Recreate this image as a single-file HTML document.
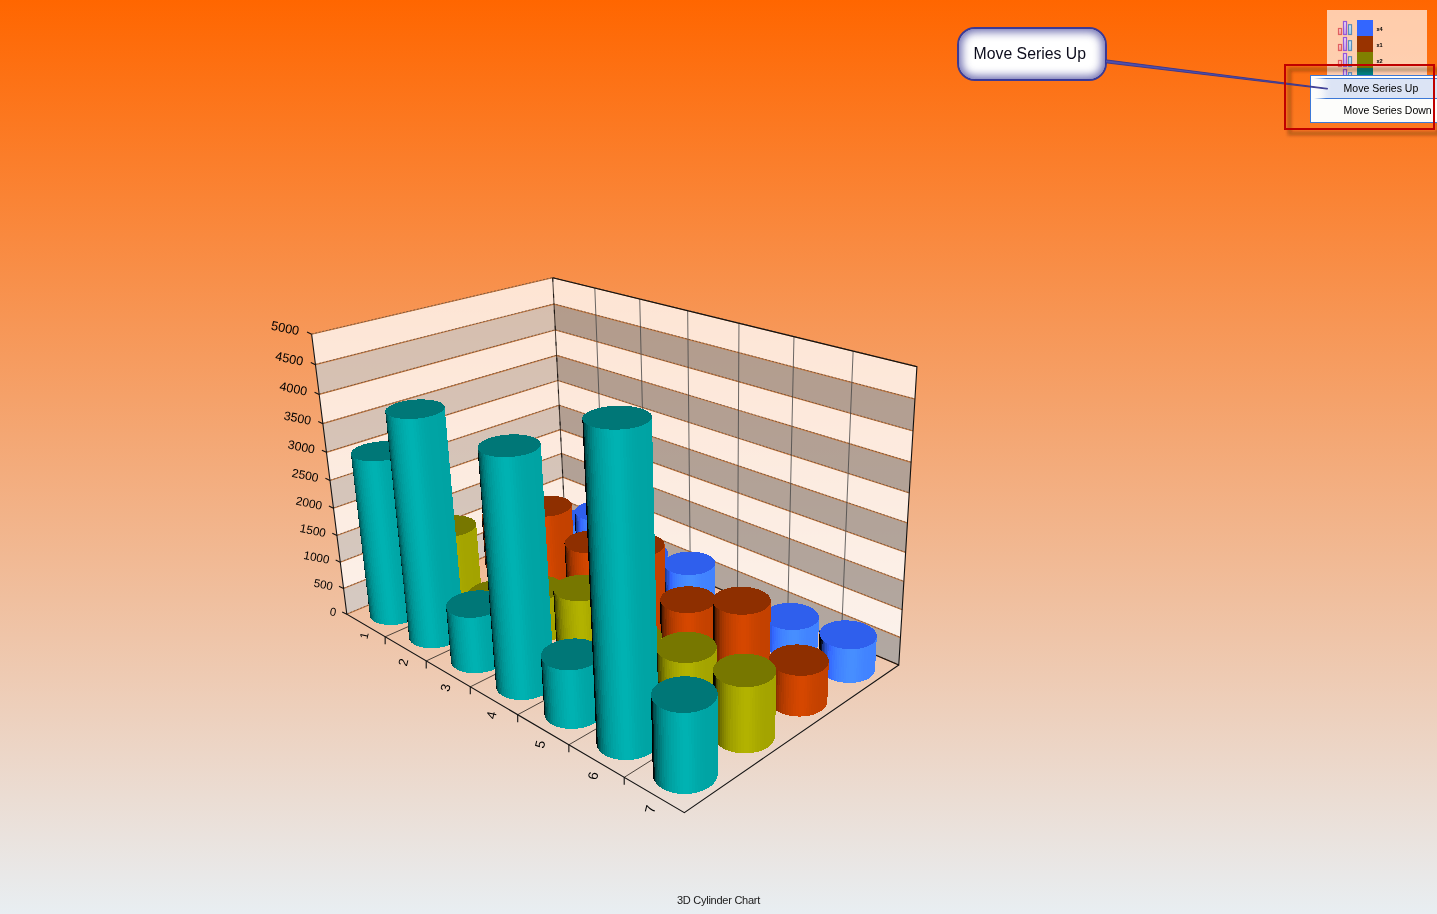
<!DOCTYPE html>
<html><head><meta charset="utf-8"><title>3D Cylinder Chart</title>
<style>
html,body{margin:0;padding:0;}
body{width:1437px;height:914px;overflow:hidden;position:relative;font-family:"Liberation Sans",Arial,sans-serif;
background:linear-gradient(to bottom,#ff6600 0%,#e8eef2 100%);}
#title{position:absolute;left:0;width:1437px;top:893px;text-align:center;font-size:11px;line-height:14px;color:#1a1a1a;letter-spacing:-0.25px;}
#legend{position:absolute;left:1327px;top:10px;width:100px;height:84px;background:rgba(255,255,255,0.667);}
.sw{position:absolute;left:30px;width:16px;height:16px;}
.lt{position:absolute;left:49.6px;font-size:5.6px;line-height:6px;color:#000;font-weight:bold;letter-spacing:-0.2px}
#callout{position:absolute;left:957px;top:27.2px;width:149.6px;height:53.6px;box-sizing:border-box;border:2px solid #3a3a96;border-radius:18px;
background:#fff;box-shadow:inset 0 0 9px 3px rgba(95,95,168,0.9);font-size:15.8px;line-height:49.5px;text-align:center;color:#0c0c1c;text-indent:-4px;}
#menu{position:absolute;left:1310px;top:75px;width:140px;height:47.5px;box-sizing:border-box;border:1px solid #3c78d7;background:#fdfdfb;font-size:10.5px;color:#000;}
#hl{position:absolute;left:3px;top:1.5px;right:-10px;height:21px;border-top:1px solid #3c78d7;border-bottom:1px solid #3c78d7;
background:linear-gradient(to right,#fdfdfb 0,#dce4f5 17px);box-sizing:border-box;}
#hlf{position:absolute;left:3px;top:1.5px;width:12px;height:21px;background:linear-gradient(to right,#fdfdfb 0,rgba(253,253,251,0) 100%);}
.mi{position:absolute;left:32.6px;white-space:nowrap;line-height:13px;}
</style></head><body>
<div id="title">3D Cylinder Chart</div>
<svg width="1437" height="914" viewBox="0 0 1437 914" style="position:absolute;left:0;top:0"><defs></defs><g shape-rendering="geometricPrecision">
<polygon points="346.81,614.26 565.14,523.32 563.98,500.41 343.57,588.44" fill="rgba(204,204,204,0.76)"/>
<polygon points="343.57,588.44 563.98,500.41 562.79,477.16 340.27,562.18" fill="rgba(255,255,255,0.76)"/>
<polygon points="340.27,562.18 562.79,477.16 561.6,453.56 336.91,535.45" fill="rgba(204,204,204,0.76)"/>
<polygon points="336.91,535.45 561.6,453.56 560.38,429.6 333.49,508.25" fill="rgba(255,255,255,0.76)"/>
<polygon points="333.49,508.25 560.38,429.6 559.15,405.27 330.01,480.56" fill="rgba(204,204,204,0.76)"/>
<polygon points="330.01,480.56 559.15,405.27 557.89,380.56 326.47,452.37" fill="rgba(255,255,255,0.76)"/>
<polygon points="326.47,452.37 557.89,380.56 556.62,355.47 322.86,423.66" fill="rgba(204,204,204,0.76)"/>
<polygon points="322.86,423.66 556.62,355.47 555.32,329.98 319.19,394.42" fill="rgba(255,255,255,0.76)"/>
<polygon points="319.19,394.42 555.32,329.98 554.01,304.09 315.44,364.63" fill="rgba(204,204,204,0.76)"/>
<polygon points="315.44,364.63 554.01,304.09 552.67,277.78 311.63,334.29" fill="rgba(255,255,255,0.76)"/>
<polygon points="565.14,523.32 898.78,664.96 900.44,637.64 563.98,500.41" fill="rgba(158,158,158,0.76)"/>
<polygon points="563.98,500.41 900.44,637.64 902.13,609.8 562.79,477.16" fill="rgba(255,255,255,0.76)"/>
<polygon points="562.79,477.16 902.13,609.8 903.86,581.43 561.6,453.56" fill="rgba(158,158,158,0.76)"/>
<polygon points="561.6,453.56 903.86,581.43 905.62,552.51 560.38,429.6" fill="rgba(255,255,255,0.76)"/>
<polygon points="560.38,429.6 905.62,552.51 907.41,523.04 559.15,405.27" fill="rgba(158,158,158,0.76)"/>
<polygon points="559.15,405.27 907.41,523.04 909.24,492.98 557.89,380.56" fill="rgba(255,255,255,0.76)"/>
<polygon points="557.89,380.56 909.24,492.98 911.1,462.34 556.62,355.47" fill="rgba(158,158,158,0.76)"/>
<polygon points="556.62,355.47 911.1,462.34 913,431.07 555.32,329.98" fill="rgba(255,255,255,0.76)"/>
<polygon points="555.32,329.98 913,431.07 914.94,399.18 554.01,304.09" fill="rgba(158,158,158,0.76)"/>
<polygon points="554.01,304.09 914.94,399.18 916.92,366.64 552.67,277.78" fill="rgba(255,255,255,0.76)"/>
<polyline points="346.81,614.26 565.14,523.32 898.78,664.96" fill="none" stroke="#c47840" stroke-width="1.15"/>
<polyline points="346.81,614.26 565.14,523.32 898.78,664.96" fill="none" stroke="rgba(70,58,50,0.65)" stroke-width="0.9" stroke-dasharray="2 1.6" transform="translate(0,-0.3)"/>
<polyline points="343.57,588.44 563.98,500.41 900.44,637.64" fill="none" stroke="#c47840" stroke-width="1.15"/>
<polyline points="343.57,588.44 563.98,500.41 900.44,637.64" fill="none" stroke="rgba(70,58,50,0.65)" stroke-width="0.9" stroke-dasharray="2 1.6" transform="translate(0,-0.3)"/>
<polyline points="340.27,562.18 562.79,477.16 902.13,609.8" fill="none" stroke="#c47840" stroke-width="1.15"/>
<polyline points="340.27,562.18 562.79,477.16 902.13,609.8" fill="none" stroke="rgba(70,58,50,0.65)" stroke-width="0.9" stroke-dasharray="2 1.6" transform="translate(0,-0.3)"/>
<polyline points="336.91,535.45 561.6,453.56 903.86,581.43" fill="none" stroke="#c47840" stroke-width="1.15"/>
<polyline points="336.91,535.45 561.6,453.56 903.86,581.43" fill="none" stroke="rgba(70,58,50,0.65)" stroke-width="0.9" stroke-dasharray="2 1.6" transform="translate(0,-0.3)"/>
<polyline points="333.49,508.25 560.38,429.6 905.62,552.51" fill="none" stroke="#c47840" stroke-width="1.15"/>
<polyline points="333.49,508.25 560.38,429.6 905.62,552.51" fill="none" stroke="rgba(70,58,50,0.65)" stroke-width="0.9" stroke-dasharray="2 1.6" transform="translate(0,-0.3)"/>
<polyline points="330.01,480.56 559.15,405.27 907.41,523.04" fill="none" stroke="#c47840" stroke-width="1.15"/>
<polyline points="330.01,480.56 559.15,405.27 907.41,523.04" fill="none" stroke="rgba(70,58,50,0.65)" stroke-width="0.9" stroke-dasharray="2 1.6" transform="translate(0,-0.3)"/>
<polyline points="326.47,452.37 557.89,380.56 909.24,492.98" fill="none" stroke="#c47840" stroke-width="1.15"/>
<polyline points="326.47,452.37 557.89,380.56 909.24,492.98" fill="none" stroke="rgba(70,58,50,0.65)" stroke-width="0.9" stroke-dasharray="2 1.6" transform="translate(0,-0.3)"/>
<polyline points="322.86,423.66 556.62,355.47 911.1,462.34" fill="none" stroke="#c47840" stroke-width="1.15"/>
<polyline points="322.86,423.66 556.62,355.47 911.1,462.34" fill="none" stroke="rgba(70,58,50,0.65)" stroke-width="0.9" stroke-dasharray="2 1.6" transform="translate(0,-0.3)"/>
<polyline points="319.19,394.42 555.32,329.98 913,431.07" fill="none" stroke="#c47840" stroke-width="1.15"/>
<polyline points="319.19,394.42 555.32,329.98 913,431.07" fill="none" stroke="rgba(70,58,50,0.65)" stroke-width="0.9" stroke-dasharray="2 1.6" transform="translate(0,-0.3)"/>
<polyline points="315.44,364.63 554.01,304.09 914.94,399.18" fill="none" stroke="#c47840" stroke-width="1.15"/>
<polyline points="315.44,364.63 554.01,304.09 914.94,399.18" fill="none" stroke="rgba(70,58,50,0.65)" stroke-width="0.9" stroke-dasharray="2 1.6" transform="translate(0,-0.3)"/>
<polyline points="311.63,334.29 552.67,277.78 916.92,366.64" fill="none" stroke="#c47840" stroke-width="1.15"/>
<polyline points="311.63,334.29 552.67,277.78 916.92,366.64" fill="none" stroke="rgba(70,58,50,0.65)" stroke-width="0.9" stroke-dasharray="2 1.6" transform="translate(0,-0.3)"/>
<line x1="604.43" y1="540" x2="594.82" y2="288.06" stroke="rgba(70,70,70,0.8)" stroke-width="1.0"/>
<line x1="646.1" y1="557.69" x2="639.72" y2="299.01" stroke="rgba(70,70,70,0.8)" stroke-width="1.0"/>
<line x1="690.35" y1="576.47" x2="687.66" y2="310.71" stroke="rgba(70,70,70,0.8)" stroke-width="1.0"/>
<line x1="737.44" y1="596.47" x2="738.96" y2="323.22" stroke="rgba(70,70,70,0.8)" stroke-width="1.0"/>
<line x1="787.65" y1="617.78" x2="793.98" y2="336.65" stroke="rgba(70,70,70,0.8)" stroke-width="1.0"/>
<line x1="841.31" y1="640.56" x2="853.14" y2="351.08" stroke="rgba(70,70,70,0.8)" stroke-width="1.0"/>
<line x1="385.16" y1="636.8" x2="604.43" y2="540" stroke="rgba(60,52,46,0.9)" stroke-width="1.0"/>
<line x1="426.22" y1="660.94" x2="646.1" y2="557.69" stroke="rgba(60,52,46,0.9)" stroke-width="1.0"/>
<line x1="470.29" y1="686.84" x2="690.35" y2="576.47" stroke="rgba(60,52,46,0.9)" stroke-width="1.0"/>
<line x1="517.7" y1="714.71" x2="737.44" y2="596.47" stroke="rgba(60,52,46,0.9)" stroke-width="1.0"/>
<line x1="568.86" y1="744.78" x2="787.65" y2="617.78" stroke="rgba(60,52,46,0.9)" stroke-width="1.0"/>
<line x1="624.22" y1="777.33" x2="841.31" y2="640.56" stroke="rgba(60,52,46,0.9)" stroke-width="1.0"/>
<polyline points="565.14,523.32 898.78,664.96 916.92,366.64 552.67,277.78" fill="none" stroke="#111" stroke-width="1.1"/>
<line x1="565.14" y1="523.32" x2="552.67" y2="277.78" stroke="rgba(0,0,0,0.8)" stroke-width="0.9"/>
<line x1="552.67" y1="277.78" x2="565.14" y2="523.32" stroke="#000" stroke-width="1.2" stroke-dasharray="4 12" stroke-opacity="0.6"/>
<polyline points="311.63,334.29 346.81,614.26 684.33,812.66 898.78,664.96" fill="none" stroke="#141414" stroke-width="1.1"/>
<line x1="346.81" y1="614.26" x2="342.21" y2="612.06" stroke="#111" stroke-width="1.1"/>
<line x1="343.57" y1="588.44" x2="338.97" y2="586.24" stroke="#111" stroke-width="1.1"/>
<line x1="340.27" y1="562.18" x2="335.67" y2="559.98" stroke="#111" stroke-width="1.1"/>
<line x1="336.91" y1="535.45" x2="332.31" y2="533.25" stroke="#111" stroke-width="1.1"/>
<line x1="333.49" y1="508.25" x2="328.89" y2="506.05" stroke="#111" stroke-width="1.1"/>
<line x1="330.01" y1="480.56" x2="325.41" y2="478.36" stroke="#111" stroke-width="1.1"/>
<line x1="326.47" y1="452.37" x2="321.87" y2="450.17" stroke="#111" stroke-width="1.1"/>
<line x1="322.86" y1="423.66" x2="318.26" y2="421.46" stroke="#111" stroke-width="1.1"/>
<line x1="319.19" y1="394.42" x2="314.59" y2="392.22" stroke="#111" stroke-width="1.1"/>
<line x1="315.44" y1="364.63" x2="310.84" y2="362.43" stroke="#111" stroke-width="1.1"/>
<line x1="311.63" y1="334.29" x2="307.03" y2="332.09" stroke="#111" stroke-width="1.1"/>
<line x1="385.16" y1="636.8" x2="385.16" y2="644.3" stroke="#111" stroke-width="1.1"/>
<line x1="426.22" y1="660.94" x2="426.22" y2="668.44" stroke="#111" stroke-width="1.1"/>
<line x1="470.29" y1="686.84" x2="470.29" y2="694.34" stroke="#111" stroke-width="1.1"/>
<line x1="517.7" y1="714.71" x2="517.7" y2="722.21" stroke="#111" stroke-width="1.1"/>
<line x1="568.86" y1="744.78" x2="568.86" y2="752.28" stroke="#111" stroke-width="1.1"/>
<line x1="624.22" y1="777.33" x2="624.22" y2="784.83" stroke="#111" stroke-width="1.1"/>
</g>
<g font-family="'Liberation Sans',Arial,sans-serif" fill="#000">
<text transform="matrix(0.98,0.2,-0.18,0.98,335.51,616.16)" font-size="11.4" text-anchor="end">0</text>
<text transform="matrix(0.98,0.2,-0.18,0.98,332.07,590.25)" font-size="11.54" text-anchor="end">500</text>
<text transform="matrix(0.98,0.2,-0.18,0.98,328.57,563.9)" font-size="11.68" text-anchor="end">1000</text>
<text transform="matrix(0.98,0.2,-0.18,0.98,325.01,537.08)" font-size="11.82" text-anchor="end">1500</text>
<text transform="matrix(0.98,0.2,-0.18,0.98,321.39,509.79)" font-size="11.96" text-anchor="end">2000</text>
<text transform="matrix(0.98,0.2,-0.18,0.98,317.71,482.01)" font-size="12.1" text-anchor="end">2500</text>
<text transform="matrix(0.98,0.2,-0.18,0.98,313.97,453.73)" font-size="12.24" text-anchor="end">3000</text>
<text transform="matrix(0.98,0.2,-0.18,0.98,310.16,424.93)" font-size="12.38" text-anchor="end">3500</text>
<text transform="matrix(0.98,0.2,-0.18,0.98,306.29,395.6)" font-size="12.52" text-anchor="end">4000</text>
<text transform="matrix(0.98,0.2,-0.18,0.98,302.34,365.72)" font-size="12.66" text-anchor="end">4500</text>
<text transform="matrix(0.98,0.2,-0.18,0.98,298.33,335.29)" font-size="12.8" text-anchor="end">5000</text>
<text transform="matrix(0.24,-0.97,0.97,0.22,368.08,636.34)" font-size="11.5" text-anchor="middle">1</text>
<text transform="matrix(0.24,-0.97,0.97,0.22,407.58,663.18)" font-size="13" text-anchor="middle">2</text>
<text transform="matrix(0.24,-0.97,0.97,0.22,449.87,688.79)" font-size="13.2" text-anchor="middle">3</text>
<text transform="matrix(0.24,-0.97,0.97,0.22,495.83,716.07)" font-size="13.4" text-anchor="middle">4</text>
<text transform="matrix(0.24,-0.97,0.97,0.22,544.63,745.32)" font-size="13.6" text-anchor="middle">5</text>
<text transform="matrix(0.24,-0.97,0.97,0.22,597.6,776.71)" font-size="13.8" text-anchor="middle">6</text>
<text transform="matrix(0.24,-0.97,0.97,0.22,654.94,810.12)" font-size="14" text-anchor="middle">7</text>
</g>
<g shape-rendering="crispEdges">
<polygon points="537.08,543.2 535.66,519.65 535.73,518.79 535.99,517.93 536.43,517.08 537.03,516.24 537.81,515.42 538.74,514.62 539.83,513.85 541.06,513.12 542.42,512.42 543.91,511.78 545.52,511.18 547.22,510.64 549.01,510.16 550.87,509.74 552.8,509.38 554.77,509.09 556.77,508.87 558.79,508.72 560.82,508.64 562.83,508.64 564.82,508.7 566.76,508.84 568.65,509.05 570.48,509.33 572.22,509.67 573.87,510.09 575.41,510.56 576.83,511.09 578.13,511.68 579.28,512.32 580.29,513 581.14,513.73 581.83,514.49 582.35,515.28 582.7,516.1 582.87,516.94 583.92,540.41 583.92,541.28 583.73,542.17 583.37,543.06 582.84,543.94 582.13,544.8 581.25,545.65 580.22,546.46 579.03,547.25 577.69,547.99 576.22,548.69 574.62,549.34 572.92,549.93 571.11,550.45 569.22,550.92 567.26,551.31 565.25,551.63 563.19,551.87 561.12,552.04 559.04,552.12 556.97,552.13 554.93,552.06 552.94,551.9 551,551.67 549.14,551.37 547.37,550.99 545.71,550.53 544.16,550.02 542.74,549.44 541.46,548.8 540.33,548.11 539.36,547.37 538.56,546.59 537.92,545.78 537.46,544.94 537.18,544.08" fill="#4488ff"/><polygon points="535.66,519.65 535.76,520.49 537.18,544.08 537.08,543.2" fill="#000102"/><polygon points="535.76,520.49 536.04,521.33 537.46,544.94 537.18,544.08" fill="#02040a"/><polygon points="536.04,521.33 536.5,522.14 537.92,545.78 537.46,544.94" fill="#09122e"/><polygon points="536.5,522.14 537.14,522.93 538.56,546.59 537.92,545.78" fill="#1d398f"/><polygon points="537.14,522.93 537.95,523.68 539.36,547.37 538.56,546.59" fill="#2244ab"/><polygon points="537.95,523.68 538.93,524.39 540.33,548.11 539.36,547.37" fill="#2851ca"/><polygon points="538.93,524.39 540.06,525.06 541.46,548.8 540.33,548.11" fill="#2e5ce5"/><polygon points="540.06,525.06 541.35,525.68 542.74,549.44 541.46,548.8" fill="#3365fd"/><polygon points="541.35,525.68 542.78,526.24 544.16,550.02 542.74,549.44" fill="#376eff"/><polygon points="542.78,526.24 544.34,526.74 545.71,550.53 544.16,550.02" fill="#3a75ff"/><polygon points="544.34,526.74 546.01,527.18 547.37,550.99 545.71,550.53" fill="#3d7bff"/><polygon points="546.01,527.18 547.8,527.54 549.14,551.37 547.37,550.99" fill="#4080ff"/><polygon points="547.8,527.54 549.67,527.84 551,551.67 549.14,551.37" fill="#4284ff"/><polygon points="549.67,527.84 551.62,528.07 552.94,551.9 551,551.67" fill="#4387ff"/><polygon points="551.62,528.07 553.63,528.21 554.93,552.06 552.94,551.9" fill="#458aff"/><polygon points="553.63,528.21 555.69,528.28 556.97,552.13 554.93,552.06" fill="#468dff"/><polygon points="555.69,528.28 557.77,528.28 559.04,552.12 556.97,552.13" fill="#478eff"/><polygon points="557.77,528.28 559.87,528.19 561.12,552.04 559.04,552.12" fill="#478eff"/><polygon points="559.87,528.19 561.96,528.03 563.19,551.87 561.12,552.04" fill="#468dff"/><polygon points="561.96,528.03 564.03,527.8 565.25,551.63 563.19,551.87" fill="#458aff"/><polygon points="564.03,527.8 566.06,527.49 567.26,551.31 565.25,551.63" fill="#4488ff"/><polygon points="566.06,527.49 568.03,527.11 569.22,550.92 567.26,551.31" fill="#4386ff"/><polygon points="568.03,527.11 569.94,526.66 571.11,550.45 569.22,550.92" fill="#4284ff"/><polygon points="569.94,526.66 571.76,526.15 572.92,549.93 571.11,550.45" fill="#4284ff"/><polygon points="571.76,526.15 573.48,525.58 574.62,549.34 572.92,549.93" fill="#4183ff"/><polygon points="573.48,525.58 575.09,524.95 576.22,548.69 574.62,549.34" fill="#4183ff"/><polygon points="575.09,524.95 576.57,524.28 577.69,547.99 576.22,548.69" fill="#4182ff"/><polygon points="576.57,524.28 577.92,523.56 579.03,547.25 577.69,547.99" fill="#4182ff"/><polygon points="577.92,523.56 579.12,522.8 580.22,546.46 579.03,547.25" fill="#4182ff"/><polygon points="579.12,522.8 580.17,522.01 581.25,545.65 580.22,546.46" fill="#4182ff"/><polygon points="580.17,522.01 581.05,521.19 582.13,544.8 581.25,545.65" fill="#4182ff"/><polygon points="581.05,521.19 581.77,520.36 582.84,543.94 582.13,544.8" fill="#4182ff"/><polygon points="581.77,520.36 582.31,519.51 583.37,543.06 582.84,543.94" fill="#4182ff"/><polygon points="582.31,519.51 582.68,518.65 583.73,542.17 583.37,543.06" fill="#4182ff"/><polygon points="582.68,518.65 582.86,517.79 583.92,541.28 583.73,542.17" fill="#4182ff"/><polygon points="582.86,517.79 582.87,516.94 583.92,540.41 583.92,541.28" fill="#4081ff"/><polygon points="575.09,524.95 576.57,524.28 577.92,523.56 579.12,522.8 580.17,522.01 581.05,521.19 581.77,520.36 582.31,519.51 582.68,518.65 582.86,517.79 582.87,516.94 582.7,516.1 582.35,515.28 581.83,514.49 581.14,513.73 580.29,513 579.28,512.32 578.13,511.68 576.83,511.09 575.41,510.56 573.87,510.09 572.22,509.67 570.48,509.33 568.65,509.05 566.76,508.84 564.82,508.7 562.83,508.64 560.82,508.64 558.79,508.72 556.77,508.87 554.77,509.09 552.8,509.38 550.87,509.74 549.01,510.16 547.22,510.64 545.52,511.18 543.91,511.78 542.42,512.42 541.06,513.12 539.83,513.85 538.74,514.62 537.81,515.42 537.03,516.24 536.43,517.08 535.99,517.93 535.73,518.79 535.66,519.65 535.76,520.49 536.04,521.33 536.5,522.14 537.14,522.93 537.95,523.68 538.93,524.39 540.06,525.06 541.35,525.68 542.78,526.24 544.34,526.74 546.01,527.18 547.8,527.54 549.67,527.84 551.62,528.07 553.63,528.21 555.69,528.28 557.77,528.28 559.87,528.19 561.96,528.03 564.03,527.8 566.06,527.49 568.03,527.11 569.94,526.66 571.76,526.15 573.48,525.58" fill="#2f5fed"/>
<polygon points="576.94,561.09 574.6,511.89 574.62,511.01 574.83,510.13 575.22,509.26 575.79,508.4 576.53,507.56 577.44,506.74 578.52,505.95 579.74,505.2 581.11,504.49 582.61,503.83 584.23,503.22 585.96,502.67 587.78,502.17 589.69,501.74 591.66,501.38 593.69,501.08 595.75,500.86 597.84,500.7 599.93,500.62 602.02,500.62 604.09,500.68 606.12,500.83 608.1,501.04 610.01,501.32 611.85,501.68 613.59,502.1 615.23,502.58 616.74,503.13 618.13,503.73 619.38,504.38 620.47,505.08 621.41,505.83 622.19,506.61 622.79,507.42 623.21,508.26 623.45,509.12 623.51,509.99 625.06,559.05 624.93,559.99 624.62,560.93 624.13,561.87 623.47,562.78 622.63,563.68 621.62,564.55 620.45,565.38 619.12,566.17 617.66,566.91 616.06,567.6 614.34,568.23 612.52,568.79 610.6,569.28 608.61,569.7 606.56,570.04 604.46,570.29 602.34,570.47 600.2,570.56 598.07,570.57 595.96,570.49 593.89,570.33 591.88,570.08 589.94,569.76 588.09,569.35 586.34,568.88 584.71,568.33 583.21,567.71 581.85,567.03 580.63,566.3 579.58,565.52 578.7,564.69 577.99,563.83 577.45,562.93 577.1,562.02" fill="#4488ff"/><polygon points="574.6,511.89 574.77,512.76 577.1,562.02 576.94,561.09" fill="#000102"/><polygon points="574.77,512.76 575.12,513.61 577.45,562.93 577.1,562.02" fill="#02040a"/><polygon points="575.12,513.61 575.66,514.45 577.99,563.83 577.45,562.93" fill="#09122e"/><polygon points="575.66,514.45 576.38,515.25 578.7,564.69 577.99,563.83" fill="#1d398f"/><polygon points="576.38,515.25 577.27,516.02 579.58,565.52 578.7,564.69" fill="#2244ab"/><polygon points="577.27,516.02 578.34,516.76 580.63,566.3 579.58,565.52" fill="#2851ca"/><polygon points="578.34,516.76 579.57,517.44 581.85,567.03 580.63,566.3" fill="#2e5ce5"/><polygon points="579.57,517.44 580.95,518.07 583.21,567.71 581.85,567.03" fill="#3365fd"/><polygon points="580.95,518.07 582.47,518.65 584.71,568.33 583.21,567.71" fill="#376eff"/><polygon points="582.47,518.65 584.13,519.16 586.34,568.88 584.71,568.33" fill="#3a75ff"/><polygon points="584.13,519.16 585.91,519.61 588.09,569.35 586.34,568.88" fill="#3d7bff"/><polygon points="585.91,519.61 587.78,519.99 589.94,569.76 588.09,569.35" fill="#4080ff"/><polygon points="587.78,519.99 589.75,520.29 591.88,570.08 589.94,569.76" fill="#4284ff"/><polygon points="589.75,520.29 591.8,520.52 593.89,570.33 591.88,570.08" fill="#4387ff"/><polygon points="591.8,520.52 593.9,520.67 595.96,570.49 593.89,570.33" fill="#458aff"/><polygon points="593.9,520.67 596.04,520.75 598.07,570.57 595.96,570.49" fill="#468dff"/><polygon points="596.04,520.75 598.21,520.74 600.2,570.56 598.07,570.57" fill="#478eff"/><polygon points="598.21,520.74 600.38,520.65 602.34,570.47 600.2,570.56" fill="#478eff"/><polygon points="600.38,520.65 602.54,520.49 604.46,570.29 602.34,570.47" fill="#468dff"/><polygon points="602.54,520.49 604.68,520.25 606.56,570.04 604.46,570.29" fill="#458aff"/><polygon points="604.68,520.25 606.76,519.93 608.61,569.7 606.56,570.04" fill="#4488ff"/><polygon points="606.76,519.93 608.79,519.54 610.6,569.28 608.61,569.7" fill="#4386ff"/><polygon points="608.79,519.54 610.74,519.08 612.52,568.79 610.6,569.28" fill="#4284ff"/><polygon points="610.74,519.08 612.59,518.56 614.34,568.23 612.52,568.79" fill="#4284ff"/><polygon points="612.59,518.56 614.34,517.97 616.06,567.6 614.34,568.23" fill="#4183ff"/><polygon points="614.34,517.97 615.96,517.33 617.66,566.91 616.06,567.6" fill="#4183ff"/><polygon points="615.96,517.33 617.46,516.64 619.12,566.17 617.66,566.91" fill="#4182ff"/><polygon points="617.46,516.64 618.8,515.9 620.45,565.38 619.12,566.17" fill="#4182ff"/><polygon points="618.8,515.9 620,515.12 621.62,564.55 620.45,565.38" fill="#4182ff"/><polygon points="620,515.12 621.02,514.31 622.63,563.68 621.62,564.55" fill="#4182ff"/><polygon points="621.02,514.31 621.88,513.48 623.47,562.78 622.63,563.68" fill="#4182ff"/><polygon points="621.88,513.48 622.56,512.62 624.13,561.87 623.47,562.78" fill="#4182ff"/><polygon points="622.56,512.62 623.06,511.75 624.62,560.93 624.13,561.87" fill="#4182ff"/><polygon points="623.06,511.75 623.38,510.87 624.93,559.99 624.62,560.93" fill="#4182ff"/><polygon points="623.38,510.87 623.51,509.99 625.06,559.05 624.93,559.99" fill="#4182ff"/><polygon points="615.96,517.33 617.46,516.64 618.8,515.9 620,515.12 621.02,514.31 621.88,513.48 622.56,512.62 623.06,511.75 623.38,510.87 623.51,509.99 623.45,509.12 623.21,508.26 622.79,507.42 622.19,506.61 621.41,505.83 620.47,505.08 619.38,504.38 618.13,503.73 616.74,503.13 615.23,502.58 613.59,502.1 611.85,501.68 610.01,501.32 608.1,501.04 606.12,500.83 604.09,500.68 602.02,500.62 599.93,500.62 597.84,500.7 595.75,500.86 593.69,501.08 591.66,501.38 589.69,501.74 587.78,502.17 585.96,502.67 584.23,503.22 582.61,503.83 581.11,504.49 579.74,505.2 578.52,505.95 577.44,506.74 576.53,507.56 575.79,508.4 575.22,509.26 574.83,510.13 574.62,511.01 574.6,511.89 574.77,512.76 575.12,513.61 575.66,514.45 576.38,515.25 577.27,516.02 578.34,516.76 579.57,517.44 580.95,518.07 582.47,518.65 584.13,519.16 585.91,519.61 587.78,519.99 589.75,520.29 591.8,520.52 593.9,520.67 596.04,520.75 598.21,520.74 600.38,520.65 602.54,520.49 604.68,520.25 606.76,519.93 608.79,519.54 610.74,519.08 612.59,518.56 614.34,517.97" fill="#2f5fed"/>
<polygon points="668.33,553.26 668.76,577.93 668.7,578.93 668.45,579.93 668.02,580.92 667.4,581.9 666.6,582.85 665.62,583.77 664.47,584.66 663.17,585.5 661.71,586.29 660.11,587.02 658.39,587.69 656.55,588.29 654.61,588.81 652.59,589.25 650.49,589.61 648.35,589.89 646.17,590.08 643.97,590.17 641.77,590.18 639.59,590.1 637.45,589.93 635.35,589.67 633.33,589.32 631.39,588.89 629.55,588.38 627.83,587.79 626.23,587.14 624.78,586.42 623.48,585.64 622.34,584.8 621.36,583.92 620.57,583.01 619.95,582.06 619.53,581.08 619.29,580.09 619.24,579.09 618.4,554.39 618.54,553.42 618.87,552.45 619.39,551.51 620.08,550.58 620.95,549.68 621.98,548.81 623.18,547.98 624.52,547.2 626,546.47 627.61,545.8 629.33,545.19 631.15,544.64 633.07,544.17 635.05,543.77 637.1,543.44 639.19,543.19 641.32,543.02 643.45,542.93 645.59,542.93 647.71,543 649.8,543.16 651.84,543.39 653.82,543.71 655.73,544.1 657.54,544.56 659.25,545.09 660.85,545.69 662.32,546.36 663.65,547.08 664.83,547.85 665.85,548.67 666.7,549.53 667.38,550.43 667.89,551.35 668.2,552.3" fill="#4488ff"/><polygon points="618.4,554.39 618.45,555.35 619.29,580.09 619.24,579.09" fill="#000000"/><polygon points="618.45,555.35 618.69,556.31 619.53,581.08 619.29,580.09" fill="#000102"/><polygon points="618.69,556.31 619.12,557.26 619.95,582.06 619.53,581.08" fill="#02040a"/><polygon points="619.12,557.26 619.74,558.18 620.57,583.01 619.95,582.06" fill="#09122e"/><polygon points="619.74,558.18 620.54,559.06 621.36,583.92 620.57,583.01" fill="#1d398f"/><polygon points="620.54,559.06 621.52,559.92 622.34,584.8 621.36,583.92" fill="#2244ab"/><polygon points="621.52,559.92 622.67,560.72 623.48,585.64 622.34,584.8" fill="#2851ca"/><polygon points="622.67,560.72 623.98,561.48 624.78,586.42 623.48,585.64" fill="#2e5ce5"/><polygon points="623.98,561.48 625.45,562.18 626.23,587.14 624.78,586.42" fill="#3365fd"/><polygon points="625.45,562.18 627.06,562.81 627.83,587.79 626.23,587.14" fill="#376eff"/><polygon points="627.06,562.81 628.79,563.38 629.55,588.38 627.83,587.79" fill="#3a75ff"/><polygon points="628.79,563.38 630.65,563.87 631.39,588.89 629.55,588.38" fill="#3d7bff"/><polygon points="630.65,563.87 632.6,564.29 633.33,589.32 631.39,588.89" fill="#4080ff"/><polygon points="632.6,564.29 634.64,564.63 635.35,589.67 633.33,589.32" fill="#4284ff"/><polygon points="634.64,564.63 636.75,564.88 637.45,589.93 635.35,589.67" fill="#4387ff"/><polygon points="636.75,564.88 638.91,565.05 639.59,590.1 637.45,589.93" fill="#458aff"/><polygon points="638.91,565.05 641.11,565.13 641.77,590.18 639.59,590.1" fill="#468dff"/><polygon points="641.11,565.13 643.33,565.12 643.97,590.17 641.77,590.18" fill="#478eff"/><polygon points="643.33,565.12 645.54,565.02 646.17,590.08 643.97,590.17" fill="#478eff"/><polygon points="645.54,565.02 647.74,564.84 648.35,589.89 646.17,590.08" fill="#468dff"/><polygon points="647.74,564.84 649.91,564.58 650.49,589.61 648.35,589.89" fill="#458aff"/><polygon points="649.91,564.58 652.02,564.23 652.59,589.25 650.49,589.61" fill="#4488ff"/><polygon points="652.02,564.23 654.06,563.8 654.61,588.81 652.59,589.25" fill="#4386ff"/><polygon points="654.06,563.8 656.02,563.29 656.55,588.29 654.61,588.81" fill="#4284ff"/><polygon points="656.02,563.29 657.87,562.71 658.39,587.69 656.55,588.29" fill="#4284ff"/><polygon points="657.87,562.71 659.61,562.06 660.11,587.02 658.39,587.69" fill="#4183ff"/><polygon points="659.61,562.06 661.22,561.36 661.71,586.29 660.11,587.02" fill="#4183ff"/><polygon points="661.22,561.36 662.69,560.59 663.17,585.5 661.71,586.29" fill="#4182ff"/><polygon points="662.69,560.59 664.01,559.78 664.47,584.66 663.17,585.5" fill="#4182ff"/><polygon points="664.01,559.78 665.16,558.92 665.62,583.77 664.47,584.66" fill="#4182ff"/><polygon points="665.16,558.92 666.15,558.03 666.6,582.85 665.62,583.77" fill="#4182ff"/><polygon points="666.15,558.03 666.96,557.1 667.4,581.9 666.6,582.85" fill="#4182ff"/><polygon points="666.96,557.1 667.58,556.16 668.02,580.92 667.4,581.9" fill="#4182ff"/><polygon points="667.58,556.16 668.02,555.19 668.45,579.93 668.02,580.92" fill="#4182ff"/><polygon points="668.02,555.19 668.27,554.23 668.7,578.93 668.45,579.93" fill="#4182ff"/><polygon points="668.27,554.23 668.33,553.26 668.76,577.93 668.7,578.93" fill="#4182ff"/><polygon points="661.22,561.36 662.69,560.59 664.01,559.78 665.16,558.92 666.15,558.03 666.96,557.1 667.58,556.16 668.02,555.19 668.27,554.23 668.33,553.26 668.2,552.3 667.89,551.35 667.38,550.43 666.7,549.53 665.85,548.67 664.83,547.85 663.65,547.08 662.32,546.36 660.85,545.69 659.25,545.09 657.54,544.56 655.73,544.1 653.82,543.71 651.84,543.39 649.8,543.16 647.71,543 645.59,542.93 643.45,542.93 641.32,543.02 639.19,543.19 637.1,543.44 635.05,543.77 633.07,544.17 631.15,544.64 629.33,545.19 627.61,545.8 626,546.47 624.52,547.2 623.18,547.98 621.98,548.81 620.95,549.68 620.08,550.58 619.39,551.51 618.87,552.45 618.54,553.42 618.4,554.39 618.45,555.35 618.69,556.31 619.12,557.26 619.74,558.18 620.54,559.06 621.52,559.92 622.67,560.72 623.98,561.48 625.45,562.18 627.06,562.81 628.79,563.38 630.65,563.87 632.6,564.29 634.64,564.63 636.75,564.88 638.91,565.05 641.11,565.13 643.33,565.12 645.54,565.02 647.74,564.84 649.91,564.58 652.02,564.23 654.06,563.8 656.02,563.29 657.87,562.71 659.61,562.06" fill="#2f5fed"/>
<polygon points="664.25,599.26 663.57,563.69 663.64,562.68 663.91,561.66 664.37,560.66 665.01,559.69 665.84,558.74 666.85,557.83 668.02,556.96 669.35,556.14 670.82,555.37 672.43,554.66 674.17,554.02 676.02,553.45 677.96,552.95 679.99,552.53 682.08,552.19 684.23,551.92 686.41,551.75 688.61,551.65 690.83,551.65 693.03,551.73 695.2,551.89 697.33,552.14 699.41,552.47 701.41,552.88 703.33,553.36 705.14,553.92 706.84,554.55 708.42,555.25 709.85,556.01 711.14,556.82 712.26,557.68 713.22,558.59 713.99,559.53 714.59,560.5 714.99,561.5 715.21,562.51 715.22,563.53 715.29,599.08 715.11,600.15 714.74,601.2 714.17,602.24 713.42,603.26 712.48,604.25 711.37,605.19 710.08,606.09 708.64,606.93 707.05,607.71 705.32,608.42 703.46,609.06 701.5,609.61 699.44,610.09 697.31,610.47 695.11,610.77 692.88,610.97 690.61,611.07 688.34,611.08 686.09,610.99 683.86,610.81 681.68,610.53 679.56,610.16 677.53,609.7 675.59,609.16 673.77,608.53 672.07,607.83 670.51,607.06 669.11,606.23 667.87,605.34 666.8,604.41 665.91,603.43 665.21,602.42 664.69,601.38 664.37,600.32" fill="#4488ff"/><polygon points="663.57,563.69 663.7,564.71 664.37,600.32 664.25,599.26" fill="#000000"/><polygon points="663.7,564.71 664.02,565.72 664.69,601.38 664.37,600.32" fill="#000102"/><polygon points="664.02,565.72 664.54,566.71 665.21,602.42 664.69,601.38" fill="#02040a"/><polygon points="664.54,566.71 665.25,567.68 665.91,603.43 665.21,602.42" fill="#09122e"/><polygon points="665.25,567.68 666.15,568.62 666.8,604.41 665.91,603.43" fill="#1d398f"/><polygon points="666.15,568.62 667.23,569.51 667.87,605.34 666.8,604.41" fill="#2244ab"/><polygon points="667.23,569.51 668.49,570.36 669.11,606.23 667.87,605.34" fill="#2851ca"/><polygon points="668.49,570.36 669.91,571.16 670.51,607.06 669.11,606.23" fill="#2e5ce5"/><polygon points="669.91,571.16 671.48,571.89 672.07,607.83 670.51,607.06" fill="#3365fd"/><polygon points="671.48,571.89 673.2,572.56 673.77,608.53 672.07,607.83" fill="#376eff"/><polygon points="673.2,572.56 675.04,573.16 675.59,609.16 673.77,608.53" fill="#3a75ff"/><polygon points="675.04,573.16 677,573.68 677.53,609.7 675.59,609.16" fill="#3d7bff"/><polygon points="677,573.68 679.06,574.12 679.56,610.16 677.53,609.7" fill="#4080ff"/><polygon points="679.06,574.12 681.2,574.47 681.68,610.53 679.56,610.16" fill="#4284ff"/><polygon points="681.2,574.47 683.41,574.74 683.86,610.81 681.68,610.53" fill="#4387ff"/><polygon points="683.41,574.74 685.67,574.92 686.09,610.99 683.86,610.81" fill="#458aff"/><polygon points="685.67,574.92 687.95,575 688.34,611.08 686.09,610.99" fill="#468dff"/><polygon points="687.95,575 690.25,574.99 690.61,611.07 688.34,611.08" fill="#478eff"/><polygon points="690.25,574.99 692.54,574.89 692.88,610.97 690.61,611.07" fill="#478eff"/><polygon points="692.54,574.89 694.8,574.7 695.11,610.77 692.88,610.97" fill="#468dff"/><polygon points="694.8,574.7 697.02,574.42 697.31,610.47 695.11,610.77" fill="#458aff"/><polygon points="697.02,574.42 699.18,574.05 699.44,610.09 697.31,610.47" fill="#4488ff"/><polygon points="699.18,574.05 701.27,573.6 701.5,609.61 699.44,610.09" fill="#4386ff"/><polygon points="701.27,573.6 703.25,573.07 703.46,609.06 701.5,609.61" fill="#4284ff"/><polygon points="703.25,573.07 705.13,572.46 705.32,608.42 703.46,609.06" fill="#4284ff"/><polygon points="705.13,572.46 706.88,571.78 707.05,607.71 705.32,608.42" fill="#4183ff"/><polygon points="706.88,571.78 708.49,571.03 708.64,606.93 707.05,607.71" fill="#4183ff"/><polygon points="708.49,571.03 709.95,570.23 710.08,606.09 708.64,606.93" fill="#4182ff"/><polygon points="709.95,570.23 711.25,569.37 711.37,605.19 710.08,606.09" fill="#4182ff"/><polygon points="711.25,569.37 712.38,568.46 712.48,604.25 711.37,605.19" fill="#4182ff"/><polygon points="712.38,568.46 713.33,567.52 713.42,603.26 712.48,604.25" fill="#4182ff"/><polygon points="713.33,567.52 714.09,566.55 714.17,602.24 713.42,603.26" fill="#4182ff"/><polygon points="714.09,566.55 714.66,565.56 714.74,601.2 714.17,602.24" fill="#4182ff"/><polygon points="714.66,565.56 715.04,564.54 715.11,600.15 714.74,601.2" fill="#4182ff"/><polygon points="715.04,564.54 715.22,563.53 715.29,599.08 715.11,600.15" fill="#4182ff"/><polygon points="708.49,571.03 709.95,570.23 711.25,569.37 712.38,568.46 713.33,567.52 714.09,566.55 714.66,565.56 715.04,564.54 715.22,563.53 715.21,562.51 714.99,561.5 714.59,560.5 713.99,559.53 713.22,558.59 712.26,557.68 711.14,556.82 709.85,556.01 708.42,555.25 706.84,554.55 705.14,553.92 703.33,553.36 701.41,552.88 699.41,552.47 697.33,552.14 695.2,551.89 693.03,551.73 690.83,551.65 688.61,551.65 686.41,551.75 684.23,551.92 682.08,552.19 679.99,552.53 677.96,552.95 676.02,553.45 674.17,554.02 672.43,554.66 670.82,555.37 669.35,556.14 668.02,556.96 666.85,557.83 665.84,558.74 665.01,559.69 664.37,560.66 663.91,561.66 663.64,562.68 663.57,563.69 663.7,564.71 664.02,565.72 664.54,566.71 665.25,567.68 666.15,568.62 667.23,569.51 668.49,570.36 669.91,571.16 671.48,571.89 673.2,572.56 675.04,573.16 677,573.68 679.06,574.12 681.2,574.47 683.41,574.74 685.67,574.92 687.95,575 690.25,574.99 692.54,574.89 694.8,574.7 697.02,574.42 699.18,574.05 701.27,573.6 703.25,573.07 705.13,572.46 706.88,571.78" fill="#2f5fed"/>
<polygon points="712.24,619.63 712.21,609.3 712.4,608.18 712.79,607.08 713.37,606 714.14,604.96 715.1,603.95 716.22,602.99 717.52,602.09 718.97,601.24 720.56,600.46 722.29,599.75 724.13,599.12 726.08,598.57 728.12,598.11 730.23,597.73 732.41,597.44 734.63,597.24 736.88,597.14 739.15,597.13 741.41,597.22 743.65,597.4 745.85,597.67 748.01,598.04 750.09,598.49 752.1,599.02 754,599.64 755.8,600.34 757.47,601.11 759,601.94 760.38,602.84 761.61,603.79 762.66,604.78 763.54,605.82 764.23,606.9 764.73,607.99 765.03,609.11 765.13,610.23 764.98,620.58 764.88,621.71 764.58,622.84 764.08,623.95 763.38,625.04 762.49,626.09 761.41,627.1 760.15,628.06 758.73,628.96 757.14,629.79 755.41,630.55 753.55,631.23 751.56,631.83 749.47,632.34 747.3,632.75 745.05,633.06 742.75,633.28 740.42,633.39 738.08,633.4 735.74,633.3 733.42,633.11 731.14,632.81 728.92,632.41 726.78,631.92 724.74,631.34 722.81,630.67 721,629.93 719.33,629.1 717.82,628.22 716.47,627.27 715.29,626.27 714.3,625.22 713.49,624.14 712.88,623.03 712.47,621.9 712.25,620.77" fill="#4488ff"/><polygon points="712.21,609.3 712.22,610.42 712.25,620.77 712.24,619.63" fill="#000000"/><polygon points="712.22,610.42 712.44,611.54 712.47,621.9 712.25,620.77" fill="#000000"/><polygon points="712.44,611.54 712.85,612.66 712.88,623.03 712.47,621.9" fill="#000102"/><polygon points="712.85,612.66 713.46,613.75 713.49,624.14 712.88,623.03" fill="#02040a"/><polygon points="713.46,613.75 714.27,614.82 714.3,625.22 713.49,624.14" fill="#09122e"/><polygon points="714.27,614.82 715.27,615.85 715.29,626.27 714.3,625.22" fill="#1d398f"/><polygon points="715.27,615.85 716.45,616.84 716.47,627.27 715.29,626.27" fill="#2244ab"/><polygon points="716.45,616.84 717.81,617.78 717.82,628.22 716.47,627.27" fill="#2851ca"/><polygon points="717.81,617.78 719.33,618.66 719.33,629.1 717.82,628.22" fill="#2e5ce5"/><polygon points="719.33,618.66 721,619.47 721,629.93 719.33,629.1" fill="#3365fd"/><polygon points="721,619.47 722.81,620.21 722.81,630.67 721,629.93" fill="#376eff"/><polygon points="722.81,620.21 724.75,620.87 724.74,631.34 722.81,630.67" fill="#3a75ff"/><polygon points="724.75,620.87 726.81,621.44 726.78,631.92 724.74,631.34" fill="#3d7bff"/><polygon points="726.81,621.44 728.95,621.93 728.92,632.41 726.78,631.92" fill="#4080ff"/><polygon points="728.95,621.93 731.18,622.32 731.14,632.81 728.92,632.41" fill="#4284ff"/><polygon points="731.18,622.32 733.46,622.61 733.42,633.11 731.14,632.81" fill="#4387ff"/><polygon points="733.46,622.61 735.79,622.81 735.74,633.3 733.42,633.11" fill="#458aff"/><polygon points="735.79,622.81 738.14,622.9 738.08,633.4 735.74,633.3" fill="#468dff"/><polygon points="738.14,622.9 740.49,622.89 740.42,633.39 738.08,633.4" fill="#478eff"/><polygon points="740.49,622.89 742.83,622.78 742.75,633.28 740.42,633.39" fill="#478eff"/><polygon points="742.83,622.78 745.14,622.57 745.05,633.06 742.75,633.28" fill="#468dff"/><polygon points="745.14,622.57 747.39,622.26 747.3,632.75 745.05,633.06" fill="#458aff"/><polygon points="747.39,622.26 749.58,621.85 749.47,632.34 747.3,632.75" fill="#4488ff"/><polygon points="749.58,621.85 751.67,621.35 751.56,631.83 749.47,632.34" fill="#4386ff"/><polygon points="751.67,621.35 753.66,620.76 753.55,631.23 751.56,631.83" fill="#4284ff"/><polygon points="753.66,620.76 755.54,620.09 755.41,630.55 753.55,631.23" fill="#4284ff"/><polygon points="755.54,620.09 757.27,619.34 757.14,629.79 755.41,630.55" fill="#4183ff"/><polygon points="757.27,619.34 758.86,618.51 758.73,628.96 757.14,629.79" fill="#4183ff"/><polygon points="758.86,618.51 760.29,617.63 760.15,628.06 758.73,628.96" fill="#4182ff"/><polygon points="760.29,617.63 761.55,616.68 761.41,627.1 760.15,628.06" fill="#4182ff"/><polygon points="761.55,616.68 762.63,615.68 762.49,626.09 761.41,627.1" fill="#4182ff"/><polygon points="762.63,615.68 763.53,614.64 763.38,625.04 762.49,626.09" fill="#4182ff"/><polygon points="763.53,614.64 764.23,613.57 764.08,623.95 763.38,625.04" fill="#4182ff"/><polygon points="764.23,613.57 764.73,612.47 764.58,622.84 764.08,623.95" fill="#4182ff"/><polygon points="764.73,612.47 765.03,611.36 764.88,621.71 764.58,622.84" fill="#4182ff"/><polygon points="765.03,611.36 765.13,610.23 764.98,620.58 764.88,621.71" fill="#4182ff"/><polygon points="758.86,618.51 760.29,617.63 761.55,616.68 762.63,615.68 763.53,614.64 764.23,613.57 764.73,612.47 765.03,611.36 765.13,610.23 765.03,609.11 764.73,607.99 764.23,606.9 763.54,605.82 762.66,604.78 761.61,603.79 760.38,602.84 759,601.94 757.47,601.11 755.8,600.34 754,599.64 752.1,599.02 750.09,598.49 748.01,598.04 745.85,597.67 743.65,597.4 741.41,597.22 739.15,597.13 736.88,597.14 734.63,597.24 732.41,597.44 730.23,597.73 728.12,598.11 726.08,598.57 724.13,599.12 722.29,599.75 720.56,600.46 718.97,601.24 717.52,602.09 716.22,602.99 715.1,603.95 714.14,604.96 713.37,606 712.79,607.08 712.4,608.18 712.21,609.3 712.22,610.42 712.44,611.54 712.85,612.66 713.46,613.75 714.27,614.82 715.27,615.85 716.45,616.84 717.81,617.78 719.33,618.66 721,619.47 722.81,620.21 724.75,620.87 726.81,621.44 728.95,621.93 731.18,622.32 733.46,622.61 735.79,622.81 738.14,622.9 740.49,622.89 742.83,622.78 745.14,622.57 747.39,622.26 749.58,621.85 751.67,621.35 753.66,620.76 755.54,620.09 757.27,619.34" fill="#2f5fed"/>
<polygon points="763.46,642.54 763.85,615.71 763.96,614.54 764.27,613.38 764.79,612.25 765.5,611.15 766.41,610.1 767.51,609.09 768.78,608.14 770.21,607.25 771.81,606.43 773.54,605.69 775.41,605.03 777.39,604.45 779.47,603.96 781.64,603.57 783.88,603.27 786.17,603.06 788.5,602.95 790.85,602.94 793.21,603.04 795.55,603.22 797.87,603.51 800.13,603.89 802.34,604.36 804.47,604.93 806.5,605.58 808.43,606.3 810.23,607.11 811.89,607.99 813.41,608.92 814.76,609.92 815.94,610.97 816.94,612.06 817.75,613.19 818.36,614.34 818.77,615.51 818.97,616.69 818.97,617.87 818.08,644.77 817.86,645.98 817.43,647.17 816.8,648.33 815.97,649.46 814.94,650.54 813.71,651.56 812.31,652.53 810.74,653.42 809.01,654.23 807.14,654.96 805.13,655.6 803.01,656.14 800.79,656.58 798.49,656.92 796.13,657.15 793.73,657.27 791.3,657.28 788.87,657.18 786.45,656.97 784.07,656.65 781.75,656.23 779.49,655.7 777.33,655.08 775.28,654.36 773.35,653.56 771.56,652.68 769.92,651.73 768.44,650.72 767.15,649.64 766.03,648.52 765.11,647.37 764.39,646.18 763.88,644.97 763.57,643.76" fill="#4488ff"/><polygon points="763.85,615.71 763.96,616.89 763.57,643.76 763.46,642.54" fill="#000000"/><polygon points="763.96,616.89 764.27,618.07 763.88,644.97 763.57,643.76" fill="#000000"/><polygon points="764.27,618.07 764.79,619.24 764.39,646.18 763.88,644.97" fill="#000102"/><polygon points="764.79,619.24 765.52,620.39 765.11,647.37 764.39,646.18" fill="#02040a"/><polygon points="765.52,620.39 766.45,621.51 766.03,648.52 765.11,647.37" fill="#09122e"/><polygon points="766.45,621.51 767.57,622.6 767.15,649.64 766.03,648.52" fill="#1d398f"/><polygon points="767.57,622.6 768.88,623.64 768.44,650.72 767.15,649.64" fill="#2244ab"/><polygon points="768.88,623.64 770.37,624.62 769.92,651.73 768.44,650.72" fill="#2851ca"/><polygon points="770.37,624.62 772.03,625.55 771.56,652.68 769.92,651.73" fill="#2e5ce5"/><polygon points="772.03,625.55 773.83,626.4 773.35,653.56 771.56,652.68" fill="#3365fd"/><polygon points="773.83,626.4 775.78,627.18 775.28,654.36 773.35,653.56" fill="#376eff"/><polygon points="775.78,627.18 777.86,627.87 777.33,655.08 775.28,654.36" fill="#3a75ff"/><polygon points="777.86,627.87 780.04,628.48 779.49,655.7 777.33,655.08" fill="#3d7bff"/><polygon points="780.04,628.48 782.31,628.98 781.75,656.23 779.49,655.7" fill="#4080ff"/><polygon points="782.31,628.98 784.66,629.4 784.07,656.65 781.75,656.23" fill="#4284ff"/><polygon points="784.66,629.4 787.06,629.71 786.45,656.97 784.07,656.65" fill="#4387ff"/><polygon points="787.06,629.71 789.5,629.91 788.87,657.18 786.45,656.97" fill="#458aff"/><polygon points="789.5,629.91 791.96,630.01 791.3,657.28 788.87,657.18" fill="#468dff"/><polygon points="791.96,630.01 794.41,630 793.73,657.27 791.3,657.28" fill="#478eff"/><polygon points="794.41,630 796.83,629.88 796.13,657.15 793.73,657.27" fill="#478eff"/><polygon points="796.83,629.88 799.22,629.66 798.49,656.92 796.13,657.15" fill="#468dff"/><polygon points="799.22,629.66 801.54,629.33 800.79,656.58 798.49,656.92" fill="#458aff"/><polygon points="801.54,629.33 803.77,628.91 803.01,656.14 800.79,656.58" fill="#4488ff"/><polygon points="803.77,628.91 805.91,628.38 805.13,655.6 803.01,656.14" fill="#4386ff"/><polygon points="805.91,628.38 807.94,627.76 807.14,654.96 805.13,655.6" fill="#4284ff"/><polygon points="807.94,627.76 809.83,627.05 809.01,654.23 807.14,654.96" fill="#4284ff"/><polygon points="809.83,627.05 811.57,626.26 810.74,653.42 809.01,654.23" fill="#4183ff"/><polygon points="811.57,626.26 813.16,625.4 812.31,652.53 810.74,653.42" fill="#4183ff"/><polygon points="813.16,625.4 814.57,624.46 813.71,651.56 812.31,652.53" fill="#4182ff"/><polygon points="814.57,624.46 815.8,623.47 814.94,650.54 813.71,651.56" fill="#4182ff"/><polygon points="815.8,623.47 816.84,622.42 815.97,649.46 814.94,650.54" fill="#4182ff"/><polygon points="816.84,622.42 817.68,621.33 816.8,648.33 815.97,649.46" fill="#4182ff"/><polygon points="817.68,621.33 818.32,620.2 817.43,647.17 816.8,648.33" fill="#4182ff"/><polygon points="818.32,620.2 818.75,619.04 817.86,645.98 817.43,647.17" fill="#4182ff"/><polygon points="818.75,619.04 818.97,617.87 818.08,644.77 817.86,645.98" fill="#4182ff"/><polygon points="813.16,625.4 814.57,624.46 815.8,623.47 816.84,622.42 817.68,621.33 818.32,620.2 818.75,619.04 818.97,617.87 818.97,616.69 818.77,615.51 818.36,614.34 817.75,613.19 816.94,612.06 815.94,610.97 814.76,609.92 813.41,608.92 811.89,607.99 810.23,607.11 808.43,606.3 806.5,605.58 804.47,604.93 802.34,604.36 800.13,603.89 797.87,603.51 795.55,603.22 793.21,603.04 790.85,602.94 788.5,602.95 786.17,603.06 783.88,603.27 781.64,603.57 779.47,603.96 777.39,604.45 775.41,605.03 773.54,605.69 771.81,606.43 770.21,607.25 768.78,608.14 767.51,609.09 766.41,610.1 765.5,611.15 764.79,612.25 764.27,613.38 763.96,614.54 763.85,615.71 763.96,616.89 764.27,618.07 764.79,619.24 765.52,620.39 766.45,621.51 767.57,622.6 768.88,623.64 770.37,624.62 772.03,625.55 773.83,626.4 775.78,627.18 777.86,627.87 780.04,628.48 782.31,628.98 784.66,629.4 787.06,629.71 789.5,629.91 791.96,630.01 794.41,630 796.83,629.88 799.22,629.66 801.54,629.33 803.77,628.91 805.91,628.38 807.94,627.76 809.83,627.05 811.57,626.26" fill="#2f5fed"/>
<polygon points="876.83,636.28 875.08,669.47 874.96,670.77 874.62,672.04 874.06,673.29 873.29,674.5 872.32,675.66 871.14,676.76 869.77,677.8 868.22,678.75 866.5,679.63 864.61,680.41 862.59,681.1 860.44,681.68 858.18,682.16 855.82,682.52 853.4,682.76 850.92,682.89 848.4,682.9 845.87,682.79 843.35,682.57 840.86,682.23 838.41,681.77 836.03,681.21 833.74,680.54 831.55,679.77 829.49,678.91 827.56,677.97 825.78,676.94 824.17,675.85 822.73,674.7 821.49,673.5 820.44,672.26 819.6,670.99 818.96,669.69 818.54,668.39 818.33,667.08 818.34,665.78 819.44,632.73 819.67,631.49 820.11,630.29 820.75,629.12 821.6,627.99 822.65,626.92 823.89,625.91 825.3,624.96 826.88,624.09 828.61,623.3 830.49,622.59 832.49,621.98 834.61,621.46 836.82,621.04 839.12,620.71 841.48,620.5 843.89,620.38 846.33,620.37 848.78,620.47 851.22,620.67 853.65,620.97 856.04,621.38 858.37,621.88 860.62,622.48 862.79,623.17 864.85,623.95 866.79,624.81 868.6,625.74 870.26,626.74 871.75,627.81 873.07,628.92 874.21,630.09 875.15,631.29 875.89,632.52 876.42,633.76 876.73,635.02" fill="#4488ff"/><polygon points="819.44,632.73 819.44,633.98 818.33,667.08 818.34,665.78" fill="#000000"/><polygon points="819.44,633.98 819.65,635.24 818.54,668.39 818.33,667.08" fill="#000000"/><polygon points="819.65,635.24 820.08,636.5 818.96,669.69 818.54,668.39" fill="#000000"/><polygon points="820.08,636.5 820.72,637.74 819.6,670.99 818.96,669.69" fill="#000102"/><polygon points="820.72,637.74 821.58,638.97 820.44,672.26 819.6,670.99" fill="#02040a"/><polygon points="821.58,638.97 822.64,640.17 821.49,673.5 820.44,672.26" fill="#09122e"/><polygon points="822.64,640.17 823.9,641.33 822.73,674.7 821.49,673.5" fill="#1d398f"/><polygon points="823.9,641.33 825.35,642.44 824.17,675.85 822.73,674.7" fill="#2244ab"/><polygon points="825.35,642.44 826.98,643.49 825.78,676.94 824.17,675.85" fill="#2851ca"/><polygon points="826.98,643.49 828.78,644.48 827.56,677.97 825.78,676.94" fill="#2e5ce5"/><polygon points="828.78,644.48 830.74,645.39 829.49,678.91 827.56,677.97" fill="#3365fd"/><polygon points="830.74,645.39 832.83,646.22 831.55,679.77 829.49,678.91" fill="#376eff"/><polygon points="832.83,646.22 835.04,646.96 833.74,680.54 831.55,679.77" fill="#3a75ff"/><polygon points="835.04,646.96 837.36,647.6 836.03,681.21 833.74,680.54" fill="#3d7bff"/><polygon points="837.36,647.6 839.77,648.15 838.41,681.77 836.03,681.21" fill="#4080ff"/><polygon points="839.77,648.15 842.25,648.59 840.86,682.23 838.41,681.77" fill="#4284ff"/><polygon points="842.25,648.59 844.77,648.92 843.35,682.57 840.86,682.23" fill="#4387ff"/><polygon points="844.77,648.92 847.32,649.13 845.87,682.79 843.35,682.57" fill="#458aff"/><polygon points="847.32,649.13 849.88,649.24 848.4,682.9 845.87,682.79" fill="#468dff"/><polygon points="849.88,649.24 852.42,649.23 850.92,682.89 848.4,682.9" fill="#478eff"/><polygon points="852.42,649.23 854.93,649.11 853.4,682.76 850.92,682.89" fill="#478eff"/><polygon points="854.93,649.11 857.39,648.87 855.82,682.52 853.4,682.76" fill="#468dff"/><polygon points="857.39,648.87 859.77,648.52 858.18,682.16 855.82,682.52" fill="#458aff"/><polygon points="859.77,648.52 862.05,648.06 860.44,681.68 858.18,682.16" fill="#4488ff"/><polygon points="862.05,648.06 864.23,647.5 862.59,681.1 860.44,681.68" fill="#4386ff"/><polygon points="864.23,647.5 866.27,646.84 864.61,680.41 862.59,681.1" fill="#4284ff"/><polygon points="866.27,646.84 868.17,646.08 866.5,679.63 864.61,680.41" fill="#4284ff"/><polygon points="868.17,646.08 869.92,645.24 868.22,678.75 866.5,679.63" fill="#4183ff"/><polygon points="869.92,645.24 871.48,644.31 869.77,677.8 868.22,678.75" fill="#4183ff"/><polygon points="871.48,644.31 872.87,643.32 871.14,676.76 869.77,677.8" fill="#4182ff"/><polygon points="872.87,643.32 874.05,642.25 872.32,675.66 871.14,676.76" fill="#4182ff"/><polygon points="874.05,642.25 875.04,641.14 873.29,674.5 872.32,675.66" fill="#4182ff"/><polygon points="875.04,641.14 875.81,639.97 874.06,673.29 873.29,674.5" fill="#4182ff"/><polygon points="875.81,639.97 876.37,638.77 874.62,672.04 874.06,673.29" fill="#4182ff"/><polygon points="876.37,638.77 876.71,637.53 874.96,670.77 874.62,672.04" fill="#4182ff"/><polygon points="876.71,637.53 876.83,636.28 875.08,669.47 874.96,670.77" fill="#4182ff"/><polygon points="871.48,644.31 872.87,643.32 874.05,642.25 875.04,641.14 875.81,639.97 876.37,638.77 876.71,637.53 876.83,636.28 876.73,635.02 876.42,633.76 875.89,632.52 875.15,631.29 874.21,630.09 873.07,628.92 871.75,627.81 870.26,626.74 868.6,625.74 866.79,624.81 864.85,623.95 862.79,623.17 860.62,622.48 858.37,621.88 856.04,621.38 853.65,620.97 851.22,620.67 848.78,620.47 846.33,620.37 843.89,620.38 841.48,620.5 839.12,620.71 836.82,621.04 834.61,621.46 832.49,621.98 830.49,622.59 828.61,623.3 826.88,624.09 825.3,624.96 823.89,625.91 822.65,626.92 821.6,627.99 820.75,629.12 820.11,630.29 819.67,631.49 819.44,632.73 819.44,633.98 819.65,635.24 820.08,636.5 820.72,637.74 821.58,638.97 822.64,640.17 823.9,641.33 825.35,642.44 826.98,643.49 828.78,644.48 830.74,645.39 832.83,646.22 835.04,646.96 837.36,647.6 839.77,648.15 842.25,648.59 844.77,648.92 847.32,649.13 849.88,649.24 852.42,649.23 854.93,649.11 857.39,648.87 859.77,648.52 862.05,648.06 864.23,647.5 866.27,646.84 868.17,646.08 869.92,645.24" fill="#2f5fed"/>
<polygon points="531.37,513.25 534.37,561.97 534.28,562.91 534.02,563.86 533.56,564.82 532.93,565.76 532.12,566.69 531.14,567.6 529.99,568.48 528.69,569.32 527.23,570.12 525.65,570.87 523.94,571.57 522.11,572.21 520.19,572.77 518.19,573.27 516.12,573.69 514,574.04 511.85,574.3 509.69,574.48 507.52,574.57 505.37,574.58 503.26,574.5 501.21,574.34 499.22,574.09 497.32,573.76 495.51,573.35 493.83,572.86 492.27,572.3 490.85,571.68 489.58,570.99 488.47,570.25 487.53,569.46 486.77,568.62 486.18,567.75 485.78,566.84 485.57,565.92 481.76,516.94 481.73,516.06 481.9,515.17 482.26,514.28 482.8,513.39 483.51,512.52 484.4,511.67 485.46,510.84 486.67,510.04 488.03,509.28 489.53,508.56 491.15,507.89 492.88,507.27 494.71,506.71 496.63,506.21 498.62,505.77 500.67,505.4 502.75,505.1 504.87,504.87 506.99,504.72 509.12,504.64 511.22,504.63 513.29,504.7 515.31,504.84 517.27,505.06 519.15,505.35 520.93,505.71 522.62,506.13 524.18,506.62 525.62,507.18 526.91,507.79 528.06,508.45 529.05,509.16 529.87,509.91 530.51,510.71 530.98,511.53 531.27,512.38" fill="#cb4400"/><polygon points="481.76,516.94 481.97,517.81 485.78,566.84 485.57,565.92" fill="#060200"/><polygon points="481.97,517.81 482.37,518.65 486.18,567.75 485.78,566.84" fill="#1b0900"/><polygon points="482.37,518.65 482.96,519.47 486.77,568.62 486.18,567.75" fill="#561d00"/><polygon points="482.96,519.47 483.73,520.25 487.53,569.46 486.77,568.62" fill="#662200"/><polygon points="483.73,520.25 484.68,520.99 488.47,570.25 487.53,569.46" fill="#792800"/><polygon points="484.68,520.99 485.8,521.69 489.58,570.99 488.47,570.25" fill="#892e00"/><polygon points="485.8,521.69 487.09,522.33 490.85,571.68 489.58,570.99" fill="#983300"/><polygon points="487.09,522.33 488.53,522.91 492.27,572.3 490.85,571.68" fill="#a53700"/><polygon points="488.53,522.91 490.11,523.43 493.83,572.86 492.27,572.3" fill="#af3a00"/><polygon points="490.11,523.43 491.82,523.89 495.51,573.35 493.83,572.86" fill="#b83d00"/><polygon points="491.82,523.89 493.65,524.27 497.32,573.76 495.51,573.35" fill="#bf4000"/><polygon points="493.65,524.27 495.58,524.58 499.22,574.09 497.32,573.76" fill="#c54200"/><polygon points="495.58,524.58 497.6,524.81 501.21,574.34 499.22,574.09" fill="#ca4300"/><polygon points="497.6,524.81 499.69,524.97 503.26,574.5 501.21,574.34" fill="#cf4500"/><polygon points="499.69,524.97 501.83,525.04 505.37,574.58 503.26,574.5" fill="#d34600"/><polygon points="501.83,525.04 504.02,525.03 507.52,574.57 505.37,574.58" fill="#d54700"/><polygon points="504.02,525.03 506.22,524.95 509.69,574.48 507.52,574.57" fill="#d54700"/><polygon points="506.22,524.95 508.42,524.78 511.85,574.3 509.69,574.48" fill="#d34600"/><polygon points="508.42,524.78 510.61,524.54 514,574.04 511.85,574.3" fill="#cf4500"/><polygon points="510.61,524.54 512.76,524.21 516.12,573.69 514,574.04" fill="#cb4400"/><polygon points="512.76,524.21 514.87,523.82 518.19,573.27 516.12,573.69" fill="#c84300"/><polygon points="514.87,523.82 516.91,523.35 520.19,572.77 518.19,573.27" fill="#c74200"/><polygon points="516.91,523.35 518.86,522.82 522.11,572.21 520.19,572.77" fill="#c54200"/><polygon points="518.86,522.82 520.72,522.23 523.94,571.57 522.11,572.21" fill="#c44100"/><polygon points="520.72,522.23 522.46,521.58 525.65,570.87 523.94,571.57" fill="#c44100"/><polygon points="522.46,521.58 524.08,520.88 527.23,570.12 525.65,570.87" fill="#c44100"/><polygon points="524.08,520.88 525.56,520.13 528.69,569.32 527.23,570.12" fill="#c34100"/><polygon points="525.56,520.13 526.89,519.34 529.99,568.48 528.69,569.32" fill="#c34100"/><polygon points="526.89,519.34 528.06,518.52 531.14,567.6 529.99,568.48" fill="#c34100"/><polygon points="528.06,518.52 529.06,517.67 532.12,566.69 531.14,567.6" fill="#c34100"/><polygon points="529.06,517.67 529.89,516.8 532.93,565.76 532.12,566.69" fill="#c34100"/><polygon points="529.89,516.8 530.54,515.91 533.56,564.82 532.93,565.76" fill="#c34100"/><polygon points="530.54,515.91 531,515.02 534.02,563.86 533.56,564.82" fill="#c34100"/><polygon points="531,515.02 531.28,514.13 534.28,562.91 534.02,563.86" fill="#c34100"/><polygon points="531.28,514.13 531.37,513.25 534.37,561.97 534.28,562.91" fill="#c14000"/><polygon points="522.46,521.58 524.08,520.88 525.56,520.13 526.89,519.34 528.06,518.52 529.06,517.67 529.89,516.8 530.54,515.91 531,515.02 531.28,514.13 531.37,513.25 531.27,512.38 530.98,511.53 530.51,510.71 529.87,509.91 529.05,509.16 528.06,508.45 526.91,507.79 525.62,507.18 524.18,506.62 522.62,506.13 520.93,505.71 519.15,505.35 517.27,505.06 515.31,504.84 513.29,504.7 511.22,504.63 509.12,504.64 506.99,504.72 504.87,504.87 502.75,505.1 500.67,505.4 498.62,505.77 496.63,506.21 494.71,506.71 492.88,507.27 491.15,507.89 489.53,508.56 488.03,509.28 486.67,510.04 485.46,510.84 484.4,511.67 483.51,512.52 482.8,513.39 482.26,514.28 481.9,515.17 481.73,516.06 481.76,516.94 481.97,517.81 482.37,518.65 482.96,519.47 483.73,520.25 484.68,520.99 485.8,521.69 487.09,522.33 488.53,522.91 490.11,523.43 491.82,523.89 493.65,524.27 495.58,524.58 497.6,524.81 499.69,524.97 501.83,525.04 504.02,525.03 506.22,524.95 508.42,524.78 510.61,524.54 512.76,524.21 514.87,523.82 516.91,523.35 518.86,522.82 520.72,522.23" fill="#8e2f00"/>
<polygon points="571.76,504.56 575.45,581.03 575.43,582.03 575.22,583.05 574.82,584.06 574.23,585.06 573.46,586.05 572.51,587.02 571.39,587.96 570.1,588.86 568.66,589.71 567.08,590.51 565.36,591.25 563.52,591.92 561.58,592.53 559.55,593.06 557.44,593.51 555.28,593.88 553.08,594.16 550.85,594.35 548.63,594.44 546.41,594.45 544.23,594.37 542.09,594.19 540.03,593.93 538.04,593.58 536.15,593.14 534.38,592.62 532.73,592.03 531.23,591.37 529.87,590.64 528.68,589.84 527.65,589 526.81,588.11 526.15,587.18 525.67,586.22 525.39,585.23 525.3,584.23 520.3,507.44 520.41,506.53 520.72,505.62 521.22,504.71 521.9,503.82 522.77,502.94 523.81,502.09 525.01,501.28 526.37,500.5 527.88,499.76 529.51,499.07 531.27,498.44 533.14,497.87 535.09,497.35 537.13,496.91 539.23,496.53 541.38,496.22 543.57,495.99 545.77,495.83 547.97,495.75 550.16,495.74 552.31,495.81 554.43,495.96 556.48,496.18 558.45,496.47 560.34,496.84 562.12,497.28 563.78,497.78 565.32,498.34 566.71,498.97 567.95,499.65 569.03,500.37 569.95,501.15 570.68,501.96 571.23,502.8 571.59,503.67" fill="#cb4400"/><polygon points="520.3,507.44 520.39,508.35 525.39,585.23 525.3,584.23" fill="#010000"/><polygon points="520.39,508.35 520.67,509.24 525.67,586.22 525.39,585.23" fill="#060200"/><polygon points="520.67,509.24 521.15,510.1 526.15,587.18 525.67,586.22" fill="#1b0900"/><polygon points="521.15,510.1 521.82,510.94 526.81,588.11 526.15,587.18" fill="#561d00"/><polygon points="521.82,510.94 522.68,511.74 527.65,589 526.81,588.11" fill="#662200"/><polygon points="522.68,511.74 523.72,512.5 528.68,589.84 527.65,589" fill="#792800"/><polygon points="523.72,512.5 524.94,513.22 529.87,590.64 528.68,589.84" fill="#892e00"/><polygon points="524.94,513.22 526.33,513.87 531.23,591.37 529.87,590.64" fill="#983300"/><polygon points="526.33,513.87 527.87,514.47 532.73,592.03 531.23,591.37" fill="#a53700"/><polygon points="527.87,514.47 529.55,515.01 534.38,592.62 532.73,592.03" fill="#af3a00"/><polygon points="529.55,515.01 531.37,515.47 536.15,593.14 534.38,592.62" fill="#b83d00"/><polygon points="531.37,515.47 533.3,515.87 538.04,593.58 536.15,593.14" fill="#bf4000"/><polygon points="533.3,515.87 535.34,516.18 540.03,593.93 538.04,593.58" fill="#c54200"/><polygon points="535.34,516.18 537.45,516.42 542.09,594.19 540.03,593.93" fill="#ca4300"/><polygon points="537.45,516.42 539.64,516.58 544.23,594.37 542.09,594.19" fill="#cf4500"/><polygon points="539.64,516.58 541.88,516.66 546.41,594.45 544.23,594.37" fill="#d34600"/><polygon points="541.88,516.66 544.15,516.65 548.63,594.44 546.41,594.45" fill="#d54700"/><polygon points="544.15,516.65 546.44,516.56 550.85,594.35 548.63,594.44" fill="#d54700"/><polygon points="546.44,516.56 548.72,516.39 553.08,594.16 550.85,594.35" fill="#d34600"/><polygon points="548.72,516.39 550.98,516.14 555.28,593.88 553.08,594.16" fill="#cf4500"/><polygon points="550.98,516.14 553.21,515.81 557.44,593.51 555.28,593.88" fill="#cb4400"/><polygon points="553.21,515.81 555.37,515.4 559.55,593.06 557.44,593.51" fill="#c84300"/><polygon points="555.37,515.4 557.46,514.93 561.58,592.53 559.55,593.06" fill="#c74200"/><polygon points="557.46,514.93 559.45,514.38 563.52,591.92 561.58,592.53" fill="#c54200"/><polygon points="559.45,514.38 561.34,513.77 565.36,591.25 563.52,591.92" fill="#c44100"/><polygon points="561.34,513.77 563.11,513.1 567.08,590.51 565.36,591.25" fill="#c44100"/><polygon points="563.11,513.1 564.74,512.38 568.66,589.71 567.08,590.51" fill="#c44100"/><polygon points="564.74,512.38 566.22,511.61 570.1,588.86 568.66,589.71" fill="#c34100"/><polygon points="566.22,511.61 567.55,510.81 571.39,587.96 570.1,588.86" fill="#c34100"/><polygon points="567.55,510.81 568.71,509.96 572.51,587.02 571.39,587.96" fill="#c34100"/><polygon points="568.71,509.96 569.69,509.09 573.46,586.05 572.51,587.02" fill="#c34100"/><polygon points="569.69,509.09 570.48,508.2 574.23,585.06 573.46,586.05" fill="#c34100"/><polygon points="570.48,508.2 571.09,507.3 574.82,584.06 574.23,585.06" fill="#c34100"/><polygon points="571.09,507.3 571.51,506.38 575.22,583.05 574.82,584.06" fill="#c34100"/><polygon points="571.51,506.38 571.73,505.47 575.43,582.03 575.22,583.05" fill="#c34100"/><polygon points="571.73,505.47 571.76,504.56 575.45,581.03 575.43,582.03" fill="#c14000"/><polygon points="563.11,513.1 564.74,512.38 566.22,511.61 567.55,510.81 568.71,509.96 569.69,509.09 570.48,508.2 571.09,507.3 571.51,506.38 571.73,505.47 571.76,504.56 571.59,503.67 571.23,502.8 570.68,501.96 569.95,501.15 569.03,500.37 567.95,499.65 566.71,498.97 565.32,498.34 563.78,497.78 562.12,497.28 560.34,496.84 558.45,496.47 556.48,496.18 554.43,495.96 552.31,495.81 550.16,495.74 547.97,495.75 545.77,495.83 543.57,495.99 541.38,496.22 539.23,496.53 537.13,496.91 535.09,497.35 533.14,497.87 531.27,498.44 529.51,499.07 527.88,499.76 526.37,500.5 525.01,501.28 523.81,502.09 522.77,502.94 521.9,503.82 521.22,504.71 520.72,505.62 520.41,506.53 520.3,507.44 520.39,508.35 520.67,509.24 521.15,510.1 521.82,510.94 522.68,511.74 523.72,512.5 524.94,513.22 526.33,513.87 527.87,514.47 529.55,515.01 531.37,515.47 533.3,515.87 535.34,516.18 537.45,516.42 539.64,516.58 541.88,516.66 544.15,516.65 546.44,516.56 548.72,516.39 550.98,516.14 553.21,515.81 555.37,515.4 557.46,514.93 559.45,514.38 561.34,513.77" fill="#8e2f00"/>
<polygon points="567.64,604.73 564.49,543.28 564.53,542.28 564.77,541.28 565.2,540.29 565.83,539.31 566.65,538.36 567.65,537.43 568.82,536.53 570.15,535.68 571.63,534.88 573.26,534.13 575.01,533.44 576.88,532.81 578.85,532.25 580.9,531.76 583.03,531.34 585.21,531.01 587.44,530.75 589.68,530.58 591.94,530.49 594.18,530.48 596.4,530.56 598.58,530.72 600.71,530.96 602.76,531.28 604.73,531.68 606.6,532.16 608.35,532.71 609.97,533.33 611.46,534.01 612.79,534.75 613.96,535.55 614.96,536.39 615.78,537.28 616.42,538.2 616.86,539.15 617.11,540.13 617.16,541.12 619.24,602.39 619.1,603.47 618.76,604.55 618.22,605.62 617.5,606.68 616.59,607.71 615.5,608.71 614.23,609.67 612.8,610.58 611.22,611.43 609.5,612.22 607.65,612.94 605.69,613.59 603.63,614.15 601.49,614.63 599.28,615.02 597.03,615.32 594.74,615.52 592.45,615.63 590.16,615.64 587.9,615.55 585.68,615.36 583.53,615.08 581.45,614.7 579.47,614.24 577.6,613.69 575.86,613.06 574.26,612.35 572.81,611.57 571.52,610.72 570.41,609.82 569.47,608.87 568.72,607.88 568.17,606.85 567.8,605.8" fill="#cb4400"/><polygon points="564.49,543.28 564.65,544.27 567.8,605.8 567.64,604.73" fill="#010000"/><polygon points="564.65,544.27 565.01,545.24 568.17,606.85 567.8,605.8" fill="#060200"/><polygon points="565.01,545.24 565.58,546.19 568.72,607.88 568.17,606.85" fill="#1b0900"/><polygon points="565.58,546.19 566.33,547.11 569.47,608.87 568.72,607.88" fill="#561d00"/><polygon points="566.33,547.11 567.28,547.98 570.41,609.82 569.47,608.87" fill="#662200"/><polygon points="567.28,547.98 568.42,548.82 571.52,610.72 570.41,609.82" fill="#792800"/><polygon points="568.42,548.82 569.73,549.6 572.81,611.57 571.52,610.72" fill="#892e00"/><polygon points="569.73,549.6 571.21,550.32 574.26,612.35 572.81,611.57" fill="#983300"/><polygon points="571.21,550.32 572.84,550.97 575.86,613.06 574.26,612.35" fill="#a53700"/><polygon points="572.84,550.97 574.62,551.56 577.6,613.69 575.86,613.06" fill="#af3a00"/><polygon points="574.62,551.56 576.52,552.07 579.47,614.24 577.6,613.69" fill="#b83d00"/><polygon points="576.52,552.07 578.54,552.5 581.45,614.7 579.47,614.24" fill="#bf4000"/><polygon points="578.54,552.5 580.66,552.85 583.53,615.08 581.45,614.7" fill="#c54200"/><polygon points="580.66,552.85 582.85,553.11 585.68,615.36 583.53,615.08" fill="#ca4300"/><polygon points="582.85,553.11 585.12,553.28 587.9,615.55 585.68,615.36" fill="#cf4500"/><polygon points="585.12,553.28 587.43,553.36 590.16,615.64 587.9,615.55" fill="#d34600"/><polygon points="587.43,553.36 589.76,553.36 592.45,615.63 590.16,615.64" fill="#d54700"/><polygon points="589.76,553.36 592.1,553.26 594.74,615.52 592.45,615.63" fill="#d54700"/><polygon points="592.1,553.26 594.44,553.07 597.03,615.32 594.74,615.52" fill="#d34600"/><polygon points="594.44,553.07 596.74,552.8 599.28,615.02 597.03,615.32" fill="#cf4500"/><polygon points="596.74,552.8 598.99,552.43 601.49,614.63 599.28,615.02" fill="#cb4400"/><polygon points="598.99,552.43 601.18,551.99 603.63,614.15 601.49,614.63" fill="#c84300"/><polygon points="601.18,551.99 603.29,551.47 605.69,613.59 603.63,614.15" fill="#c74200"/><polygon points="603.29,551.47 605.29,550.87 607.65,612.94 605.69,613.59" fill="#c54200"/><polygon points="605.29,550.87 607.18,550.2 609.5,612.22 607.65,612.94" fill="#c44100"/><polygon points="607.18,550.2 608.94,549.47 611.22,611.43 609.5,612.22" fill="#c44100"/><polygon points="608.94,549.47 610.56,548.68 612.8,610.58 611.22,611.43" fill="#c44100"/><polygon points="610.56,548.68 612.02,547.84 614.23,609.67 612.8,610.58" fill="#c34100"/><polygon points="612.02,547.84 613.32,546.96 615.5,608.71 614.23,609.67" fill="#c34100"/><polygon points="613.32,546.96 614.43,546.04 616.59,607.71 615.5,608.71" fill="#c34100"/><polygon points="614.43,546.04 615.37,545.08 617.5,606.68 616.59,607.71" fill="#c34100"/><polygon points="615.37,545.08 616.11,544.11 618.22,605.62 617.5,606.68" fill="#c34100"/><polygon points="616.11,544.11 616.66,543.12 618.76,604.55 618.22,605.62" fill="#c34100"/><polygon points="616.66,543.12 617.01,542.12 619.1,603.47 618.76,604.55" fill="#c34100"/><polygon points="617.01,542.12 617.16,541.12 619.24,602.39 619.1,603.47" fill="#c34100"/><polygon points="608.94,549.47 610.56,548.68 612.02,547.84 613.32,546.96 614.43,546.04 615.37,545.08 616.11,544.11 616.66,543.12 617.01,542.12 617.16,541.12 617.11,540.13 616.86,539.15 616.42,538.2 615.78,537.28 614.96,536.39 613.96,535.55 612.79,534.75 611.46,534.01 609.97,533.33 608.35,532.71 606.6,532.16 604.73,531.68 602.76,531.28 600.71,530.96 598.58,530.72 596.4,530.56 594.18,530.48 591.94,530.49 589.68,530.58 587.44,530.75 585.21,531.01 583.03,531.34 580.9,531.76 578.85,532.25 576.88,532.81 575.01,533.44 573.26,534.13 571.63,534.88 570.15,535.68 568.82,536.53 567.65,537.43 566.65,538.36 565.83,539.31 565.2,540.29 564.77,541.28 564.53,542.28 564.49,543.28 564.65,544.27 565.01,545.24 565.58,546.19 566.33,547.11 567.28,547.98 568.42,548.82 569.73,549.6 571.21,550.32 572.84,550.97 574.62,551.56 576.52,552.07 578.54,552.5 580.66,552.85 582.85,553.11 585.12,553.28 587.43,553.36 589.76,553.36 592.1,553.26 594.44,553.07 596.74,552.8 598.99,552.43 601.18,551.99 603.29,551.47 605.29,550.87 607.18,550.2" fill="#8e2f00"/>
<polygon points="664.51,544.39 665.99,624.11 665.92,625.27 665.65,626.42 665.18,627.57 664.5,628.7 663.64,629.8 662.58,630.86 661.35,631.89 659.94,632.86 658.37,633.77 656.65,634.62 654.79,635.39 652.81,636.08 650.72,636.68 648.54,637.2 646.29,637.62 643.98,637.93 641.63,638.15 639.26,638.26 636.9,638.27 634.56,638.18 632.25,637.98 630,637.68 627.83,637.27 625.75,636.78 623.77,636.19 621.93,635.51 620.22,634.75 618.66,633.92 617.27,633.02 616.05,632.06 615.02,631.04 614.17,629.98 613.52,628.88 613.07,627.76 612.83,626.62 612.78,625.46 609.87,545.61 610.04,544.56 610.42,543.53 610.99,542.5 611.77,541.5 612.73,540.53 613.87,539.6 615.19,538.71 616.67,537.87 618.3,537.09 620.06,536.36 621.96,535.71 623.96,535.12 626.05,534.61 628.23,534.18 630.47,533.83 632.76,533.56 635.08,533.38 637.41,533.28 639.75,533.28 642.06,533.36 644.34,533.52 646.57,533.78 648.73,534.11 650.8,534.53 652.78,535.03 654.65,535.6 656.39,536.25 657.99,536.96 659.43,537.74 660.72,538.57 661.83,539.45 662.76,540.38 663.5,541.34 664.04,542.34 664.38,543.36" fill="#cb4400"/><polygon points="609.87,545.61 609.91,546.65 612.83,626.62 612.78,625.46" fill="#000000"/><polygon points="609.91,546.65 610.16,547.69 613.07,627.76 612.83,626.62" fill="#010000"/><polygon points="610.16,547.69 610.62,548.7 613.52,628.88 613.07,627.76" fill="#060200"/><polygon points="610.62,548.7 611.28,549.7 614.17,629.98 613.52,628.88" fill="#1b0900"/><polygon points="611.28,549.7 612.14,550.66 615.02,631.04 614.17,629.98" fill="#561d00"/><polygon points="612.14,550.66 613.2,551.58 616.05,632.06 615.02,631.04" fill="#662200"/><polygon points="613.2,551.58 614.45,552.45 617.27,633.02 616.05,632.06" fill="#792800"/><polygon points="614.45,552.45 615.88,553.26 618.66,633.92 617.27,633.02" fill="#892e00"/><polygon points="615.88,553.26 617.47,554.02 620.22,634.75 618.66,633.92" fill="#983300"/><polygon points="617.47,554.02 619.22,554.7 621.93,635.51 620.22,634.75" fill="#a53700"/><polygon points="619.22,554.7 621.12,555.32 623.77,636.19 621.93,635.51" fill="#af3a00"/><polygon points="621.12,555.32 623.14,555.85 625.75,636.78 623.77,636.19" fill="#b83d00"/><polygon points="623.14,555.85 625.28,556.3 627.83,637.27 625.75,636.78" fill="#bf4000"/><polygon points="625.28,556.3 627.51,556.67 630,637.68 627.83,637.27" fill="#c54200"/><polygon points="627.51,556.67 629.82,556.94 632.25,637.98 630,637.68" fill="#ca4300"/><polygon points="629.82,556.94 632.19,557.12 634.56,638.18 632.25,637.98" fill="#cf4500"/><polygon points="632.19,557.12 634.6,557.21 636.9,638.27 634.56,638.18" fill="#d34600"/><polygon points="634.6,557.21 637.02,557.2 639.26,638.26 636.9,638.27" fill="#d54700"/><polygon points="637.02,557.2 639.46,557.1 641.63,638.15 639.26,638.26" fill="#d54700"/><polygon points="639.46,557.1 641.87,556.9 643.98,637.93 641.63,638.15" fill="#d34600"/><polygon points="641.87,556.9 644.24,556.61 646.29,637.62 643.98,637.93" fill="#cf4500"/><polygon points="644.24,556.61 646.56,556.23 648.54,637.2 646.29,637.62" fill="#cb4400"/><polygon points="646.56,556.23 648.8,555.77 650.72,636.68 648.54,637.2" fill="#c84300"/><polygon points="648.8,555.77 650.95,555.22 652.81,636.08 650.72,636.68" fill="#c74200"/><polygon points="650.95,555.22 652.99,554.6 654.79,635.39 652.81,636.08" fill="#c54200"/><polygon points="652.99,554.6 654.9,553.9 656.65,634.62 654.79,635.39" fill="#c44100"/><polygon points="654.9,553.9 656.67,553.13 658.37,633.77 656.65,634.62" fill="#c44100"/><polygon points="656.67,553.13 658.28,552.31 659.94,632.86 658.37,633.77" fill="#c44100"/><polygon points="658.28,552.31 659.73,551.43 661.35,631.89 659.94,632.86" fill="#c34100"/><polygon points="659.73,551.43 661,550.5 662.58,630.86 661.35,631.89" fill="#c34100"/><polygon points="661,550.5 662.09,549.53 663.64,629.8 662.58,630.86" fill="#c34100"/><polygon points="662.09,549.53 662.98,548.54 664.5,628.7 663.64,629.8" fill="#c34100"/><polygon points="662.98,548.54 663.67,547.52 665.18,627.57 664.5,628.7" fill="#c34100"/><polygon points="663.67,547.52 664.16,546.48 665.65,626.42 665.18,627.57" fill="#c34100"/><polygon points="664.16,546.48 664.44,545.44 665.92,625.27 665.65,626.42" fill="#c34100"/><polygon points="664.44,545.44 664.51,544.39 665.99,624.11 665.92,625.27" fill="#c34100"/><polygon points="656.67,553.13 658.28,552.31 659.73,551.43 661,550.5 662.09,549.53 662.98,548.54 663.67,547.52 664.16,546.48 664.44,545.44 664.51,544.39 664.38,543.36 664.04,542.34 663.5,541.34 662.76,540.38 661.83,539.45 660.72,538.57 659.43,537.74 657.99,536.96 656.39,536.25 654.65,535.6 652.78,535.03 650.8,534.53 648.73,534.11 646.57,533.78 644.34,533.52 642.06,533.36 639.75,533.28 637.41,533.28 635.08,533.38 632.76,533.56 630.47,533.83 628.23,534.18 626.05,534.61 623.96,535.12 621.96,535.71 620.06,536.36 618.3,537.09 616.67,537.87 615.19,538.71 613.87,539.6 612.73,540.53 611.77,541.5 610.99,542.5 610.42,543.53 610.04,544.56 609.87,545.61 609.91,546.65 610.16,547.69 610.62,548.7 611.28,549.7 612.14,550.66 613.2,551.58 614.45,552.45 615.88,553.26 617.47,554.02 619.22,554.7 621.12,555.32 623.14,555.85 625.28,556.3 627.51,556.67 629.82,556.94 632.19,557.12 634.6,557.21 637.02,557.2 639.46,557.1 641.87,556.9 644.24,556.61 646.56,556.23 648.8,555.77 650.95,555.22 652.99,554.6 654.9,553.9" fill="#8e2f00"/>
<polygon points="661.03,648.79 660.04,600.08 660.12,598.91 660.41,597.75 660.91,596.61 661.62,595.49 662.52,594.41 663.61,593.36 664.88,592.37 666.32,591.43 667.92,590.55 669.67,589.74 671.54,589.01 673.54,588.35 675.64,587.78 677.83,587.3 680.09,586.91 682.41,586.61 684.77,586.41 687.15,586.3 689.54,586.29 691.92,586.38 694.27,586.57 696.57,586.85 698.81,587.23 700.97,587.7 703.04,588.25 705.01,588.89 706.84,589.62 708.54,590.41 710.09,591.28 711.48,592.21 712.7,593.19 713.73,594.23 714.57,595.31 715.22,596.42 715.66,597.56 715.89,598.72 715.91,599.89 715.99,648.58 715.79,649.81 715.39,651.04 714.79,652.25 713.98,653.43 712.97,654.57 711.77,655.67 710.38,656.71 708.83,657.68 707.11,658.59 705.25,659.42 703.25,660.16 701.13,660.81 698.92,661.36 696.61,661.8 694.25,662.15 691.83,662.38 689.39,662.5 686.95,662.51 684.51,662.41 682.11,662.19 679.76,661.87 677.48,661.44 675.29,660.91 673.2,660.27 671.24,659.55 669.41,658.74 667.74,657.84 666.23,656.88 664.9,655.85 663.75,654.76 662.8,653.62 662.04,652.45 661.5,651.24 661.16,650.02" fill="#cb4400"/><polygon points="660.04,600.08 660.17,601.25 661.16,650.02 661.03,648.79" fill="#000000"/><polygon points="660.17,601.25 660.51,602.41 661.5,651.24 661.16,650.02" fill="#010000"/><polygon points="660.51,602.41 661.07,603.55 662.04,652.45 661.5,651.24" fill="#060200"/><polygon points="661.07,603.55 661.83,604.66 662.8,653.62 662.04,652.45" fill="#1b0900"/><polygon points="661.83,604.66 662.8,605.73 663.75,654.76 662.8,653.62" fill="#561d00"/><polygon points="662.8,605.73 663.96,606.76 664.9,655.85 663.75,654.76" fill="#662200"/><polygon points="663.96,606.76 665.32,607.73 666.23,656.88 664.9,655.85" fill="#792800"/><polygon points="665.32,607.73 666.85,608.65 667.74,657.84 666.23,656.88" fill="#892e00"/><polygon points="666.85,608.65 668.55,609.49 669.41,658.74 667.74,657.84" fill="#983300"/><polygon points="668.55,609.49 670.4,610.26 671.24,659.55 669.41,658.74" fill="#a53700"/><polygon points="670.4,610.26 672.4,610.95 673.2,660.27 671.24,659.55" fill="#af3a00"/><polygon points="672.4,610.95 674.52,611.54 675.29,660.91 673.2,660.27" fill="#b83d00"/><polygon points="674.52,611.54 676.75,612.05 677.48,661.44 675.29,660.91" fill="#bf4000"/><polygon points="676.75,612.05 679.07,612.46 679.76,661.87 677.48,661.44" fill="#c54200"/><polygon points="679.07,612.46 681.46,612.76 682.11,662.19 679.76,661.87" fill="#ca4300"/><polygon points="681.46,612.76 683.9,612.96 684.51,662.41 682.11,662.19" fill="#cf4500"/><polygon points="683.9,612.96 686.37,613.06 686.95,662.51 684.51,662.41" fill="#d34600"/><polygon points="686.37,613.06 688.86,613.05 689.39,662.5 686.95,662.51" fill="#d54700"/><polygon points="688.86,613.05 691.34,612.94 691.83,662.38 689.39,662.5" fill="#d54700"/><polygon points="691.34,612.94 693.8,612.72 694.25,662.15 691.83,662.38" fill="#d34600"/><polygon points="693.8,612.72 696.21,612.39 696.61,661.8 694.25,662.15" fill="#cf4500"/><polygon points="696.21,612.39 698.55,611.97 698.92,661.36 696.61,661.8" fill="#cb4400"/><polygon points="698.55,611.97 700.8,611.45 701.13,660.81 698.92,661.36" fill="#c84300"/><polygon points="700.8,611.45 702.95,610.84 703.25,660.16 701.13,660.81" fill="#c74200"/><polygon points="702.95,610.84 704.99,610.14 705.25,659.42 703.25,660.16" fill="#c54200"/><polygon points="704.99,610.14 706.88,609.35 707.11,658.59 705.25,659.42" fill="#c44100"/><polygon points="706.88,609.35 708.63,608.5 708.83,657.68 707.11,658.59" fill="#c44100"/><polygon points="708.63,608.5 710.21,607.57 710.38,656.71 708.83,657.68" fill="#c44100"/><polygon points="710.21,607.57 711.62,606.59 711.77,655.67 710.38,656.71" fill="#c34100"/><polygon points="711.62,606.59 712.84,605.55 712.97,654.57 711.77,655.67" fill="#c34100"/><polygon points="712.84,605.55 713.86,604.47 713.98,653.43 712.97,654.57" fill="#c34100"/><polygon points="713.86,604.47 714.69,603.36 714.79,652.25 713.98,653.43" fill="#c34100"/><polygon points="714.69,603.36 715.3,602.21 715.39,651.04 714.79,652.25" fill="#c34100"/><polygon points="715.3,602.21 715.71,601.05 715.79,649.81 715.39,651.04" fill="#c34100"/><polygon points="715.71,601.05 715.91,599.89 715.99,648.58 715.79,649.81" fill="#c34100"/><polygon points="708.63,608.5 710.21,607.57 711.62,606.59 712.84,605.55 713.86,604.47 714.69,603.36 715.3,602.21 715.71,601.05 715.91,599.89 715.89,598.72 715.66,597.56 715.22,596.42 714.57,595.31 713.73,594.23 712.7,593.19 711.48,592.21 710.09,591.28 708.54,590.41 706.84,589.62 705.01,588.89 703.04,588.25 700.97,587.7 698.81,587.23 696.57,586.85 694.27,586.57 691.92,586.38 689.54,586.29 687.15,586.3 684.77,586.41 682.41,586.61 680.09,586.91 677.83,587.3 675.64,587.78 673.54,588.35 671.54,589.01 669.67,589.74 667.92,590.55 666.32,591.43 664.88,592.37 663.61,593.36 662.52,594.41 661.62,595.49 660.91,596.61 660.41,597.75 660.12,598.91 660.04,600.08 660.17,601.25 660.51,602.41 661.07,603.55 661.83,604.66 662.8,605.73 663.96,606.76 665.32,607.73 666.85,608.65 668.55,609.49 670.4,610.26 672.4,610.95 674.52,611.54 676.75,612.05 679.07,612.46 681.46,612.76 683.9,612.96 686.37,613.06 688.86,613.05 691.34,612.94 693.8,612.72 696.21,612.39 698.55,611.97 700.8,611.45 702.95,610.84 704.99,610.14 706.88,609.35" fill="#8e2f00"/>
<polygon points="770.87,600.91 769.65,673.56 769.55,674.88 769.23,676.2 768.7,677.5 767.96,678.76 767,679.99 765.85,681.17 764.5,682.29 762.96,683.34 761.26,684.31 759.39,685.2 757.38,685.99 755.24,686.69 752.98,687.28 750.63,687.76 748.2,688.13 745.72,688.38 743.2,688.51 740.66,688.52 738.13,688.41 735.63,688.18 733.16,687.84 730.77,687.37 728.45,686.8 726.24,686.12 724.15,685.34 722.2,684.47 720.39,683.51 718.75,682.47 717.29,681.37 716.02,680.2 714.94,678.98 714.07,677.72 713.41,676.42 712.97,675.11 712.73,673.78 712.72,672.46 712.52,599.89 712.73,598.68 713.15,597.48 713.8,596.31 714.64,595.18 715.69,594.09 716.94,593.05 718.36,592.07 719.95,591.15 721.71,590.31 723.6,589.54 725.63,588.86 727.78,588.26 730.02,587.75 732.35,587.35 734.74,587.03 737.19,586.82 739.66,586.71 742.15,586.7 744.64,586.8 747.11,586.99 749.53,587.29 751.9,587.68 754.2,588.17 756.41,588.75 758.51,589.42 760.5,590.17 762.34,591 764.04,591.91 765.57,592.88 766.92,593.91 768.09,594.99 769.07,596.12 769.84,597.28 770.4,598.48 770.74,599.69" fill="#cb4400"/><polygon points="712.52,599.89 712.53,601.11 712.73,673.78 712.72,672.46" fill="#000000"/><polygon points="712.53,601.11 712.77,602.34 712.97,675.11 712.73,673.78" fill="#000000"/><polygon points="712.77,602.34 713.23,603.55 713.41,676.42 712.97,675.11" fill="#010000"/><polygon points="713.23,603.55 713.9,604.74 714.07,677.72 713.41,676.42" fill="#060200"/><polygon points="713.9,604.74 714.8,605.9 714.94,678.98 714.07,677.72" fill="#1b0900"/><polygon points="714.8,605.9 715.9,607.02 716.02,680.2 714.94,678.98" fill="#561d00"/><polygon points="715.9,607.02 717.2,608.1 717.29,681.37 716.02,680.2" fill="#662200"/><polygon points="717.2,608.1 718.7,609.12 718.75,682.47 717.29,681.37" fill="#792800"/><polygon points="718.7,609.12 720.38,610.08 720.39,683.51 718.75,682.47" fill="#892e00"/><polygon points="720.38,610.08 722.23,610.96 722.2,684.47 720.39,683.51" fill="#983300"/><polygon points="722.23,610.96 724.23,611.77 724.15,685.34 722.2,684.47" fill="#a53700"/><polygon points="724.23,611.77 726.38,612.49 726.24,686.12 724.15,685.34" fill="#af3a00"/><polygon points="726.38,612.49 728.65,613.11 728.45,686.8 726.24,686.12" fill="#b83d00"/><polygon points="728.65,613.11 731.02,613.64 730.77,687.37 728.45,686.8" fill="#bf4000"/><polygon points="731.02,613.64 733.48,614.07 733.16,687.84 730.77,687.37" fill="#c54200"/><polygon points="733.48,614.07 736,614.39 735.63,688.18 733.16,687.84" fill="#ca4300"/><polygon points="736,614.39 738.57,614.6 738.13,688.41 735.63,688.18" fill="#cf4500"/><polygon points="738.57,614.6 741.17,614.7 740.66,688.52 738.13,688.41" fill="#d34600"/><polygon points="741.17,614.7 743.77,614.69 743.2,688.51 740.66,688.52" fill="#d54700"/><polygon points="743.77,614.69 746.35,614.57 745.72,688.38 743.2,688.51" fill="#d54700"/><polygon points="746.35,614.57 748.9,614.34 748.2,688.13 745.72,688.38" fill="#d34600"/><polygon points="748.9,614.34 751.39,614 750.63,687.76 748.2,688.13" fill="#cf4500"/><polygon points="751.39,614 753.8,613.56 752.98,687.28 750.63,687.76" fill="#cb4400"/><polygon points="753.8,613.56 756.11,613.01 755.24,686.69 752.98,687.28" fill="#c84300"/><polygon points="756.11,613.01 758.3,612.37 757.38,685.99 755.24,686.69" fill="#c74200"/><polygon points="758.3,612.37 760.37,611.64 759.39,685.2 757.38,685.99" fill="#c54200"/><polygon points="760.37,611.64 762.28,610.82 761.26,684.31 759.39,685.2" fill="#c44100"/><polygon points="762.28,610.82 764.03,609.92 762.96,683.34 761.26,684.31" fill="#c44100"/><polygon points="764.03,609.92 765.6,608.95 764.5,682.29 762.96,683.34" fill="#c44100"/><polygon points="765.6,608.95 766.98,607.92 765.85,681.17 764.5,682.29" fill="#c34100"/><polygon points="766.98,607.92 768.16,606.84 767,679.99 765.85,681.17" fill="#c34100"/><polygon points="768.16,606.84 769.14,605.71 767.96,678.76 767,679.99" fill="#c34100"/><polygon points="769.14,605.71 769.9,604.54 768.7,677.5 767.96,678.76" fill="#c34100"/><polygon points="769.9,604.54 770.45,603.34 769.23,676.2 768.7,677.5" fill="#c34100"/><polygon points="770.45,603.34 770.77,602.13 769.55,674.88 769.23,676.2" fill="#c34100"/><polygon points="770.77,602.13 770.87,600.91 769.65,673.56 769.55,674.88" fill="#c34100"/><polygon points="764.03,609.92 765.6,608.95 766.98,607.92 768.16,606.84 769.14,605.71 769.9,604.54 770.45,603.34 770.77,602.13 770.87,600.91 770.74,599.69 770.4,598.48 769.84,597.28 769.07,596.12 768.09,594.99 766.92,593.91 765.57,592.88 764.04,591.91 762.34,591 760.5,590.17 758.51,589.42 756.41,588.75 754.2,588.17 751.9,587.68 749.53,587.29 747.11,586.99 744.64,586.8 742.15,586.7 739.66,586.71 737.19,586.82 734.74,587.03 732.35,587.35 730.02,587.75 727.78,588.26 725.63,588.86 723.6,589.54 721.71,590.31 719.95,591.15 718.36,592.07 716.94,593.05 715.69,594.09 714.64,595.18 713.8,596.31 713.15,597.48 712.73,598.68 712.52,599.89 712.53,601.11 712.77,602.34 713.23,603.55 713.9,604.74 714.8,605.9 715.9,607.02 717.2,608.1 718.7,609.12 720.38,610.08 722.23,610.96 724.23,611.77 726.38,612.49 728.65,613.11 731.02,613.64 733.48,614.07 736,614.39 738.57,614.6 741.17,614.7 743.77,614.69 746.35,614.57 748.9,614.34 751.39,614 753.8,613.56 756.11,613.01 758.3,612.37 760.37,611.64 762.28,610.82" fill="#8e2f00"/>
<polygon points="768.18,699.22 768.83,659.23 768.94,657.87 769.27,656.53 769.82,655.22 770.59,653.95 771.57,652.73 772.75,651.57 774.12,650.47 775.68,649.44 777.4,648.5 779.28,647.64 781.29,646.87 783.44,646.21 785.69,645.64 788.04,645.18 790.47,644.83 792.96,644.6 795.49,644.47 798.04,644.46 800.6,644.57 803.15,644.78 805.66,645.12 808.13,645.55 810.53,646.1 812.85,646.75 815.07,647.5 817.17,648.34 819.14,649.27 820.96,650.29 822.62,651.37 824.1,652.53 825.4,653.74 826.51,655 827.4,656.31 828.09,657.64 828.55,659 828.79,660.37 828.8,661.74 827.32,701.83 827.1,703.25 826.66,704.64 825.99,706.01 825.1,707.33 824,708.6 822.69,709.8 821.19,710.93 819.5,711.98 817.63,712.94 815.61,713.79 813.45,714.54 811.15,715.18 808.75,715.7 806.27,716.1 803.71,716.37 801.1,716.51 798.47,716.52 795.83,716.4 793.21,716.15 790.63,715.78 788.1,715.28 785.66,714.66 783.31,713.93 781.07,713.09 778.97,712.15 777.02,711.12 775.24,710 773.64,708.81 772.22,707.55 771.01,706.24 770,704.88 769.21,703.49 768.64,702.07 768.3,700.65" fill="#cb4400"/><polygon points="768.83,659.23 768.96,660.6 768.3,700.65 768.18,699.22" fill="#000000"/><polygon points="768.96,660.6 769.31,661.97 768.64,702.07 768.3,700.65" fill="#000000"/><polygon points="769.31,661.97 769.89,663.33 769.21,703.49 768.64,702.07" fill="#010000"/><polygon points="769.89,663.33 770.69,664.66 770,704.88 769.21,703.49" fill="#060200"/><polygon points="770.69,664.66 771.71,665.96 771.01,706.24 770,704.88" fill="#1b0900"/><polygon points="771.71,665.96 772.94,667.22 772.22,707.55 771.01,706.24" fill="#561d00"/><polygon points="772.94,667.22 774.38,668.43 773.64,708.81 772.22,707.55" fill="#662200"/><polygon points="774.38,668.43 776,669.58 775.24,710 773.64,708.81" fill="#792800"/><polygon points="776,669.58 777.81,670.65 777.02,711.12 775.24,710" fill="#892e00"/><polygon points="777.81,670.65 779.79,671.64 778.97,712.15 777.02,711.12" fill="#983300"/><polygon points="779.79,671.64 781.92,672.54 781.07,713.09 778.97,712.15" fill="#a53700"/><polygon points="781.92,672.54 784.19,673.35 783.31,713.93 781.07,713.09" fill="#af3a00"/><polygon points="784.19,673.35 786.57,674.05 785.66,714.66 783.31,713.93" fill="#b83d00"/><polygon points="786.57,674.05 789.05,674.64 788.1,715.28 785.66,714.66" fill="#bf4000"/><polygon points="789.05,674.64 791.62,675.12 790.63,715.78 788.1,715.28" fill="#c54200"/><polygon points="791.62,675.12 794.24,675.48 793.21,716.15 790.63,715.78" fill="#ca4300"/><polygon points="794.24,675.48 796.9,675.72 795.83,716.4 793.21,716.15" fill="#cf4500"/><polygon points="796.9,675.72 799.57,675.83 798.47,716.52 795.83,716.4" fill="#d34600"/><polygon points="799.57,675.83 802.24,675.82 801.1,716.51 798.47,716.52" fill="#d54700"/><polygon points="802.24,675.82 804.88,675.69 803.71,716.37 801.1,716.51" fill="#d54700"/><polygon points="804.88,675.69 807.47,675.43 806.27,716.1 803.71,716.37" fill="#d34600"/><polygon points="807.47,675.43 810,675.05 808.75,715.7 806.27,716.1" fill="#cf4500"/><polygon points="810,675.05 812.43,674.55 811.15,715.18 808.75,715.7" fill="#cb4400"/><polygon points="812.43,674.55 814.75,673.94 813.45,714.54 811.15,715.18" fill="#c84300"/><polygon points="814.75,673.94 816.95,673.22 815.61,713.79 813.45,714.54" fill="#c74200"/><polygon points="816.95,673.22 819,672.4 817.63,712.94 815.61,713.79" fill="#c54200"/><polygon points="819,672.4 820.89,671.48 819.5,711.98 817.63,712.94" fill="#c44100"/><polygon points="820.89,671.48 822.6,670.47 821.19,710.93 819.5,711.98" fill="#c44100"/><polygon points="822.6,670.47 824.12,669.39 822.69,709.8 821.19,710.93" fill="#c44100"/><polygon points="824.12,669.39 825.45,668.23 824,708.6 822.69,709.8" fill="#c34100"/><polygon points="825.45,668.23 826.56,667.01 825.1,707.33 824,708.6" fill="#c34100"/><polygon points="826.56,667.01 827.46,665.75 825.99,706.01 825.1,707.33" fill="#c34100"/><polygon points="827.46,665.75 828.13,664.44 826.66,704.64 825.99,706.01" fill="#c34100"/><polygon points="828.13,664.44 828.58,663.1 827.1,703.25 826.66,704.64" fill="#c34100"/><polygon points="828.58,663.1 828.8,661.74 827.32,701.83 827.1,703.25" fill="#c34100"/><polygon points="822.6,670.47 824.12,669.39 825.45,668.23 826.56,667.01 827.46,665.75 828.13,664.44 828.58,663.1 828.8,661.74 828.79,660.37 828.55,659 828.09,657.64 827.4,656.31 826.51,655 825.4,653.74 824.1,652.53 822.62,651.37 820.96,650.29 819.14,649.27 817.17,648.34 815.07,647.5 812.85,646.75 810.53,646.1 808.13,645.55 805.66,645.12 803.15,644.78 800.6,644.57 798.04,644.46 795.49,644.47 792.96,644.6 790.47,644.83 788.04,645.18 785.69,645.64 783.44,646.21 781.29,646.87 779.28,647.64 777.4,648.5 775.68,649.44 774.12,650.47 772.75,651.57 771.57,652.73 770.59,653.95 769.82,655.22 769.27,656.53 768.94,657.87 768.83,659.23 768.96,660.6 769.31,661.97 769.89,663.33 770.69,664.66 771.71,665.96 772.94,667.22 774.38,668.43 776,669.58 777.81,670.65 779.79,671.64 781.92,672.54 784.19,673.35 786.57,674.05 789.05,674.64 791.62,675.12 794.24,675.48 796.9,675.72 799.57,675.83 802.24,675.82 804.88,675.69 807.47,675.43 810,675.05 812.43,674.55 814.75,673.94 816.95,673.22 819,672.4 820.89,671.48" fill="#8e2f00"/>
<polygon points="429.98,589.43 424.07,528.44 424.14,527.5 424.41,526.55 424.87,525.6 425.53,524.66 426.37,523.73 427.39,522.83 428.58,521.95 429.93,521.1 431.42,520.29 433.06,519.53 434.82,518.81 436.69,518.16 438.66,517.56 440.71,517.03 442.83,516.56 445,516.17 447.21,515.85 449.43,515.61 451.66,515.44 453.88,515.36 456.08,515.35 458.23,515.42 460.32,515.58 462.33,515.81 464.26,516.11 466.08,516.49 467.79,516.95 469.37,517.47 470.81,518.05 472.1,518.7 473.23,519.41 474.18,520.16 474.96,520.96 475.55,521.8 475.96,522.68 476.17,523.58 481,584.17 481.02,585.17 480.85,586.19 480.48,587.22 479.93,588.25 479.18,589.27 478.26,590.27 477.15,591.25 475.88,592.2 474.45,593.11 472.87,593.97 471.15,594.78 469.31,595.53 467.36,596.22 465.31,596.83 463.18,597.37 460.99,597.83 458.76,598.2 456.5,598.48 454.23,598.67 451.97,598.77 449.74,598.78 447.56,598.7 445.44,598.52 443.39,598.25 441.45,597.89 439.61,597.45 437.91,596.93 436.34,596.33 434.92,595.65 433.67,594.91 432.59,594.11 431.68,593.26 430.97,592.35 430.44,591.41 430.11,590.43" fill="#aaaa00"/><polygon points="424.07,528.44 424.19,529.36 430.11,590.43 429.98,589.43" fill="#050500"/><polygon points="424.19,529.36 424.52,530.26 430.44,591.41 430.11,590.43" fill="#171700"/><polygon points="424.52,530.26 425.05,531.13 430.97,592.35 430.44,591.41" fill="#484800"/><polygon points="425.05,531.13 425.77,531.96 431.68,593.26 430.97,592.35" fill="#565600"/><polygon points="425.77,531.96 426.68,532.75 432.59,594.11 431.68,593.26" fill="#656500"/><polygon points="426.68,532.75 427.78,533.49 433.67,594.91 432.59,594.11" fill="#737300"/><polygon points="427.78,533.49 429.05,534.17 434.92,595.65 433.67,594.91" fill="#7f7f00"/><polygon points="429.05,534.17 430.49,534.79 436.34,596.33 434.92,595.65" fill="#8a8a00"/><polygon points="430.49,534.79 432.09,535.35 437.91,596.93 436.34,596.33" fill="#939300"/><polygon points="432.09,535.35 433.82,535.83 439.61,597.45 437.91,596.93" fill="#9a9a00"/><polygon points="433.82,535.83 435.69,536.24 441.45,597.89 439.61,597.45" fill="#a0a000"/><polygon points="435.69,536.24 437.67,536.57 443.39,598.25 441.45,597.89" fill="#a5a500"/><polygon points="437.67,536.57 439.76,536.82 445.44,598.52 443.39,598.25" fill="#a9a900"/><polygon points="439.76,536.82 441.92,536.98 447.56,598.7 445.44,598.52" fill="#adad00"/><polygon points="441.92,536.98 444.15,537.06 449.74,598.78 447.56,598.7" fill="#b0b000"/><polygon points="444.15,537.06 446.43,537.05 451.97,598.77 449.74,598.78" fill="#b2b200"/><polygon points="446.43,537.05 448.73,536.96 454.23,598.67 451.97,598.77" fill="#b2b200"/><polygon points="448.73,536.96 451.05,536.78 456.5,598.48 454.23,598.67" fill="#b0b000"/><polygon points="451.05,536.78 453.36,536.52 458.76,598.2 456.5,598.48" fill="#adad00"/><polygon points="453.36,536.52 455.64,536.18 460.99,597.83 458.76,598.2" fill="#aaaa00"/><polygon points="455.64,536.18 457.88,535.76 463.18,597.37 460.99,597.83" fill="#a8a800"/><polygon points="457.88,535.76 460.05,535.26 465.31,596.83 463.18,597.37" fill="#a6a600"/><polygon points="460.05,535.26 462.15,534.7 467.36,596.22 465.31,596.83" fill="#a5a500"/><polygon points="462.15,534.7 464.14,534.07 469.31,595.53 467.36,596.22" fill="#a4a400"/><polygon points="464.14,534.07 466.03,533.37 471.15,594.78 469.31,595.53" fill="#a4a400"/><polygon points="466.03,533.37 467.79,532.62 472.87,593.97 471.15,594.78" fill="#a4a400"/><polygon points="467.79,532.62 469.41,531.83 474.45,593.11 472.87,593.97" fill="#a4a400"/><polygon points="469.41,531.83 470.88,530.99 475.88,592.2 474.45,593.11" fill="#a3a300"/><polygon points="470.88,530.99 472.19,530.11 477.15,591.25 475.88,592.2" fill="#a3a300"/><polygon points="472.19,530.11 473.32,529.21 478.26,590.27 477.15,591.25" fill="#a3a300"/><polygon points="473.32,529.21 474.27,528.28 479.18,589.27 478.26,590.27" fill="#a3a300"/><polygon points="474.27,528.28 475.04,527.34 479.93,588.25 479.18,589.27" fill="#a3a300"/><polygon points="475.04,527.34 475.61,526.4 480.48,587.22 479.93,588.25" fill="#a3a300"/><polygon points="475.61,526.4 476,525.45 480.85,586.19 480.48,587.22" fill="#a3a300"/><polygon points="476,525.45 476.18,524.51 481.02,585.17 480.85,586.19" fill="#a2a200"/><polygon points="476.18,524.51 476.17,523.58 481,584.17 481.02,585.17" fill="#9e9e00"/><polygon points="466.03,533.37 467.79,532.62 469.41,531.83 470.88,530.99 472.19,530.11 473.32,529.21 474.27,528.28 475.04,527.34 475.61,526.4 476,525.45 476.18,524.51 476.17,523.58 475.96,522.68 475.55,521.8 474.96,520.96 474.18,520.16 473.23,519.41 472.1,518.7 470.81,518.05 469.37,517.47 467.79,516.95 466.08,516.49 464.26,516.11 462.33,515.81 460.32,515.58 458.23,515.42 456.08,515.35 453.88,515.36 451.66,515.44 449.43,515.61 447.21,515.85 445,516.17 442.83,516.56 440.71,517.03 438.66,517.56 436.69,518.16 434.82,518.81 433.06,519.53 431.42,520.29 429.93,521.1 428.58,521.95 427.39,522.83 426.37,523.73 425.53,524.66 424.87,525.6 424.41,526.55 424.14,527.5 424.07,528.44 424.19,529.36 424.52,530.26 425.05,531.13 425.77,531.96 426.68,532.75 427.78,533.49 429.05,534.17 430.49,534.79 432.09,535.35 433.82,535.83 435.69,536.24 437.67,536.57 439.76,536.82 441.92,536.98 444.15,537.06 446.43,537.05 448.73,536.96 451.05,536.78 453.36,536.52 455.64,536.18 457.88,535.76 460.05,535.26 462.15,534.7 464.14,534.07" fill="#777700"/>
<polygon points="468.25,594.77 468.25,593.7 468.45,592.63 468.85,591.55 469.45,590.48 470.23,589.43 471.2,588.4 472.34,587.4 473.64,586.44 475.1,585.52 476.7,584.66 478.44,583.85 480.29,583.1 482.24,582.42 484.29,581.82 486.41,581.29 488.58,580.85 490.8,580.49 493.05,580.21 495.31,580.02 497.56,579.93 499.79,579.92 501.98,580 504.11,580.17 506.18,580.43 508.17,580.78 510.05,581.21 511.83,581.73 513.48,582.32 514.99,582.98 516.35,583.72 517.55,584.52 518.58,585.37 519.44,586.28 520.11,587.24 520.59,588.23 520.87,589.26 520.96,590.31 521.99,605.74 521.88,606.83 521.57,607.92 521.07,609.02 520.37,610.11 519.48,611.18 518.4,612.22 517.15,613.23 515.73,614.21 514.16,615.13 512.44,615.99 510.58,616.79 508.61,617.53 506.54,618.18 504.38,618.75 502.15,619.24 499.86,619.64 497.55,619.94 495.22,620.15 492.89,620.25 490.59,620.26 488.32,620.17 486.12,619.98 483.99,619.7 481.96,619.31 480.03,618.84 478.24,618.28 476.58,617.64 475.07,616.92 473.73,616.13 472.56,615.28 471.57,614.36 470.77,613.4 470.17,612.4 469.77,611.36 469.56,610.29" fill="#aaaa00"/><polygon points="468.25,594.77 468.46,595.81 469.77,611.36 469.56,610.29" fill="#050500"/><polygon points="468.46,595.81 468.86,596.83 470.17,612.4 469.77,611.36" fill="#171700"/><polygon points="468.86,596.83 469.46,597.82 470.77,613.4 470.17,612.4" fill="#484800"/><polygon points="469.46,597.82 470.27,598.77 471.57,614.36 470.77,613.4" fill="#565600"/><polygon points="470.27,598.77 471.26,599.66 472.56,615.28 471.57,614.36" fill="#656500"/><polygon points="471.26,599.66 472.43,600.5 473.73,616.13 472.56,615.28" fill="#737300"/><polygon points="472.43,600.5 473.78,601.28 475.07,616.92 473.73,616.13" fill="#7f7f00"/><polygon points="473.78,601.28 475.29,601.98 476.58,617.64 475.07,616.92" fill="#8a8a00"/><polygon points="475.29,601.98 476.96,602.61 478.24,618.28 476.58,617.64" fill="#939300"/><polygon points="476.96,602.61 478.76,603.16 480.03,618.84 478.24,618.28" fill="#9a9a00"/><polygon points="478.76,603.16 480.7,603.63 481.96,619.31 480.03,618.84" fill="#a0a000"/><polygon points="480.7,603.63 482.74,604 483.99,619.7 481.96,619.31" fill="#a5a500"/><polygon points="482.74,604 484.88,604.28 486.12,619.98 483.99,619.7" fill="#a9a900"/><polygon points="484.88,604.28 487.09,604.47 488.32,620.17 486.12,619.98" fill="#adad00"/><polygon points="487.09,604.47 489.37,604.56 490.59,620.26 488.32,620.17" fill="#b0b000"/><polygon points="489.37,604.56 491.69,604.55 492.89,620.25 490.59,620.26" fill="#b2b200"/><polygon points="491.69,604.55 494.02,604.44 495.22,620.15 492.89,620.25" fill="#b2b200"/><polygon points="494.02,604.44 496.37,604.24 497.55,619.94 495.22,620.15" fill="#b0b000"/><polygon points="496.37,604.24 498.7,603.94 499.86,619.64 497.55,619.94" fill="#adad00"/><polygon points="498.7,603.94 500.99,603.56 502.15,619.24 499.86,619.64" fill="#aaaa00"/><polygon points="500.99,603.56 503.24,603.08 504.38,618.75 502.15,619.24" fill="#a8a800"/><polygon points="503.24,603.08 505.41,602.51 506.54,618.18 504.38,618.75" fill="#a6a600"/><polygon points="505.41,602.51 507.5,601.87 508.61,617.53 506.54,618.18" fill="#a5a500"/><polygon points="507.5,601.87 509.48,601.15 510.58,616.79 508.61,617.53" fill="#a4a400"/><polygon points="509.48,601.15 511.34,600.37 512.44,615.99 510.58,616.79" fill="#a4a400"/><polygon points="511.34,600.37 513.07,599.52 514.16,615.13 512.44,615.99" fill="#a4a400"/><polygon points="513.07,599.52 514.66,598.61 515.73,614.21 514.16,615.13" fill="#a4a400"/><polygon points="514.66,598.61 516.09,597.66 517.15,613.23 515.73,614.21" fill="#a3a300"/><polygon points="516.09,597.66 517.35,596.67 518.4,612.22 517.15,613.23" fill="#a3a300"/><polygon points="517.35,596.67 518.43,595.64 519.48,611.18 518.4,612.22" fill="#a3a300"/><polygon points="518.43,595.64 519.32,594.59 520.37,610.11 519.48,611.18" fill="#a3a300"/><polygon points="519.32,594.59 520.03,593.52 521.07,609.02 520.37,610.11" fill="#a3a300"/><polygon points="520.03,593.52 520.54,592.45 521.57,607.92 521.07,609.02" fill="#a3a300"/><polygon points="520.54,592.45 520.85,591.37 521.88,606.83 521.57,607.92" fill="#a3a300"/><polygon points="520.85,591.37 520.96,590.31 521.99,605.74 521.88,606.83" fill="#a2a200"/><polygon points="511.34,600.37 513.07,599.52 514.66,598.61 516.09,597.66 517.35,596.67 518.43,595.64 519.32,594.59 520.03,593.52 520.54,592.45 520.85,591.37 520.96,590.31 520.87,589.26 520.59,588.23 520.11,587.24 519.44,586.28 518.58,585.37 517.55,584.52 516.35,583.72 514.99,582.98 513.48,582.32 511.83,581.73 510.05,581.21 508.17,580.78 506.18,580.43 504.11,580.17 501.98,580 499.79,579.92 497.56,579.93 495.31,580.02 493.05,580.21 490.8,580.49 488.58,580.85 486.41,581.29 484.29,581.82 482.24,582.42 480.29,583.1 478.44,583.85 476.7,584.66 475.1,585.52 473.64,586.44 472.34,587.4 471.2,588.4 470.23,589.43 469.45,590.48 468.85,591.55 468.45,592.63 468.25,593.7 468.25,594.77 468.46,595.81 468.86,596.83 469.46,597.82 470.27,598.77 471.26,599.66 472.43,600.5 473.78,601.28 475.29,601.98 476.96,602.61 478.76,603.16 480.7,603.63 482.74,604 484.88,604.28 487.09,604.47 489.37,604.56 491.69,604.55 494.02,604.44 496.37,604.24 498.7,603.94 500.99,603.56 503.24,603.08 505.41,602.51 507.5,601.87 509.48,601.15" fill="#777700"/>
<polygon points="563.55,586.25 565.72,627.7 565.68,628.86 565.44,630.03 564.99,631.2 564.34,632.36 563.49,633.5 562.46,634.62 561.23,635.7 559.83,636.74 558.27,637.73 556.55,638.65 554.69,639.51 552.7,640.29 550.6,641 548.4,641.61 546.13,642.13 543.8,642.55 541.42,642.88 539.02,643.1 536.62,643.21 534.24,643.22 531.89,643.12 529.6,642.92 527.38,642.62 525.25,642.21 523.23,641.7 521.33,641.11 519.57,640.42 517.97,639.65 516.53,638.8 515.26,637.89 514.18,636.91 513.29,635.88 512.6,634.81 512.11,633.7 511.83,632.55 508.88,590.87 508.81,589.76 508.95,588.65 509.3,587.54 509.84,586.43 510.59,585.34 511.53,584.27 512.65,583.24 513.95,582.24 515.41,581.29 517.02,580.39 518.78,579.56 520.66,578.78 522.65,578.08 524.74,577.46 526.91,576.91 529.15,576.45 531.44,576.08 533.76,575.79 536.1,575.6 538.44,575.5 540.76,575.49 543.05,575.58 545.29,575.75 547.46,576.02 549.55,576.38 551.55,576.83 553.43,577.36 555.19,577.97 556.81,578.66 558.28,579.42 559.59,580.25 560.72,581.14 561.68,582.08 562.44,583.07 563.01,584.1 563.38,585.16" fill="#aaaa00"/><polygon points="508.81,589.76 508.88,590.87 511.83,632.55 511.75,631.4" fill="#010100"/><polygon points="508.88,590.87 509.16,591.95 512.11,633.7 511.83,632.55" fill="#050500"/><polygon points="509.16,591.95 509.65,593.01 512.6,634.81 512.11,633.7" fill="#171700"/><polygon points="509.65,593.01 510.35,594.04 513.29,635.88 512.6,634.81" fill="#484800"/><polygon points="510.35,594.04 511.25,595.02 514.18,636.91 513.29,635.88" fill="#565600"/><polygon points="511.25,595.02 512.34,595.95 515.26,637.89 514.18,636.91" fill="#656500"/><polygon points="512.34,595.95 513.62,596.82 516.53,638.8 515.26,637.89" fill="#737300"/><polygon points="513.62,596.82 515.08,597.62 517.97,639.65 516.53,638.8" fill="#7f7f00"/><polygon points="515.08,597.62 516.7,598.35 519.57,640.42 517.97,639.65" fill="#8a8a00"/><polygon points="516.7,598.35 518.49,599.01 521.33,641.11 519.57,640.42" fill="#939300"/><polygon points="518.49,599.01 520.41,599.58 523.23,641.7 521.33,641.11" fill="#9a9a00"/><polygon points="520.41,599.58 522.45,600.06 525.25,642.21 523.23,641.7" fill="#a0a000"/><polygon points="522.45,600.06 524.61,600.45 527.38,642.62 525.25,642.21" fill="#a5a500"/><polygon points="524.61,600.45 526.86,600.74 529.6,642.92 527.38,642.62" fill="#a9a900"/><polygon points="526.86,600.74 529.19,600.93 531.89,643.12 529.6,642.92" fill="#adad00"/><polygon points="529.19,600.93 531.57,601.02 534.24,643.22 531.89,643.12" fill="#b0b000"/><polygon points="531.57,601.02 533.99,601.01 536.62,643.21 534.24,643.22" fill="#b2b200"/><polygon points="533.99,601.01 536.42,600.91 539.02,643.1 536.62,643.21" fill="#b2b200"/><polygon points="536.42,600.91 538.85,600.7 541.42,642.88 539.02,643.1" fill="#b0b000"/><polygon points="538.85,600.7 541.26,600.39 543.8,642.55 541.42,642.88" fill="#adad00"/><polygon points="541.26,600.39 543.63,599.98 546.13,642.13 543.8,642.55" fill="#aaaa00"/><polygon points="543.63,599.98 545.94,599.49 548.4,641.61 546.13,642.13" fill="#a8a800"/><polygon points="545.94,599.49 548.17,598.9 550.6,641 548.4,641.61" fill="#a6a600"/><polygon points="548.17,598.9 550.3,598.24 552.7,640.29 550.6,641" fill="#a5a500"/><polygon points="550.3,598.24 552.32,597.49 554.69,639.51 552.7,640.29" fill="#a4a400"/><polygon points="552.32,597.49 554.21,596.68 556.55,638.65 554.69,639.51" fill="#a4a400"/><polygon points="554.21,596.68 555.96,595.79 558.27,637.73 556.55,638.65" fill="#a4a400"/><polygon points="555.96,595.79 557.55,594.86 559.83,636.74 558.27,637.73" fill="#a4a400"/><polygon points="557.55,594.86 558.97,593.87 561.23,635.7 559.83,636.74" fill="#a3a300"/><polygon points="558.97,593.87 560.22,592.84 562.46,634.62 561.23,635.7" fill="#a3a300"/><polygon points="560.22,592.84 561.27,591.77 563.49,633.5 562.46,634.62" fill="#a3a300"/><polygon points="561.27,591.77 562.14,590.68 564.34,632.36 563.49,633.5" fill="#a3a300"/><polygon points="562.14,590.68 562.8,589.58 564.99,631.2 564.34,632.36" fill="#a3a300"/><polygon points="562.8,589.58 563.25,588.46 565.44,630.03 564.99,631.2" fill="#a3a300"/><polygon points="563.25,588.46 563.5,587.35 565.68,628.86 565.44,630.03" fill="#a3a300"/><polygon points="563.5,587.35 563.55,586.25 565.72,627.7 565.68,628.86" fill="#a2a200"/><polygon points="554.21,596.68 555.96,595.79 557.55,594.86 558.97,593.87 560.22,592.84 561.27,591.77 562.14,590.68 562.8,589.58 563.25,588.46 563.5,587.35 563.55,586.25 563.38,585.16 563.01,584.1 562.44,583.07 561.68,582.08 560.72,581.14 559.59,580.25 558.28,579.42 556.81,578.66 555.19,577.97 553.43,577.36 551.55,576.83 549.55,576.38 547.46,576.02 545.29,575.75 543.05,575.58 540.76,575.49 538.44,575.5 536.1,575.6 533.76,575.79 531.44,576.08 529.15,576.45 526.91,576.91 524.74,577.46 522.65,578.08 520.66,578.78 518.78,579.56 517.02,580.39 515.41,581.29 513.95,582.24 512.65,583.24 511.53,584.27 510.59,585.34 509.84,586.43 509.3,587.54 508.95,588.65 508.81,589.76 508.88,590.87 509.16,591.95 509.65,593.01 510.35,594.04 511.25,595.02 512.34,595.95 513.62,596.82 515.08,597.62 516.7,598.35 518.49,599.01 520.41,599.58 522.45,600.06 524.61,600.45 526.86,600.74 529.19,600.93 531.57,601.02 533.99,601.01 536.42,600.91 538.85,600.7 541.26,600.39 543.63,599.98 545.94,599.49 548.17,598.9 550.3,598.24 552.32,597.49" fill="#777700"/>
<polygon points="556.9,655.14 553.23,589.44 553.3,588.28 553.58,587.12 554.07,585.96 554.77,584.82 555.67,583.71 556.76,582.63 558.04,581.6 559.5,580.61 561.11,579.67 562.88,578.8 564.78,578 566.81,577.27 568.94,576.62 571.17,576.05 573.46,575.57 575.82,575.18 578.22,574.88 580.65,574.68 583.08,574.58 585.5,574.57 587.89,574.66 590.24,574.84 592.52,575.12 594.73,575.5 596.84,575.96 598.85,576.52 600.73,577.15 602.47,577.87 604.06,578.66 605.49,579.52 606.74,580.45 607.81,581.43 608.68,582.46 609.35,583.53 609.82,584.64 610.08,585.77 612.49,651.18 612.53,652.42 612.36,653.68 611.99,654.93 611.4,656.17 610.61,657.4 609.61,658.6 608.42,659.76 607.05,660.87 605.5,661.93 603.78,662.92 601.92,663.84 599.91,664.68 597.79,665.43 595.56,666.09 593.24,666.65 590.86,667.1 588.42,667.45 585.95,667.69 583.47,667.81 581.01,667.82 578.57,667.71 576.18,667.5 573.86,667.17 571.63,666.73 569.5,666.19 567.49,665.55 565.62,664.81 563.91,663.99 562.36,663.08 560.98,662.1 559.79,661.05 558.8,659.95 558.01,658.8 557.43,657.61 557.06,656.38" fill="#aaaa00"/><polygon points="553.23,589.44 553.39,590.59 557.06,656.38 556.9,655.14" fill="#010100"/><polygon points="553.39,590.59 553.76,591.72 557.43,657.61 557.06,656.38" fill="#050500"/><polygon points="553.76,591.72 554.35,592.83 558.01,658.8 557.43,657.61" fill="#171700"/><polygon points="554.35,592.83 555.15,593.9 558.8,659.95 558.01,658.8" fill="#484800"/><polygon points="555.15,593.9 556.16,594.92 559.79,661.05 558.8,659.95" fill="#565600"/><polygon points="556.16,594.92 557.37,595.89 560.98,662.1 559.79,661.05" fill="#656500"/><polygon points="557.37,595.89 558.77,596.8 562.36,663.08 560.98,662.1" fill="#737300"/><polygon points="558.77,596.8 560.35,597.64 563.91,663.99 562.36,663.08" fill="#7f7f00"/><polygon points="560.35,597.64 562.1,598.4 565.62,664.81 563.91,663.99" fill="#8a8a00"/><polygon points="562.1,598.4 564.01,599.09 567.49,665.55 565.62,664.81" fill="#939300"/><polygon points="564.01,599.09 566.06,599.68 569.5,666.19 567.49,665.55" fill="#9a9a00"/><polygon points="566.06,599.68 568.23,600.18 571.63,666.73 569.5,666.19" fill="#a0a000"/><polygon points="568.23,600.18 570.51,600.59 573.86,667.17 571.63,666.73" fill="#a5a500"/><polygon points="570.51,600.59 572.88,600.89 576.18,667.5 573.86,667.17" fill="#a9a900"/><polygon points="572.88,600.89 575.33,601.1 578.57,667.71 576.18,667.5" fill="#adad00"/><polygon points="575.33,601.1 577.82,601.19 581.01,667.82 578.57,667.71" fill="#b0b000"/><polygon points="577.82,601.19 580.34,601.18 583.47,667.81 581.01,667.82" fill="#b2b200"/><polygon points="580.34,601.18 582.88,601.07 585.95,667.69 583.47,667.81" fill="#b2b200"/><polygon points="582.88,601.07 585.4,600.85 588.42,667.45 585.95,667.69" fill="#b0b000"/><polygon points="585.4,600.85 587.9,600.53 590.86,667.1 588.42,667.45" fill="#adad00"/><polygon points="587.9,600.53 590.34,600.11 593.24,666.65 590.86,667.1" fill="#aaaa00"/><polygon points="590.34,600.11 592.71,599.59 595.56,666.09 593.24,666.65" fill="#a8a800"/><polygon points="592.71,599.59 594.99,598.98 597.79,665.43 595.56,666.09" fill="#a6a600"/><polygon points="594.99,598.98 597.17,598.28 599.91,664.68 597.79,665.43" fill="#a5a500"/><polygon points="597.17,598.28 599.22,597.5 601.92,663.84 599.91,664.68" fill="#a4a400"/><polygon points="599.22,597.5 601.13,596.65 603.78,662.92 601.92,663.84" fill="#a4a400"/><polygon points="601.13,596.65 602.89,595.73 605.5,661.93 603.78,662.92" fill="#a4a400"/><polygon points="602.89,595.73 604.48,594.75 607.05,660.87 605.5,661.93" fill="#a4a400"/><polygon points="604.48,594.75 605.89,593.72 608.42,659.76 607.05,660.87" fill="#a3a300"/><polygon points="605.89,593.72 607.11,592.65 609.61,658.6 608.42,659.76" fill="#a3a300"/><polygon points="607.11,592.65 608.13,591.54 610.61,657.4 609.61,658.6" fill="#a3a300"/><polygon points="608.13,591.54 608.95,590.4 611.4,656.17 610.61,657.4" fill="#a3a300"/><polygon points="608.95,590.4 609.55,589.25 611.99,654.93 611.4,656.17" fill="#a3a300"/><polygon points="609.55,589.25 609.94,588.08 612.36,653.68 611.99,654.93" fill="#a3a300"/><polygon points="609.94,588.08 610.12,586.92 612.53,652.42 612.36,653.68" fill="#a3a300"/><polygon points="610.12,586.92 610.08,585.77 612.49,651.18 612.53,652.42" fill="#a2a200"/><polygon points="601.13,596.65 602.89,595.73 604.48,594.75 605.89,593.72 607.11,592.65 608.13,591.54 608.95,590.4 609.55,589.25 609.94,588.08 610.12,586.92 610.08,585.77 609.82,584.64 609.35,583.53 608.68,582.46 607.81,581.43 606.74,580.45 605.49,579.52 604.06,578.66 602.47,577.87 600.73,577.15 598.85,576.52 596.84,575.96 594.73,575.5 592.52,575.12 590.24,574.84 587.89,574.66 585.5,574.57 583.08,574.58 580.65,574.68 578.22,574.88 575.82,575.18 573.46,575.57 571.17,576.05 568.94,576.62 566.81,577.27 564.78,578 562.88,578.8 561.11,579.67 559.5,580.61 558.04,581.6 556.76,582.63 555.67,583.71 554.77,584.82 554.07,585.96 553.58,587.12 553.3,588.28 553.23,589.44 553.39,590.59 553.76,591.72 554.35,592.83 555.15,593.9 556.16,594.92 557.37,595.89 558.77,596.8 560.35,597.64 562.1,598.4 564.01,599.09 566.06,599.68 568.23,600.18 570.51,600.59 572.88,600.89 575.33,601.1 577.82,601.19 580.34,601.18 582.88,601.07 585.4,600.85 587.9,600.53 590.34,600.11 592.71,599.59 594.99,598.98 597.17,598.28 599.22,597.5" fill="#777700"/>
<polygon points="661.93,635.55 662.77,677.69 662.69,679.03 662.39,680.38 661.88,681.72 661.15,683.04 660.2,684.32 659.06,685.57 657.72,686.76 656.19,687.9 654.49,688.97 652.62,689.95 650.6,690.86 648.46,691.66 646.19,692.37 643.83,692.97 641.39,693.46 638.89,693.84 636.35,694.09 633.79,694.22 631.23,694.23 628.7,694.12 626.2,693.89 623.77,693.53 621.43,693.07 619.18,692.48 617.05,691.79 615.06,691 613.22,690.12 611.55,689.14 610.06,688.09 608.75,686.96 607.64,685.78 606.74,684.54 606.05,683.26 605.58,681.95 605.33,680.61 603.65,638.34 603.62,637.05 603.81,635.77 604.23,634.49 604.85,633.23 605.69,632 606.73,630.8 607.96,629.65 609.37,628.56 610.95,627.53 612.7,626.56 614.59,625.67 616.61,624.86 618.75,624.14 620.99,623.52 623.31,622.99 625.7,622.55 628.14,622.23 630.62,622 633.1,621.89 635.59,621.88 638.06,621.98 640.48,622.18 642.86,622.49 645.16,622.91 647.37,623.42 649.47,624.03 651.46,624.74 653.31,625.53 655.01,626.41 656.55,627.36 657.91,628.38 659.09,629.47 660.08,630.61 660.86,631.79 661.43,633.02 661.79,634.27" fill="#aaaa00"/><polygon points="603.65,638.34 603.91,639.61 605.58,681.95 605.33,680.61" fill="#010100"/><polygon points="603.91,639.61 604.38,640.87 606.05,683.26 605.58,681.95" fill="#050500"/><polygon points="604.38,640.87 605.08,642.09 606.74,684.54 606.05,683.26" fill="#171700"/><polygon points="605.08,642.09 605.99,643.28 607.64,685.78 606.74,684.54" fill="#484800"/><polygon points="605.99,643.28 607.11,644.41 608.75,686.96 607.64,685.78" fill="#565600"/><polygon points="607.11,644.41 608.43,645.48 610.06,688.09 608.75,686.96" fill="#656500"/><polygon points="608.43,645.48 609.95,646.49 611.55,689.14 610.06,688.09" fill="#737300"/><polygon points="609.95,646.49 611.64,647.42 613.22,690.12 611.55,689.14" fill="#7f7f00"/><polygon points="611.64,647.42 613.51,648.27 615.06,691 613.22,690.12" fill="#8a8a00"/><polygon points="613.51,648.27 615.52,649.03 617.05,691.79 615.06,691" fill="#939300"/><polygon points="615.52,649.03 617.68,649.69 619.18,692.48 617.05,691.79" fill="#9a9a00"/><polygon points="617.68,649.69 619.96,650.24 621.43,693.07 619.18,692.48" fill="#a0a000"/><polygon points="619.96,650.24 622.34,650.69 623.77,693.53 621.43,693.07" fill="#a5a500"/><polygon points="622.34,650.69 624.8,651.03 626.2,693.89 623.77,693.53" fill="#a9a900"/><polygon points="624.8,651.03 627.33,651.25 628.7,694.12 626.2,693.89" fill="#adad00"/><polygon points="627.33,651.25 629.91,651.36 631.23,694.23 628.7,694.12" fill="#b0b000"/><polygon points="629.91,651.36 632.5,651.35 633.79,694.22 631.23,694.23" fill="#b2b200"/><polygon points="632.5,651.35 635.1,651.22 636.35,694.09 633.79,694.22" fill="#b2b200"/><polygon points="635.1,651.22 637.68,650.98 638.89,693.84 636.35,694.09" fill="#b0b000"/><polygon points="637.68,650.98 640.22,650.62 641.39,693.46 638.89,693.84" fill="#adad00"/><polygon points="640.22,650.62 642.69,650.16 643.83,692.97 641.39,693.46" fill="#aaaa00"/><polygon points="642.69,650.16 645.09,649.58 646.19,692.37 643.83,692.97" fill="#a8a800"/><polygon points="645.09,649.58 647.39,648.9 648.46,691.66 646.19,692.37" fill="#a6a600"/><polygon points="647.39,648.9 649.57,648.13 650.6,690.86 648.46,691.66" fill="#a5a500"/><polygon points="649.57,648.13 651.62,647.27 652.62,689.95 650.6,690.86" fill="#a4a400"/><polygon points="651.62,647.27 653.51,646.33 654.49,688.97 652.62,689.95" fill="#a4a400"/><polygon points="653.51,646.33 655.24,645.31 656.19,687.9 654.49,688.97" fill="#a4a400"/><polygon points="655.24,645.31 656.79,644.22 657.72,686.76 656.19,687.9" fill="#a4a400"/><polygon points="656.79,644.22 658.16,643.08 659.06,685.57 657.72,686.76" fill="#a3a300"/><polygon points="658.16,643.08 659.32,641.89 660.2,684.32 659.06,685.57" fill="#a3a300"/><polygon points="659.32,641.89 660.28,640.66 661.15,683.04 660.2,684.32" fill="#a3a300"/><polygon points="660.28,640.66 661.02,639.4 661.88,681.72 661.15,683.04" fill="#a3a300"/><polygon points="661.02,639.4 661.54,638.12 662.39,680.38 661.88,681.72" fill="#a3a300"/><polygon points="661.54,638.12 661.85,636.83 662.69,679.03 662.39,680.38" fill="#a3a300"/><polygon points="661.85,636.83 661.93,635.55 662.77,677.69 662.69,679.03" fill="#a3a300"/><polygon points="653.51,646.33 655.24,645.31 656.79,644.22 658.16,643.08 659.32,641.89 660.28,640.66 661.02,639.4 661.54,638.12 661.85,636.83 661.93,635.55 661.79,634.27 661.43,633.02 660.86,631.79 660.08,630.61 659.09,629.47 657.91,628.38 656.55,627.36 655.01,626.41 653.31,625.53 651.46,624.74 649.47,624.03 647.37,623.42 645.16,622.91 642.86,622.49 640.48,622.18 638.06,621.98 635.59,621.88 633.1,621.89 630.62,622 628.14,622.23 625.7,622.55 623.31,622.99 620.99,623.52 618.75,624.14 616.61,624.86 614.59,625.67 612.7,626.56 610.95,627.53 609.37,628.56 607.96,629.65 606.73,630.8 605.69,632 604.85,633.23 604.23,634.49 603.81,635.77 603.62,637.05 603.65,638.34 603.91,639.61 604.38,640.87 605.08,642.09 605.99,643.28 607.11,644.41 608.43,645.48 609.95,646.49 611.64,647.42 613.51,648.27 615.52,649.03 617.68,649.69 619.96,650.24 622.34,650.69 624.8,651.03 627.33,651.25 629.91,651.36 632.5,651.35 635.1,651.22 637.68,650.98 640.22,650.62 642.69,650.16 645.09,649.58 647.39,648.9 649.57,648.13 651.62,647.27" fill="#777700"/>
<polygon points="657.27,706.55 655.97,647.8 656.07,646.43 656.4,645.08 656.95,643.75 657.73,642.44 658.71,641.18 659.9,639.96 661.29,638.8 662.86,637.71 664.6,636.68 666.5,635.74 668.54,634.89 670.71,634.13 673,633.46 675.38,632.9 677.83,632.44 680.35,632.1 682.91,631.86 685.5,631.74 688.09,631.73 690.67,631.83 693.22,632.05 695.72,632.38 698.15,632.82 700.49,633.36 702.74,634.01 704.87,634.75 706.86,635.59 708.71,636.52 710.4,637.53 711.9,638.61 713.23,639.76 714.35,640.97 715.26,642.22 715.96,643.52 716.44,644.85 716.7,646.2 716.72,647.57 716.8,706.3 716.59,707.75 716.16,709.19 715.51,710.61 714.63,711.99 713.54,713.34 712.24,714.62 710.74,715.85 709.05,717 707.19,718.06 705.17,719.04 703,719.91 700.7,720.67 698.3,721.32 695.8,721.84 693.23,722.25 690.61,722.52 687.97,722.67 685.31,722.68 682.67,722.56 680.06,722.3 677.52,721.92 675.04,721.42 672.67,720.79 670.41,720.05 668.28,719.19 666.31,718.24 664.5,717.19 662.87,716.05 661.43,714.84 660.19,713.56 659.16,712.23 658.35,710.85 657.76,709.44 657.4,708" fill="#aaaa00"/><polygon points="655.97,647.8 656.11,649.16 657.4,708 657.27,706.55" fill="#000000"/><polygon points="656.11,649.16 656.47,650.51 657.76,709.44 657.4,708" fill="#010100"/><polygon points="656.47,650.51 657.07,651.84 658.35,710.85 657.76,709.44" fill="#050500"/><polygon points="657.07,651.84 657.9,653.14 659.16,712.23 658.35,710.85" fill="#171700"/><polygon points="657.9,653.14 658.94,654.4 660.19,713.56 659.16,712.23" fill="#484800"/><polygon points="658.94,654.4 660.2,655.6 661.43,714.84 660.19,713.56" fill="#565600"/><polygon points="660.2,655.6 661.67,656.74 662.87,716.05 661.43,714.84" fill="#656500"/><polygon points="661.67,656.74 663.33,657.81 664.5,717.19 662.87,716.05" fill="#737300"/><polygon points="663.33,657.81 665.18,658.8 666.31,718.24 664.5,717.19" fill="#7f7f00"/><polygon points="665.18,658.8 667.19,659.7 668.28,719.19 666.31,718.24" fill="#8a8a00"/><polygon points="667.19,659.7 669.36,660.5 670.41,720.05 668.28,719.19" fill="#939300"/><polygon points="669.36,660.5 671.67,661.2 672.67,720.79 670.41,720.05" fill="#9a9a00"/><polygon points="671.67,661.2 674.09,661.79 675.04,721.42 672.67,720.79" fill="#a0a000"/><polygon points="674.09,661.79 676.61,662.27 677.52,721.92 675.04,721.42" fill="#a5a500"/><polygon points="676.61,662.27 679.22,662.63 680.06,722.3 677.52,721.92" fill="#a9a900"/><polygon points="679.22,662.63 681.88,662.86 682.67,722.56 680.06,722.3" fill="#adad00"/><polygon points="681.88,662.86 684.57,662.98 685.31,722.68 682.67,722.56" fill="#b0b000"/><polygon points="684.57,662.98 687.28,662.97 687.97,722.67 685.31,722.68" fill="#b2b200"/><polygon points="687.28,662.97 689.99,662.83 690.61,722.52 687.97,722.67" fill="#b2b200"/><polygon points="689.99,662.83 692.66,662.57 693.23,722.25 690.61,722.52" fill="#b0b000"/><polygon points="692.66,662.57 695.28,662.19 695.8,721.84 693.23,722.25" fill="#adad00"/><polygon points="695.28,662.19 697.83,661.7 698.3,721.32 695.8,721.84" fill="#aaaa00"/><polygon points="697.83,661.7 700.29,661.09 700.7,720.67 698.3,721.32" fill="#a8a800"/><polygon points="700.29,661.09 702.63,660.37 703,719.91 700.7,720.67" fill="#a6a600"/><polygon points="702.63,660.37 704.84,659.55 705.17,719.04 703,719.91" fill="#a5a500"/><polygon points="704.84,659.55 706.91,658.63 707.19,718.06 705.17,719.04" fill="#a4a400"/><polygon points="706.91,658.63 708.81,657.63 709.05,717 707.19,718.06" fill="#a4a400"/><polygon points="708.81,657.63 710.53,656.55 710.74,715.85 709.05,717" fill="#a4a400"/><polygon points="710.53,656.55 712.06,655.4 712.24,714.62 710.74,715.85" fill="#a4a400"/><polygon points="712.06,655.4 713.39,654.19 713.54,713.34 712.24,714.62" fill="#a3a300"/><polygon points="713.39,654.19 714.5,652.92 714.63,711.99 713.54,713.34" fill="#a3a300"/><polygon points="714.5,652.92 715.4,651.62 715.51,710.61 714.63,711.99" fill="#a3a300"/><polygon points="715.4,651.62 716.07,650.28 716.16,709.19 715.51,710.61" fill="#a3a300"/><polygon points="716.07,650.28 716.51,648.93 716.59,707.75 716.16,709.19" fill="#a3a300"/><polygon points="716.51,648.93 716.72,647.57 716.8,706.3 716.59,707.75" fill="#a3a300"/><polygon points="708.81,657.63 710.53,656.55 712.06,655.4 713.39,654.19 714.5,652.92 715.4,651.62 716.07,650.28 716.51,648.93 716.72,647.57 716.7,646.2 716.44,644.85 715.96,643.52 715.26,642.22 714.35,640.97 713.23,639.76 711.9,638.61 710.4,637.53 708.71,636.52 706.86,635.59 704.87,634.75 702.74,634.01 700.49,633.36 698.15,632.82 695.72,632.38 693.22,632.05 690.67,631.83 688.09,631.73 685.5,631.74 682.91,631.86 680.35,632.1 677.83,632.44 675.38,632.9 673,633.46 670.71,634.13 668.54,634.89 666.5,635.74 664.6,636.68 662.86,637.71 661.29,638.8 659.9,639.96 658.71,641.18 657.73,642.44 656.95,643.75 656.4,645.08 656.07,646.43 655.97,647.8 656.11,649.16 656.47,650.51 657.07,651.84 657.9,653.14 658.94,654.4 660.2,655.6 661.67,656.74 663.33,657.81 665.18,658.8 667.19,659.7 669.36,660.5 671.67,661.2 674.09,661.79 676.61,662.27 679.22,662.63 681.88,662.86 684.57,662.98 687.28,662.97 689.99,662.83 692.66,662.57 695.28,662.19 697.83,661.7 700.29,661.09 702.63,660.37 704.84,659.55 706.91,658.63" fill="#777700"/>
<polygon points="776.37,670.61 775.13,735.69 775.03,737.26 774.7,738.81 774.13,740.35 773.33,741.84 772.31,743.29 771.06,744.69 769.6,746.01 767.94,747.25 766.09,748.4 764.07,749.45 761.88,750.39 759.56,751.22 757.11,751.92 754.55,752.49 751.91,752.93 749.21,753.22 746.47,753.38 743.71,753.39 740.95,753.26 738.22,752.99 735.54,752.58 732.93,752.03 730.41,751.35 728.01,750.55 725.73,749.62 723.6,748.59 721.64,747.46 719.85,746.23 718.26,744.92 716.88,743.54 715.71,742.1 714.76,740.61 714.04,739.08 713.55,737.53 713.3,735.96 713.28,734.4 713.11,669.39 713.34,667.94 713.8,666.5 714.49,665.1 715.41,663.74 716.55,662.43 717.89,661.18 719.43,660 721.15,658.91 723.05,657.9 725.1,656.98 727.29,656.16 729.61,655.44 732.04,654.84 734.56,654.35 737.15,653.98 739.79,653.72 742.47,653.59 745.17,653.58 747.86,653.69 750.53,653.93 753.16,654.28 755.73,654.75 758.22,655.33 760.61,656.03 762.89,656.83 765.04,657.73 767.05,658.73 768.89,659.81 770.56,660.98 772.03,662.21 773.31,663.51 774.38,664.86 775.22,666.26 775.84,667.69 776.22,669.14" fill="#aaaa00"/><polygon points="713.11,669.39 713.13,670.86 713.3,735.96 713.28,734.4" fill="#000000"/><polygon points="713.13,670.86 713.38,672.33 713.55,737.53 713.3,735.96" fill="#000000"/><polygon points="713.38,672.33 713.88,673.78 714.04,739.08 713.55,737.53" fill="#010100"/><polygon points="713.88,673.78 714.62,675.21 714.76,740.61 714.04,739.08" fill="#050500"/><polygon points="714.62,675.21 715.59,676.61 715.71,742.1 714.76,740.61" fill="#171700"/><polygon points="715.59,676.61 716.79,677.96 716.88,743.54 715.71,742.1" fill="#484800"/><polygon points="716.79,677.96 718.2,679.26 718.26,744.92 716.88,743.54" fill="#565600"/><polygon points="718.2,679.26 719.83,680.49 719.85,746.23 718.26,744.92" fill="#656500"/><polygon points="719.83,680.49 721.66,681.64 721.64,747.46 719.85,746.23" fill="#737300"/><polygon points="721.66,681.64 723.66,682.7 723.6,748.59 721.64,747.46" fill="#7f7f00"/><polygon points="723.66,682.7 725.84,683.67 725.73,749.62 723.6,748.59" fill="#8a8a00"/><polygon points="725.84,683.67 728.17,684.54 728.01,750.55 725.73,749.62" fill="#939300"/><polygon points="728.17,684.54 730.64,685.29 730.41,751.35 728.01,750.55" fill="#9a9a00"/><polygon points="730.64,685.29 733.21,685.93 732.93,752.03 730.41,751.35" fill="#a0a000"/><polygon points="733.21,685.93 735.89,686.44 735.54,752.58 732.93,752.03" fill="#a5a500"/><polygon points="735.89,686.44 738.63,686.83 738.22,752.99 735.54,752.58" fill="#a9a900"/><polygon points="738.63,686.83 741.42,687.09 740.95,753.26 738.22,752.99" fill="#adad00"/><polygon points="741.42,687.09 744.24,687.21 743.71,753.39 740.95,753.26" fill="#b0b000"/><polygon points="744.24,687.21 747.07,687.2 746.47,753.38 743.71,753.39" fill="#b2b200"/><polygon points="747.07,687.2 749.87,687.05 749.21,753.22 746.47,753.38" fill="#b2b200"/><polygon points="749.87,687.05 752.64,686.77 751.91,752.93 749.21,753.22" fill="#b0b000"/><polygon points="752.64,686.77 755.34,686.36 754.55,752.49 751.91,752.93" fill="#adad00"/><polygon points="755.34,686.36 757.95,685.83 757.11,751.92 754.55,752.49" fill="#aaaa00"/><polygon points="757.95,685.83 760.46,685.17 759.56,751.22 757.11,751.92" fill="#a8a800"/><polygon points="760.46,685.17 762.84,684.4 761.88,750.39 759.56,751.22" fill="#a6a600"/><polygon points="762.84,684.4 765.07,683.51 764.07,749.45 761.88,750.39" fill="#a5a500"/><polygon points="765.07,683.51 767.14,682.53 766.09,748.4 764.07,749.45" fill="#a4a400"/><polygon points="767.14,682.53 769.03,681.45 767.94,747.25 766.09,748.4" fill="#a4a400"/><polygon points="769.03,681.45 770.73,680.28 769.6,746.01 767.94,747.25" fill="#a4a400"/><polygon points="770.73,680.28 772.22,679.04 771.06,744.69 769.6,746.01" fill="#a4a400"/><polygon points="772.22,679.04 773.49,677.74 772.31,743.29 771.06,744.69" fill="#a3a300"/><polygon points="773.49,677.74 774.54,676.38 773.33,741.84 772.31,743.29" fill="#a3a300"/><polygon points="774.54,676.38 775.36,674.97 774.13,740.35 773.33,741.84" fill="#a3a300"/><polygon points="775.36,674.97 775.93,673.53 774.7,738.81 774.13,740.35" fill="#a3a300"/><polygon points="775.93,673.53 776.27,672.08 775.03,737.26 774.7,738.81" fill="#a3a300"/><polygon points="776.27,672.08 776.37,670.61 775.13,735.69 775.03,737.26" fill="#a3a300"/><polygon points="769.03,681.45 770.73,680.28 772.22,679.04 773.49,677.74 774.54,676.38 775.36,674.97 775.93,673.53 776.27,672.08 776.37,670.61 776.22,669.14 775.84,667.69 775.22,666.26 774.38,664.86 773.31,663.51 772.03,662.21 770.56,660.98 768.89,659.81 767.05,658.73 765.04,657.73 762.89,656.83 760.61,656.03 758.22,655.33 755.73,654.75 753.16,654.28 750.53,653.93 747.86,653.69 745.17,653.58 742.47,653.59 739.79,653.72 737.15,653.98 734.56,654.35 732.04,654.84 729.61,655.44 727.29,656.16 725.1,656.98 723.05,657.9 721.15,658.91 719.43,660 717.89,661.18 716.55,662.43 715.41,663.74 714.49,665.1 713.8,666.5 713.34,667.94 713.11,669.39 713.13,670.86 713.38,672.33 713.88,673.78 714.62,675.21 715.59,676.61 716.79,677.96 718.2,679.26 719.83,680.49 721.66,681.64 723.66,682.7 725.84,683.67 728.17,684.54 730.64,685.29 733.21,685.93 735.89,686.44 738.63,686.83 741.42,687.09 744.24,687.21 747.07,687.2 749.87,687.05 752.64,686.77 755.34,686.36 757.95,685.83 760.46,685.17 762.84,684.4 765.07,683.51 767.14,682.53" fill="#777700"/>
<polygon points="407.52,448.85 423.51,609.14 423.43,610.23 423.16,611.33 422.68,612.44 422,613.55 421.13,614.65 420.07,615.74 418.83,616.8 417.42,617.82 415.84,618.81 414.12,619.74 412.25,620.62 410.26,621.43 408.16,622.18 405.97,622.84 403.71,623.42 401.39,623.92 399.03,624.32 396.65,624.63 394.27,624.83 391.91,624.94 389.59,624.95 387.32,624.86 385.13,624.67 383.03,624.38 381.04,623.99 379.18,623.51 377.45,622.94 375.88,622.29 374.47,621.56 373.24,620.76 372.19,619.9 371.34,618.97 370.68,617.99 370.23,616.97 369.98,615.92 350.91,454.23 350.9,453.37 351.1,452.5 351.52,451.61 352.15,450.73 352.98,449.85 354.02,448.98 355.23,448.14 356.63,447.31 358.19,446.52 359.91,445.77 361.77,445.06 363.75,444.39 365.85,443.78 368.04,443.23 370.32,442.73 372.65,442.3 375.03,441.93 377.45,441.64 379.87,441.41 382.28,441.26 384.68,441.18 387.03,441.17 389.33,441.24 391.55,441.38 393.68,441.6 395.71,441.88 397.62,442.24 399.39,442.66 401.02,443.14 402.49,443.69 403.79,444.29 404.9,444.95 405.83,445.65 406.56,446.4 407.09,447.19 407.41,448" fill="#00aaaa"/><polygon points="350.91,454.23 351.14,455.08 370.23,616.97 369.98,615.92" fill="#001717"/><polygon points="351.14,455.08 351.59,455.89 370.68,617.99 370.23,616.97" fill="#004848"/><polygon points="351.59,455.89 352.25,456.67 371.34,618.97 370.68,617.99" fill="#005656"/><polygon points="352.25,456.67 353.12,457.41 372.19,619.9 371.34,618.97" fill="#006565"/><polygon points="353.12,457.41 354.2,458.1 373.24,620.76 372.19,619.9" fill="#007373"/><polygon points="354.2,458.1 355.47,458.74 374.47,621.56 373.24,620.76" fill="#007f7f"/><polygon points="355.47,458.74 356.94,459.32 375.88,622.29 374.47,621.56" fill="#008a8a"/><polygon points="356.94,459.32 358.58,459.84 377.45,622.94 375.88,622.29" fill="#009393"/><polygon points="358.58,459.84 360.38,460.29 379.18,623.51 377.45,622.94" fill="#009a9a"/><polygon points="360.38,460.29 362.33,460.67 381.04,623.99 379.18,623.51" fill="#00a0a0"/><polygon points="362.33,460.67 364.42,460.98 383.03,624.38 381.04,623.99" fill="#00a5a5"/><polygon points="364.42,460.98 366.63,461.21 385.13,624.67 383.03,624.38" fill="#00a9a9"/><polygon points="366.63,461.21 368.94,461.37 387.32,624.86 385.13,624.67" fill="#00adad"/><polygon points="368.94,461.37 371.32,461.44 389.59,624.95 387.32,624.86" fill="#00b0b0"/><polygon points="371.32,461.44 373.78,461.43 391.91,624.94 389.59,624.95" fill="#00b2b2"/><polygon points="373.78,461.43 376.27,461.35 394.27,624.83 391.91,624.94" fill="#00b2b2"/><polygon points="376.27,461.35 378.79,461.18 396.65,624.63 394.27,624.83" fill="#00b0b0"/><polygon points="378.79,461.18 381.3,460.94 399.03,624.32 396.65,624.63" fill="#00adad"/><polygon points="381.3,460.94 383.8,460.62 401.39,623.92 399.03,624.32" fill="#00aaaa"/><polygon points="383.8,460.62 386.27,460.22 403.71,623.42 401.39,623.92" fill="#00a8a8"/><polygon points="386.27,460.22 388.67,459.76 405.97,622.84 403.71,623.42" fill="#00a6a6"/><polygon points="388.67,459.76 391,459.23 408.16,622.18 405.97,622.84" fill="#00a5a5"/><polygon points="391,459.23 393.23,458.64 410.26,621.43 408.16,622.18" fill="#00a4a4"/><polygon points="393.23,458.64 395.35,457.99 412.25,620.62 410.26,621.43" fill="#00a4a4"/><polygon points="395.35,457.99 397.34,457.29 414.12,619.74 412.25,620.62" fill="#00a4a4"/><polygon points="397.34,457.29 399.19,456.55 415.84,618.81 414.12,619.74" fill="#00a4a4"/><polygon points="399.19,456.55 400.88,455.76 417.42,617.82 415.84,618.81" fill="#00a3a3"/><polygon points="400.88,455.76 402.39,454.94 418.83,616.8 417.42,617.82" fill="#00a3a3"/><polygon points="402.39,454.94 403.73,454.1 420.07,615.74 418.83,616.8" fill="#00a3a3"/><polygon points="403.73,454.1 404.87,453.23 421.13,614.65 420.07,615.74" fill="#00a3a3"/><polygon points="404.87,453.23 405.82,452.36 422,613.55 421.13,614.65" fill="#00a3a3"/><polygon points="405.82,452.36 406.56,451.47 422.68,612.44 422,613.55" fill="#00a3a3"/><polygon points="406.56,451.47 407.09,450.59 423.16,611.33 422.68,612.44" fill="#00a3a3"/><polygon points="407.09,450.59 407.41,449.71 423.43,610.23 423.16,611.33" fill="#00a2a2"/><polygon points="407.41,449.71 407.52,448.85 423.51,609.14 423.43,610.23" fill="#009e9e"/><polygon points="395.35,457.99 397.34,457.29 399.19,456.55 400.88,455.76 402.39,454.94 403.73,454.1 404.87,453.23 405.82,452.36 406.56,451.47 407.09,450.59 407.41,449.71 407.52,448.85 407.41,448 407.09,447.19 406.56,446.4 405.83,445.65 404.9,444.95 403.79,444.29 402.49,443.69 401.02,443.14 399.39,442.66 397.62,442.24 395.71,441.88 393.68,441.6 391.55,441.38 389.33,441.24 387.03,441.17 384.68,441.18 382.28,441.26 379.87,441.41 377.45,441.64 375.03,441.93 372.65,442.3 370.32,442.73 368.04,443.23 365.85,443.78 363.75,444.39 361.77,445.06 359.91,445.77 358.19,446.52 356.63,447.31 355.23,448.14 354.02,448.98 352.98,449.85 352.15,450.73 351.52,451.61 351.1,452.5 350.9,453.37 350.91,454.23 351.14,455.08 351.59,455.89 352.25,456.67 353.12,457.41 354.2,458.1 355.47,458.74 356.94,459.32 358.58,459.84 360.38,460.29 362.33,460.67 364.42,460.98 366.63,461.21 368.94,461.37 371.32,461.44 373.78,461.43 376.27,461.35 378.79,461.18 381.3,460.94 383.8,460.62 386.27,460.22 388.67,459.76 391,459.23 393.23,458.64" fill="#007777"/>
<polygon points="444.66,406.83 464.14,631.33 464.13,632.49 463.92,633.67 463.5,634.86 462.87,636.04 462.04,637.22 461.01,638.38 459.8,639.52 458.4,640.62 456.83,641.67 455.11,642.67 453.23,643.61 451.23,644.48 449.11,645.27 446.88,645.98 444.58,646.61 442.21,647.13 439.79,647.57 437.35,647.89 434.9,648.12 432.47,648.23 430.06,648.24 427.71,648.14 425.43,647.94 423.24,647.63 421.16,647.22 419.2,646.7 417.38,646.1 415.72,645.4 414.21,644.62 412.89,643.76 411.76,642.83 410.81,641.84 410.08,640.8 409.54,639.71 409.22,638.58 385.31,412.03 385.23,411.2 385.38,410.35 385.76,409.49 386.36,408.64 387.18,407.79 388.2,406.95 389.43,406.14 390.84,405.34 392.43,404.58 394.19,403.85 396.1,403.16 398.14,402.52 400.31,401.93 402.58,401.4 404.94,400.92 407.37,400.5 409.86,400.15 412.38,399.86 414.92,399.65 417.45,399.5 419.97,399.42 422.45,399.42 424.88,399.48 427.23,399.62 429.5,399.83 431.66,400.1 433.7,400.44 435.6,400.85 437.36,401.32 438.95,401.85 440.37,402.43 441.6,403.06 442.63,403.74 443.46,404.46 444.08,405.22 444.48,406.01" fill="#00aaaa"/><polygon points="385.31,412.03 385.61,412.84 409.54,639.71 409.22,638.58" fill="#001717"/><polygon points="385.61,412.84 386.14,413.63 410.08,640.8 409.54,639.71" fill="#004848"/><polygon points="386.14,413.63 386.9,414.38 410.81,641.84 410.08,640.8" fill="#005656"/><polygon points="386.9,414.38 387.87,415.1 411.76,642.83 410.81,641.84" fill="#006565"/><polygon points="387.87,415.1 389.06,415.77 412.89,643.76 411.76,642.83" fill="#007373"/><polygon points="389.06,415.77 390.46,416.38 414.21,644.62 412.89,643.76" fill="#007f7f"/><polygon points="390.46,416.38 392.05,416.95 415.72,645.4 414.21,644.62" fill="#008a8a"/><polygon points="392.05,416.95 393.82,417.45 417.38,646.1 415.72,645.4" fill="#009393"/><polygon points="393.82,417.45 395.76,417.89 419.2,646.7 417.38,646.1" fill="#009a9a"/><polygon points="395.76,417.89 397.85,418.26 421.16,647.22 419.2,646.7" fill="#00a0a0"/><polygon points="397.85,418.26 400.08,418.56 423.24,647.63 421.16,647.22" fill="#00a5a5"/><polygon points="400.08,418.56 402.43,418.78 425.43,647.94 423.24,647.63" fill="#00a9a9"/><polygon points="402.43,418.78 404.88,418.93 427.71,648.14 425.43,647.94" fill="#00adad"/><polygon points="404.88,418.93 407.41,419 430.06,648.24 427.71,648.14" fill="#00b0b0"/><polygon points="407.41,419 410,419 432.47,648.23 430.06,648.24" fill="#00b2b2"/><polygon points="410,419 412.63,418.91 434.9,648.12 432.47,648.23" fill="#00b2b2"/><polygon points="412.63,418.91 415.27,418.75 437.35,647.89 434.9,648.12" fill="#00b0b0"/><polygon points="415.27,418.75 417.92,418.52 439.79,647.57 437.35,647.89" fill="#00adad"/><polygon points="417.92,418.52 420.54,418.21 442.21,647.13 439.79,647.57" fill="#00aaaa"/><polygon points="420.54,418.21 423.11,417.83 444.58,646.61 442.21,647.13" fill="#00a8a8"/><polygon points="423.11,417.83 425.61,417.38 446.88,645.98 444.58,646.61" fill="#00a6a6"/><polygon points="425.61,417.38 428.03,416.86 449.11,645.27 446.88,645.98" fill="#00a5a5"/><polygon points="428.03,416.86 430.35,416.29 451.23,644.48 449.11,645.27" fill="#00a4a4"/><polygon points="430.35,416.29 432.53,415.67 453.23,643.61 451.23,644.48" fill="#00a4a4"/><polygon points="432.53,415.67 434.58,414.99 455.11,642.67 453.23,643.61" fill="#00a4a4"/><polygon points="434.58,414.99 436.47,414.27 456.83,641.67 455.11,642.67" fill="#00a4a4"/><polygon points="436.47,414.27 438.2,413.51 458.4,640.62 456.83,641.67" fill="#00a3a3"/><polygon points="438.2,413.51 439.74,412.72 459.8,639.52 458.4,640.62" fill="#00a3a3"/><polygon points="439.74,412.72 441.08,411.9 461.01,638.38 459.8,639.52" fill="#00a3a3"/><polygon points="441.08,411.9 442.22,411.06 462.04,637.22 461.01,638.38" fill="#00a3a3"/><polygon points="442.22,411.06 443.15,410.22 462.87,636.04 462.04,637.22" fill="#00a3a3"/><polygon points="443.15,410.22 443.86,409.36 463.5,634.86 462.87,636.04" fill="#00a3a3"/><polygon points="443.86,409.36 444.35,408.51 463.92,633.67 463.5,634.86" fill="#00a3a3"/><polygon points="444.35,408.51 444.62,407.66 464.13,632.49 463.92,633.67" fill="#00a2a2"/><polygon points="444.62,407.66 444.66,406.83 464.14,631.33 464.13,632.49" fill="#009e9e"/><polygon points="432.53,415.67 434.58,414.99 436.47,414.27 438.2,413.51 439.74,412.72 441.08,411.9 442.22,411.06 443.15,410.22 443.86,409.36 444.35,408.51 444.62,407.66 444.66,406.83 444.48,406.01 444.08,405.22 443.46,404.46 442.63,403.74 441.6,403.06 440.37,402.43 438.95,401.85 437.36,401.32 435.6,400.85 433.7,400.44 431.66,400.1 429.5,399.83 427.23,399.62 424.88,399.48 422.45,399.42 419.97,399.42 417.45,399.5 414.92,399.65 412.38,399.86 409.86,400.15 407.37,400.5 404.94,400.92 402.58,401.4 400.31,401.93 398.14,402.52 396.1,403.16 394.19,403.85 392.43,404.58 390.84,405.34 389.43,406.14 388.2,406.95 387.18,407.79 386.36,408.64 385.76,409.49 385.38,410.35 385.23,411.2 385.31,412.03 385.61,412.84 386.14,413.63 386.9,414.38 387.87,415.1 389.06,415.77 390.46,416.38 392.05,416.95 393.82,417.45 395.76,417.89 397.85,418.26 400.08,418.56 402.43,418.78 404.88,418.93 407.41,419 410,419 412.63,418.91 415.27,418.75 417.92,418.52 420.54,418.21 423.11,417.83 425.61,417.38 428.03,416.86 430.35,416.29" fill="#007777"/>
<polygon points="503.39,599.61 503.67,600.75 507.62,655.07 507.69,656.32 507.55,657.58 507.19,658.85 506.62,660.12 505.84,661.39 504.85,662.63 503.67,663.85 502.3,665.03 500.74,666.15 499.02,667.23 497.14,668.23 495.12,669.17 492.98,670.02 490.72,670.78 488.37,671.45 485.95,672.02 483.48,672.48 480.97,672.83 478.45,673.07 475.93,673.2 473.45,673.21 471.01,673.1 468.63,672.88 466.34,672.55 464.16,672.11 462.1,671.56 460.17,670.9 458.4,670.16 456.8,669.32 455.37,668.4 454.14,667.4 453.1,666.34 452.27,665.22 451.65,664.05 451.24,662.84 451.05,661.6 446.01,606.88 446.05,605.69 446.31,604.5 446.79,603.3 447.48,602.11 448.37,600.94 449.47,599.8 450.75,598.69 452.21,597.62 453.84,596.6 455.62,595.64 457.54,594.74 459.59,593.91 461.74,593.16 463.99,592.49 466.32,591.91 468.71,591.41 471.14,591.01 473.6,590.71 476.07,590.5 478.53,590.39 480.96,590.38 483.34,590.48 485.67,590.67 487.92,590.96 490.07,591.34 492.11,591.82 494.03,592.39 495.81,593.05 497.44,593.78 498.9,594.6 500.19,595.48 501.29,596.44 502.19,597.44 502.9,598.51" fill="#00aaaa"/><polygon points="446.01,606.88 446.2,608.05 451.24,662.84 451.05,661.6" fill="#000505"/><polygon points="446.2,608.05 446.6,609.18 451.65,664.05 451.24,662.84" fill="#001717"/><polygon points="446.6,609.18 447.22,610.28 452.27,665.22 451.65,664.05" fill="#004848"/><polygon points="447.22,610.28 448.06,611.34 453.1,666.34 452.27,665.22" fill="#005656"/><polygon points="448.06,611.34 449.11,612.34 454.14,667.4 453.1,666.34" fill="#006565"/><polygon points="449.11,612.34 450.36,613.27 455.37,668.4 454.14,667.4" fill="#007373"/><polygon points="450.36,613.27 451.81,614.14 456.8,669.32 455.37,668.4" fill="#007f7f"/><polygon points="451.81,614.14 453.44,614.92 458.4,670.16 456.8,669.32" fill="#008a8a"/><polygon points="453.44,614.92 455.24,615.63 460.17,670.9 458.4,670.16" fill="#009393"/><polygon points="455.24,615.63 457.19,616.24 462.1,671.56 460.17,670.9" fill="#009a9a"/><polygon points="457.19,616.24 459.29,616.76 464.16,672.11 462.1,671.56" fill="#00a0a0"/><polygon points="459.29,616.76 461.51,617.17 466.34,672.55 464.16,672.11" fill="#00a5a5"/><polygon points="461.51,617.17 463.84,617.49 468.63,672.88 466.34,672.55" fill="#00a9a9"/><polygon points="463.84,617.49 466.26,617.69 471.01,673.1 468.63,672.88" fill="#00adad"/><polygon points="466.26,617.69 468.75,617.79 473.45,673.21 471.01,673.1" fill="#00b0b0"/><polygon points="468.75,617.79 471.28,617.78 475.93,673.2 473.45,673.21" fill="#00b2b2"/><polygon points="471.28,617.78 473.85,617.67 478.45,673.07 475.93,673.2" fill="#00b2b2"/><polygon points="473.85,617.67 476.42,617.44 480.97,672.83 478.45,673.07" fill="#00b0b0"/><polygon points="476.42,617.44 478.98,617.11 483.48,672.48 480.97,672.83" fill="#00adad"/><polygon points="478.98,617.11 481.5,616.68 485.95,672.02 483.48,672.48" fill="#00aaaa"/><polygon points="481.5,616.68 483.97,616.14 488.37,671.45 485.95,672.02" fill="#00a8a8"/><polygon points="483.97,616.14 486.37,615.51 490.72,670.78 488.37,671.45" fill="#00a6a6"/><polygon points="486.37,615.51 488.67,614.8 492.98,670.02 490.72,670.78" fill="#00a5a5"/><polygon points="488.67,614.8 490.86,614 495.12,669.17 492.98,670.02" fill="#00a4a4"/><polygon points="490.86,614 492.92,613.12 497.14,668.23 495.12,669.17" fill="#00a4a4"/><polygon points="492.92,613.12 494.84,612.17 499.02,667.23 497.14,668.23" fill="#00a4a4"/><polygon points="494.84,612.17 496.6,611.16 500.74,666.15 499.02,667.23" fill="#00a4a4"/><polygon points="496.6,611.16 498.19,610.1 502.3,665.03 500.74,666.15" fill="#00a3a3"/><polygon points="498.19,610.1 499.6,608.99 503.67,663.85 502.3,665.03" fill="#00a3a3"/><polygon points="499.6,608.99 500.81,607.85 504.85,662.63 503.67,663.85" fill="#00a3a3"/><polygon points="500.81,607.85 501.82,606.68 505.84,661.39 504.85,662.63" fill="#00a3a3"/><polygon points="501.82,606.68 502.62,605.49 506.62,660.12 505.84,661.39" fill="#00a3a3"/><polygon points="502.62,605.49 503.21,604.3 507.19,658.85 506.62,660.12" fill="#00a3a3"/><polygon points="503.21,604.3 503.59,603.1 507.55,657.58 507.19,658.85" fill="#00a3a3"/><polygon points="503.59,603.1 503.74,601.92 507.69,656.32 507.55,657.58" fill="#00a2a2"/><polygon points="503.74,601.92 503.67,600.75 507.62,655.07 507.69,656.32" fill="#009e9e"/><polygon points="492.92,613.12 494.84,612.17 496.6,611.16 498.19,610.1 499.6,608.99 500.81,607.85 501.82,606.68 502.62,605.49 503.21,604.3 503.59,603.1 503.74,601.92 503.67,600.75 503.39,599.61 502.9,598.51 502.19,597.44 501.29,596.44 500.19,595.48 498.9,594.6 497.44,593.78 495.81,593.05 494.03,592.39 492.11,591.82 490.07,591.34 487.92,590.96 485.67,590.67 483.34,590.48 480.96,590.38 478.53,590.39 476.07,590.5 473.6,590.71 471.14,591.01 468.71,591.41 466.32,591.91 463.99,592.49 461.74,593.16 459.59,593.91 457.54,594.74 455.62,595.64 453.84,596.6 452.21,597.62 450.75,598.69 449.47,599.8 448.37,600.94 447.48,602.11 446.79,603.3 446.31,604.5 446.05,605.69 446.01,606.88 446.2,608.05 446.6,609.18 447.22,610.28 448.06,611.34 449.11,612.34 450.36,613.27 451.81,614.14 453.44,614.92 455.24,615.63 457.19,616.24 459.29,616.76 461.51,617.17 463.84,617.49 466.26,617.69 468.75,617.79 471.28,617.78 473.85,617.67 476.42,617.44 478.98,617.11 481.5,616.68 483.97,616.14 486.37,615.51 488.67,614.8 490.86,614" fill="#007777"/>
<polygon points="496.35,688.89 496.07,687.55 477.53,448.06 477.51,447.07 477.73,446.08 478.19,445.08 478.89,444.09 479.81,443.12 480.95,442.17 482.3,441.24 483.85,440.35 485.58,439.51 487.49,438.71 489.55,437.96 491.76,437.28 494.09,436.65 496.52,436.1 499.05,435.61 501.65,435.2 504.3,434.87 506.98,434.62 509.68,434.45 512.38,434.36 515.05,434.35 517.67,434.43 520.24,434.59 522.73,434.83 525.11,435.15 527.39,435.54 529.53,436.02 531.53,436.56 533.36,437.17 535.02,437.85 536.49,438.59 537.76,439.38 538.82,440.22 539.66,441.1 540.28,442.02 540.66,442.97 540.8,443.94 554.42,681.87 554.35,683.23 554.07,684.6 553.57,685.96 552.84,687.32 551.91,688.66 550.77,689.97 549.42,691.23 547.89,692.45 546.18,693.6 544.3,694.68 542.27,695.69 540.1,696.6 537.81,697.42 535.43,698.14 532.95,698.75 530.42,699.25 527.84,699.63 525.24,699.89 522.64,700.02 520.06,700.03 517.52,699.92 515.05,699.68 512.65,699.32 510.36,698.85 508.18,698.26 506.14,697.56 504.25,696.75 502.54,695.85 501,694.86 499.65,693.79 498.5,692.65 497.57,691.44 496.85,690.19" fill="#00aaaa"/><polygon points="477.53,448.06 477.79,449.03 496.35,688.89 496.07,687.55" fill="#000505"/><polygon points="477.79,449.03 478.29,449.98 496.85,690.19 496.35,688.89" fill="#001717"/><polygon points="478.29,449.98 479.04,450.9 497.57,691.44 496.85,690.19" fill="#004848"/><polygon points="479.04,450.9 480.02,451.78 498.5,692.65 497.57,691.44" fill="#005656"/><polygon points="480.02,451.78 481.23,452.61 499.65,693.79 498.5,692.65" fill="#006565"/><polygon points="481.23,452.61 482.66,453.39 501,694.86 499.65,693.79" fill="#007373"/><polygon points="482.66,453.39 484.3,454.12 502.54,695.85 501,694.86" fill="#007f7f"/><polygon points="484.3,454.12 486.14,454.78 504.25,696.75 502.54,695.85" fill="#008a8a"/><polygon points="486.14,454.78 488.17,455.36 506.14,697.56 504.25,696.75" fill="#009393"/><polygon points="488.17,455.36 490.36,455.88 508.18,698.26 506.14,697.56" fill="#009a9a"/><polygon points="490.36,455.88 492.7,456.31 510.36,698.85 508.18,698.26" fill="#00a0a0"/><polygon points="492.7,456.31 495.18,456.66 512.65,699.32 510.36,698.85" fill="#00a5a5"/><polygon points="495.18,456.66 497.76,456.92 515.05,699.68 512.65,699.32" fill="#00a9a9"/><polygon points="497.76,456.92 500.44,457.09 517.52,699.92 515.05,699.68" fill="#00adad"/><polygon points="500.44,457.09 503.19,457.18 520.06,700.03 517.52,699.92" fill="#00b0b0"/><polygon points="503.19,457.18 505.99,457.17 522.64,700.02 520.06,700.03" fill="#00b2b2"/><polygon points="505.99,457.17 508.81,457.07 525.24,699.89 522.64,700.02" fill="#00b2b2"/><polygon points="508.81,457.07 511.64,456.88 527.84,699.63 525.24,699.89" fill="#00b0b0"/><polygon points="511.64,456.88 514.44,456.61 530.42,699.25 527.84,699.63" fill="#00adad"/><polygon points="514.44,456.61 517.2,456.25 532.95,698.75 530.42,699.25" fill="#00aaaa"/><polygon points="517.2,456.25 519.89,455.8 535.43,698.14 532.95,698.75" fill="#00a8a8"/><polygon points="519.89,455.8 522.5,455.28 537.81,697.42 535.43,698.14" fill="#00a6a6"/><polygon points="522.5,455.28 524.99,454.68 540.1,696.6 537.81,697.42" fill="#00a5a5"/><polygon points="524.99,454.68 527.36,454.01 542.27,695.69 540.1,696.6" fill="#00a4a4"/><polygon points="527.36,454.01 529.58,453.27 544.3,694.68 542.27,695.69" fill="#00a4a4"/><polygon points="529.58,453.27 531.64,452.48 546.18,693.6 544.3,694.68" fill="#00a4a4"/><polygon points="531.64,452.48 533.52,451.64 547.89,692.45 546.18,693.6" fill="#00a4a4"/><polygon points="533.52,451.64 535.2,450.76 549.42,691.23 547.89,692.45" fill="#00a3a3"/><polygon points="535.2,450.76 536.68,449.83 550.77,689.97 549.42,691.23" fill="#00a3a3"/><polygon points="536.68,449.83 537.95,448.88 551.91,688.66 550.77,689.97" fill="#00a3a3"/><polygon points="537.95,448.88 538.99,447.91 552.84,687.32 551.91,688.66" fill="#00a3a3"/><polygon points="538.99,447.91 539.8,446.92 553.57,685.96 552.84,687.32" fill="#00a3a3"/><polygon points="539.8,446.92 540.37,445.92 554.07,684.6 553.57,685.96" fill="#00a3a3"/><polygon points="540.37,445.92 540.71,444.92 554.35,683.23 554.07,684.6" fill="#00a3a3"/><polygon points="540.71,444.92 540.8,443.94 554.42,681.87 554.35,683.23" fill="#00a2a2"/><polygon points="529.58,453.27 531.64,452.48 533.52,451.64 535.2,450.76 536.68,449.83 537.95,448.88 538.99,447.91 539.8,446.92 540.37,445.92 540.71,444.92 540.8,443.94 540.66,442.97 540.28,442.02 539.66,441.1 538.82,440.22 537.76,439.38 536.49,438.59 535.02,437.85 533.36,437.17 531.53,436.56 529.53,436.02 527.39,435.54 525.11,435.15 522.73,434.83 520.24,434.59 517.67,434.43 515.05,434.35 512.38,434.36 509.68,434.45 506.98,434.62 504.3,434.87 501.65,435.2 499.05,435.61 496.52,436.1 494.09,436.65 491.76,437.28 489.55,437.96 487.49,438.71 485.58,439.51 483.85,440.35 482.3,441.24 480.95,442.17 479.81,443.12 478.89,444.09 478.19,445.08 477.73,446.08 477.51,447.07 477.53,448.06 477.79,449.03 478.29,449.98 479.04,450.9 480.02,451.78 481.23,452.61 482.66,453.39 484.3,454.12 486.14,454.78 488.17,455.36 490.36,455.88 492.7,456.31 495.18,456.66 497.76,456.92 500.44,457.09 503.19,457.18 505.99,457.17 508.81,457.07 511.64,456.88 514.44,456.61 517.2,456.25 519.89,455.8 522.5,455.28 524.99,454.68 527.36,454.01" fill="#007777"/>
<polygon points="544.36,714.02 540.82,656.2 540.91,654.81 541.24,653.42 541.79,652.05 542.57,650.69 543.57,649.36 544.77,648.07 546.18,646.83 547.77,645.65 549.53,644.54 551.46,643.5 553.53,642.54 555.73,641.67 558.05,640.9 560.46,640.22 562.95,639.65 565.5,639.19 568.1,638.83 570.72,638.59 573.34,638.47 575.96,638.46 578.54,638.56 581.07,638.78 583.53,639.12 585.91,639.56 588.19,640.12 590.34,640.78 592.36,641.53 594.23,642.39 595.94,643.33 597.47,644.36 598.81,645.46 599.95,646.63 600.88,647.86 601.59,649.14 602.08,650.46 602.34,651.81 604.66,709.36 604.7,710.82 604.5,712.29 604.08,713.77 603.42,715.23 602.55,716.67 601.46,718.08 600.15,719.44 598.65,720.75 596.95,722 595.08,723.16 593.04,724.25 590.86,725.23 588.54,726.12 586.11,726.9 583.59,727.55 580.99,728.09 578.34,728.5 575.66,728.78 572.96,728.92 570.29,728.94 567.64,728.81 565.05,728.56 562.54,728.17 560.12,727.66 557.82,727.02 555.65,726.26 553.64,725.4 551.79,724.42 550.13,723.36 548.65,722.2 547.39,720.97 546.33,719.67 545.5,718.32 544.89,716.92 544.51,715.48" fill="#00aaaa"/><polygon points="540.82,656.2 540.96,657.58 544.51,715.48 544.36,714.02" fill="#000101"/><polygon points="540.96,657.58 541.34,658.93 544.89,716.92 544.51,715.48" fill="#000505"/><polygon points="541.34,658.93 541.95,660.25 545.5,718.32 544.89,716.92" fill="#001717"/><polygon points="541.95,660.25 542.8,661.53 546.33,719.67 545.5,718.32" fill="#004848"/><polygon points="542.8,661.53 543.87,662.75 547.39,720.97 546.33,719.67" fill="#005656"/><polygon points="543.87,662.75 545.15,663.92 548.65,722.2 547.39,720.97" fill="#006565"/><polygon points="545.15,663.92 546.65,665 550.13,723.36 548.65,722.2" fill="#007373"/><polygon points="546.65,665 548.35,666.01 551.79,724.42 550.13,723.36" fill="#007f7f"/><polygon points="548.35,666.01 550.23,666.93 553.64,725.4 551.79,724.42" fill="#008a8a"/><polygon points="550.23,666.93 552.28,667.74 555.65,726.26 553.64,725.4" fill="#009393"/><polygon points="552.28,667.74 554.49,668.46 557.82,727.02 555.65,726.26" fill="#009a9a"/><polygon points="554.49,668.46 556.83,669.06 560.12,727.66 557.82,727.02" fill="#00a0a0"/><polygon points="556.83,669.06 559.3,669.54 562.54,728.17 560.12,727.66" fill="#00a5a5"/><polygon points="559.3,669.54 561.86,669.91 565.05,728.56 562.54,728.17" fill="#00a9a9"/><polygon points="561.86,669.91 564.5,670.15 567.64,728.81 565.05,728.56" fill="#00adad"/><polygon points="564.5,670.15 567.2,670.27 570.29,728.94 567.64,728.81" fill="#00b0b0"/><polygon points="567.2,670.27 569.93,670.26 572.96,728.92 570.29,728.94" fill="#00b2b2"/><polygon points="569.93,670.26 572.68,670.12 575.66,728.78 572.96,728.92" fill="#00b2b2"/><polygon points="572.68,670.12 575.42,669.86 578.34,728.5 575.66,728.78" fill="#00b0b0"/><polygon points="575.42,669.86 578.12,669.47 580.99,728.09 578.34,728.5" fill="#00adad"/><polygon points="578.12,669.47 580.78,668.96 583.59,727.55 580.99,728.09" fill="#00aaaa"/><polygon points="580.78,668.96 583.35,668.34 586.11,726.9 583.59,727.55" fill="#00a8a8"/><polygon points="583.35,668.34 585.84,667.61 588.54,726.12 586.11,726.9" fill="#00a6a6"/><polygon points="585.84,667.61 588.2,666.78 590.86,725.23 588.54,726.12" fill="#00a5a5"/><polygon points="588.2,666.78 590.44,665.84 593.04,724.25 590.86,725.23" fill="#00a4a4"/><polygon points="590.44,665.84 592.52,664.82 595.08,723.16 593.04,724.25" fill="#00a4a4"/><polygon points="592.52,664.82 594.44,663.72 596.95,722 595.08,723.16" fill="#00a4a4"/><polygon points="594.44,663.72 596.17,662.55 598.65,720.75 596.95,722" fill="#00a4a4"/><polygon points="596.17,662.55 597.71,661.32 600.15,719.44 598.65,720.75" fill="#00a3a3"/><polygon points="597.71,661.32 599.04,660.03 601.46,718.08 600.15,719.44" fill="#00a3a3"/><polygon points="599.04,660.03 600.16,658.7 602.55,716.67 601.46,718.08" fill="#00a3a3"/><polygon points="600.16,658.7 601.06,657.34 603.42,715.23 602.55,716.67" fill="#00a3a3"/><polygon points="601.06,657.34 601.73,655.96 604.08,713.77 603.42,715.23" fill="#00a3a3"/><polygon points="601.73,655.96 602.17,654.58 604.5,712.29 604.08,713.77" fill="#00a3a3"/><polygon points="602.17,654.58 602.37,653.19 604.7,710.82 604.5,712.29" fill="#00a3a3"/><polygon points="602.37,653.19 602.34,651.81 604.66,709.36 604.7,710.82" fill="#00a2a2"/><polygon points="592.52,664.82 594.44,663.72 596.17,662.55 597.71,661.32 599.04,660.03 600.16,658.7 601.06,657.34 601.73,655.96 602.17,654.58 602.37,653.19 602.34,651.81 602.08,650.46 601.59,649.14 600.88,647.86 599.95,646.63 598.81,645.46 597.47,644.36 595.94,643.33 594.23,642.39 592.36,641.53 590.34,640.78 588.19,640.12 585.91,639.56 583.53,639.12 581.07,638.78 578.54,638.56 575.96,638.46 573.34,638.47 570.72,638.59 568.1,638.83 565.5,639.19 562.95,639.65 560.46,640.22 558.05,640.9 555.73,641.67 553.53,642.54 551.46,643.5 549.53,644.54 547.77,645.65 546.18,646.83 544.77,648.07 543.57,649.36 542.57,650.69 541.79,652.05 541.24,653.42 540.91,654.81 540.82,656.2 540.96,657.58 541.34,658.93 541.95,660.25 542.8,661.53 543.87,662.75 545.15,663.92 546.65,665 548.35,666.01 550.23,666.93 552.28,667.74 554.49,668.46 556.83,669.06 559.3,669.54 561.86,669.91 564.5,670.15 567.2,670.27 569.93,670.26 572.68,670.12 575.42,669.86 578.12,669.47 580.78,668.96 583.35,668.34 585.84,667.61 588.2,666.78 590.44,665.84" fill="#007777"/>
<polygon points="651.97,416.8 659,740.58 658.9,742.17 658.57,743.76 658,745.34 657.2,746.9 656.17,748.42 654.91,749.9 653.45,751.31 651.78,752.66 649.91,753.92 647.88,755.09 645.68,756.16 643.33,757.12 640.86,757.96 638.29,758.67 635.62,759.25 632.9,759.69 630.13,759.99 627.34,760.15 624.55,760.16 621.79,760.03 619.08,759.76 616.44,759.34 613.89,758.78 611.45,758.09 609.14,757.27 606.98,756.33 604.99,755.28 603.18,754.13 601.57,752.88 600.16,751.55 598.97,750.15 598.01,748.68 597.28,747.16 596.78,745.61 596.52,744.03 582.33,419.05 582.34,418 582.62,416.96 583.16,415.93 583.95,414.91 584.99,413.91 586.27,412.95 587.78,412.02 589.5,411.13 591.42,410.3 593.53,409.52 595.81,408.81 598.24,408.16 600.81,407.58 603.49,407.07 606.27,406.65 609.13,406.3 612.04,406.04 614.99,405.86 617.95,405.77 620.9,405.76 623.83,405.84 626.71,406 629.52,406.26 632.25,406.59 634.86,407 637.36,407.5 639.7,408.06 641.89,408.7 643.89,409.41 645.71,410.18 647.31,411 648.7,411.88 649.85,412.8 650.76,413.76 651.42,414.75 651.83,415.77" fill="#00aaaa"/><polygon points="582.33,419.05 582.58,420.08 596.78,745.61 596.52,744.03" fill="#000101"/><polygon points="582.58,420.08 583.11,421.1 597.28,747.16 596.78,745.61" fill="#000505"/><polygon points="583.11,421.1 583.89,422.09 598.01,748.68 597.28,747.16" fill="#001717"/><polygon points="583.89,422.09 584.94,423.06 598.97,750.15 598.01,748.68" fill="#004848"/><polygon points="584.94,423.06 586.24,423.98 600.16,751.55 598.97,750.15" fill="#005656"/><polygon points="586.24,423.98 587.78,424.86 601.57,752.88 600.16,751.55" fill="#006565"/><polygon points="587.78,424.86 589.56,425.68 603.18,754.13 601.57,752.88" fill="#007373"/><polygon points="589.56,425.68 591.56,426.44 604.99,755.28 603.18,754.13" fill="#007f7f"/><polygon points="591.56,426.44 593.76,427.13 606.98,756.33 604.99,755.28" fill="#008a8a"/><polygon points="593.76,427.13 596.15,427.75 609.14,757.27 606.98,756.33" fill="#009393"/><polygon points="596.15,427.75 598.71,428.29 611.45,758.09 609.14,757.27" fill="#009a9a"/><polygon points="598.71,428.29 601.42,428.74 613.89,758.78 611.45,758.09" fill="#00a0a0"/><polygon points="601.42,428.74 604.26,429.11 616.44,759.34 613.89,758.78" fill="#00a5a5"/><polygon points="604.26,429.11 607.2,429.39 619.08,759.76 616.44,759.34" fill="#00a9a9"/><polygon points="607.2,429.39 610.23,429.57 621.79,760.03 619.08,759.76" fill="#00adad"/><polygon points="610.23,429.57 613.31,429.66 624.55,760.16 621.79,760.03" fill="#00b0b0"/><polygon points="613.31,429.66 616.42,429.65 627.34,760.15 624.55,760.16" fill="#00b2b2"/><polygon points="616.42,429.65 619.54,429.55 630.13,759.99 627.34,760.15" fill="#00b2b2"/><polygon points="619.54,429.55 622.63,429.35 632.9,759.69 630.13,759.99" fill="#00b0b0"/><polygon points="622.63,429.35 625.69,429.06 635.62,759.25 632.9,759.69" fill="#00adad"/><polygon points="625.69,429.06 628.67,428.68 638.29,758.67 635.62,759.25" fill="#00aaaa"/><polygon points="628.67,428.68 631.55,428.21 640.86,757.96 638.29,758.67" fill="#00a8a8"/><polygon points="631.55,428.21 634.32,427.66 643.33,757.12 640.86,757.96" fill="#00a6a6"/><polygon points="634.32,427.66 636.95,427.03 645.68,756.16 643.33,757.12" fill="#00a5a5"/><polygon points="636.95,427.03 639.42,426.32 647.88,755.09 645.68,756.16" fill="#00a4a4"/><polygon points="639.42,426.32 641.7,425.55 649.91,753.92 647.88,755.09" fill="#00a4a4"/><polygon points="641.7,425.55 643.8,424.72 651.78,752.66 649.91,753.92" fill="#00a4a4"/><polygon points="643.8,424.72 645.67,423.84 653.45,751.31 651.78,752.66" fill="#00a4a4"/><polygon points="645.67,423.84 647.33,422.91 654.91,749.9 653.45,751.31" fill="#00a3a3"/><polygon points="647.33,422.91 648.74,421.94 656.17,748.42 654.91,749.9" fill="#00a3a3"/><polygon points="648.74,421.94 649.9,420.94 657.2,746.9 656.17,748.42" fill="#00a3a3"/><polygon points="649.9,420.94 650.81,419.92 658,745.34 657.2,746.9" fill="#00a3a3"/><polygon points="650.81,419.92 651.46,418.88 658.57,743.76 658,745.34" fill="#00a3a3"/><polygon points="651.46,418.88 651.85,417.84 658.9,742.17 658.57,743.76" fill="#00a3a3"/><polygon points="651.85,417.84 651.97,416.8 659,740.58 658.9,742.17" fill="#00a3a3"/><polygon points="641.7,425.55 643.8,424.72 645.67,423.84 647.33,422.91 648.74,421.94 649.9,420.94 650.81,419.92 651.46,418.88 651.85,417.84 651.97,416.8 651.83,415.77 651.42,414.75 650.76,413.76 649.85,412.8 648.7,411.88 647.31,411 645.71,410.18 643.89,409.41 641.89,408.7 639.7,408.06 637.36,407.5 634.86,407 632.25,406.59 629.52,406.26 626.71,406 623.83,405.84 620.9,405.76 617.95,405.77 614.99,405.86 612.04,406.04 609.13,406.3 606.27,406.65 603.49,407.07 600.81,407.58 598.24,408.16 595.81,408.81 593.53,409.52 591.42,410.3 589.5,411.13 587.78,412.02 586.27,412.95 584.99,413.91 583.95,414.91 583.16,415.93 582.62,416.96 582.34,418 582.33,419.05 582.58,420.08 583.11,421.1 583.89,422.09 584.94,423.06 586.24,423.98 587.78,424.86 589.56,425.68 591.56,426.44 593.76,427.13 596.15,427.75 598.71,428.29 601.42,428.74 604.26,429.11 607.2,429.39 610.23,429.57 613.31,429.66 616.42,429.65 619.54,429.55 622.63,429.35 625.69,429.06 628.67,428.68 631.55,428.21 634.32,427.66 636.95,427.03 639.42,426.32" fill="#007777"/>
<polygon points="652.83,774.79 650.91,695.14 651.03,693.54 651.4,691.95 652.01,690.38 652.87,688.85 653.97,687.37 655.28,685.94 656.81,684.59 658.55,683.3 660.46,682.11 662.55,681.01 664.8,680.01 667.19,679.12 669.7,678.34 672.31,677.68 675.01,677.15 677.77,676.74 680.58,676.47 683.41,676.32 686.26,676.31 689.08,676.43 691.88,676.69 694.62,677.07 697.28,677.58 699.86,678.22 702.32,678.97 704.66,679.85 706.85,680.83 708.87,681.91 710.72,683.09 712.38,684.36 713.83,685.71 715.06,687.12 716.07,688.6 716.84,690.12 717.37,691.68 717.65,693.26 717.67,694.86 717.76,774.49 717.54,776.22 717.07,777.93 716.35,779.62 715.4,781.27 714.21,782.87 712.79,784.4 711.15,785.86 709.31,787.23 707.28,788.51 705.07,789.67 702.7,790.71 700.2,791.62 697.57,792.39 694.84,793.02 692.03,793.5 689.17,793.83 686.27,794 683.37,794.01 680.49,793.87 677.64,793.57 674.86,793.11 672.16,792.51 669.56,791.76 667.1,790.87 664.78,789.86 662.63,788.72 660.66,787.46 658.88,786.11 657.32,784.67 655.97,783.14 654.86,781.55 653.98,779.91 653.35,778.23 652.97,776.52" fill="#00aaaa"/><polygon points="650.91,695.14 651.04,696.74 652.97,776.52 652.83,774.79" fill="#000000"/><polygon points="651.04,696.74 651.44,698.33 653.35,778.23 652.97,776.52" fill="#000101"/><polygon points="651.44,698.33 652.08,699.89 653.98,779.91 653.35,778.23" fill="#000505"/><polygon points="652.08,699.89 652.98,701.42 654.86,781.55 653.98,779.91" fill="#001717"/><polygon points="652.98,701.42 654.12,702.89 655.97,783.14 654.86,781.55" fill="#004848"/><polygon points="654.12,702.89 655.5,704.31 657.32,784.67 655.97,783.14" fill="#005656"/><polygon points="655.5,704.31 657.1,705.65 658.88,786.11 657.32,784.67" fill="#006565"/><polygon points="657.1,705.65 658.93,706.91 660.66,787.46 658.88,786.11" fill="#007373"/><polygon points="658.93,706.91 660.95,708.07 662.63,788.72 660.66,787.46" fill="#007f7f"/><polygon points="660.95,708.07 663.16,709.13 664.78,789.86 662.63,788.72" fill="#008a8a"/><polygon points="663.16,709.13 665.55,710.08 667.1,790.87 664.78,789.86" fill="#009393"/><polygon points="665.55,710.08 668.08,710.9 669.56,791.76 667.1,790.87" fill="#009a9a"/><polygon points="668.08,710.9 670.75,711.6 672.16,792.51 669.56,791.76" fill="#00a0a0"/><polygon points="670.75,711.6 673.53,712.16 674.86,793.11 672.16,792.51" fill="#00a5a5"/><polygon points="673.53,712.16 676.39,712.58 677.64,793.57 674.86,793.11" fill="#00a9a9"/><polygon points="676.39,712.58 679.32,712.86 680.49,793.87 677.64,793.57" fill="#00adad"/><polygon points="679.32,712.86 682.29,713 683.37,794.01 680.49,793.87" fill="#00b0b0"/><polygon points="682.29,713 685.27,712.99 686.27,794 683.37,794.01" fill="#00b2b2"/><polygon points="685.27,712.99 688.25,712.83 689.17,793.83 686.27,794" fill="#00b2b2"/><polygon points="688.25,712.83 691.2,712.52 692.03,793.5 689.17,793.83" fill="#00b0b0"/><polygon points="691.2,712.52 694.09,712.08 694.84,793.02 692.03,793.5" fill="#00adad"/><polygon points="694.09,712.08 696.89,711.49 697.57,792.39 694.84,793.02" fill="#00aaaa"/><polygon points="696.89,711.49 699.6,710.77 700.2,791.62 697.57,792.39" fill="#00a8a8"/><polygon points="699.6,710.77 702.18,709.92 702.7,790.71 700.2,791.62" fill="#00a6a6"/><polygon points="702.18,709.92 704.62,708.96 705.07,789.67 702.7,790.71" fill="#00a5a5"/><polygon points="704.62,708.96 706.89,707.88 707.28,788.51 705.07,789.67" fill="#00a4a4"/><polygon points="706.89,707.88 708.98,706.7 709.31,787.23 707.28,788.51" fill="#00a4a4"/><polygon points="708.98,706.7 710.88,705.43 711.15,785.86 709.31,787.23" fill="#00a4a4"/><polygon points="710.88,705.43 712.56,704.07 712.79,784.4 711.15,785.86" fill="#00a4a4"/><polygon points="712.56,704.07 714.02,702.64 714.21,782.87 712.79,784.4" fill="#00a3a3"/><polygon points="714.02,702.64 715.24,701.16 715.4,781.27 714.21,782.87" fill="#00a3a3"/><polygon points="715.24,701.16 716.23,699.62 716.35,779.62 715.4,781.27" fill="#00a3a3"/><polygon points="716.23,699.62 716.96,698.06 717.07,777.93 716.35,779.62" fill="#00a3a3"/><polygon points="716.96,698.06 717.45,696.47 717.54,776.22 717.07,777.93" fill="#00a3a3"/><polygon points="717.45,696.47 717.67,694.86 717.76,774.49 717.54,776.22" fill="#00a3a3"/><polygon points="708.98,706.7 710.88,705.43 712.56,704.07 714.02,702.64 715.24,701.16 716.23,699.62 716.96,698.06 717.45,696.47 717.67,694.86 717.65,693.26 717.37,691.68 716.84,690.12 716.07,688.6 715.06,687.12 713.83,685.71 712.38,684.36 710.72,683.09 708.87,681.91 706.85,680.83 704.66,679.85 702.32,678.97 699.86,678.22 697.28,677.58 694.62,677.07 691.88,676.69 689.08,676.43 686.26,676.31 683.41,676.32 680.58,676.47 677.77,676.74 675.01,677.15 672.31,677.68 669.7,678.34 667.19,679.12 664.8,680.01 662.55,681.01 660.46,682.11 658.55,683.3 656.81,684.59 655.28,685.94 653.97,687.37 652.87,688.85 652.01,690.38 651.4,691.95 651.03,693.54 650.91,695.14 651.04,696.74 651.44,698.33 652.08,699.89 652.98,701.42 654.12,702.89 655.5,704.31 657.1,705.65 658.93,706.91 660.95,708.07 663.16,709.13 665.55,710.08 668.08,710.9 670.75,711.6 673.53,712.16 676.39,712.58 679.32,712.86 682.29,713 685.27,712.99 688.25,712.83 691.2,712.52 694.09,712.08 696.89,711.49 699.6,710.77 702.18,709.92 704.62,708.96 706.89,707.88" fill="#007777"/>
</g></svg>
<div id="legend">
<div class="sw" style="top:10px;background:#3366ff"></div>
<div class="sw" style="top:26px;background:#993300"></div>
<div class="sw" style="top:42px;background:#808000"></div>
<div class="sw" style="top:58px;background:#008080"></div>
<div class="lt" style="top:16.2px">x4</div>
<div class="lt" style="top:32.2px">x1</div>
<div class="lt" style="top:48.2px">x2</div>
<div class="lt" style="top:64.2px">x3</div>
<svg width="100" height="84" viewBox="1327 10 100 84" style="position:absolute;left:0;top:0">
<defs>
<linearGradient id="ir" x1="0" y1="0" x2="0" y2="1"><stop offset="0" stop-color="#fbd2d2"/><stop offset="1" stop-color="#f3a0a0"/></linearGradient>
<linearGradient id="ip" x1="0" y1="0" x2="0" y2="1"><stop offset="0" stop-color="#eddcf8"/><stop offset="1" stop-color="#c8a0e6"/></linearGradient>
<linearGradient id="ib" x1="0" y1="0" x2="0" y2="1"><stop offset="0" stop-color="#d6ecff"/><stop offset="1" stop-color="#9ccdf2"/></linearGradient>

</defs>
<rect x="1338.5" y="28.5" width="3" height="6" fill="url(#ir)" stroke="#e06060" stroke-width="1.2"/><rect x="1343.5" y="21.5" width="3" height="13" fill="url(#ip)" stroke="#9558d8" stroke-width="1.2"/><rect x="1348.5" y="24.7" width="3" height="9.8" fill="url(#ib)" stroke="#5a8db8" stroke-width="1.2"/><rect x="1338.5" y="44.5" width="3" height="6" fill="url(#ir)" stroke="#e06060" stroke-width="1.2"/><rect x="1343.5" y="37.5" width="3" height="13" fill="url(#ip)" stroke="#9558d8" stroke-width="1.2"/><rect x="1348.5" y="40.7" width="3" height="9.8" fill="url(#ib)" stroke="#5a8db8" stroke-width="1.2"/><rect x="1338.5" y="60.5" width="3" height="6" fill="url(#ir)" stroke="#e06060" stroke-width="1.2"/><rect x="1343.5" y="53.5" width="3" height="13" fill="url(#ip)" stroke="#9558d8" stroke-width="1.2"/><rect x="1348.5" y="56.7" width="3" height="9.8" fill="url(#ib)" stroke="#5a8db8" stroke-width="1.2"/><rect x="1338.5" y="76.5" width="3" height="6" fill="url(#ir)" stroke="#e06060" stroke-width="1.2"/><rect x="1343.5" y="69.5" width="3" height="13" fill="url(#ip)" stroke="#9558d8" stroke-width="1.2"/><rect x="1348.5" y="72.7" width="3" height="9.8" fill="url(#ib)" stroke="#5a8db8" stroke-width="1.2"/>
</svg>
</div>
<svg width="1437" height="914" viewBox="0 0 1437 914" style="position:absolute;left:0;top:0">
<defs><filter id="sh" x="-20%" y="-20%" width="140%" height="140%"><feGaussianBlur stdDeviation="1.6"/></filter></defs>
<rect x="1289.5" y="69.5" width="149" height="64" fill="none" stroke="rgba(40,20,0,0.30)" stroke-width="4" filter="url(#sh)"/>
</svg>
<div id="callout">Move Series Up</div>
<div id="menu"><div id="hl"></div><div id="hlf"></div><div class="mi" style="top:5.5px">Move Series Up</div><div class="mi" style="top:27.8px">Move Series Down</div></div>
<svg width="1437" height="914" viewBox="0 0 1437 914" style="position:absolute;left:0;top:0">
<polygon points="1105.5,59.8 1327.5,88.4 1327.5,89.1 1105.5,62.8" fill="#5050ac" stroke="#34348e" stroke-width="0.9"/>
<rect x="1285" y="65" width="149" height="64" fill="none" stroke="#c00000" stroke-width="2"/>
</svg>
</body></html>
